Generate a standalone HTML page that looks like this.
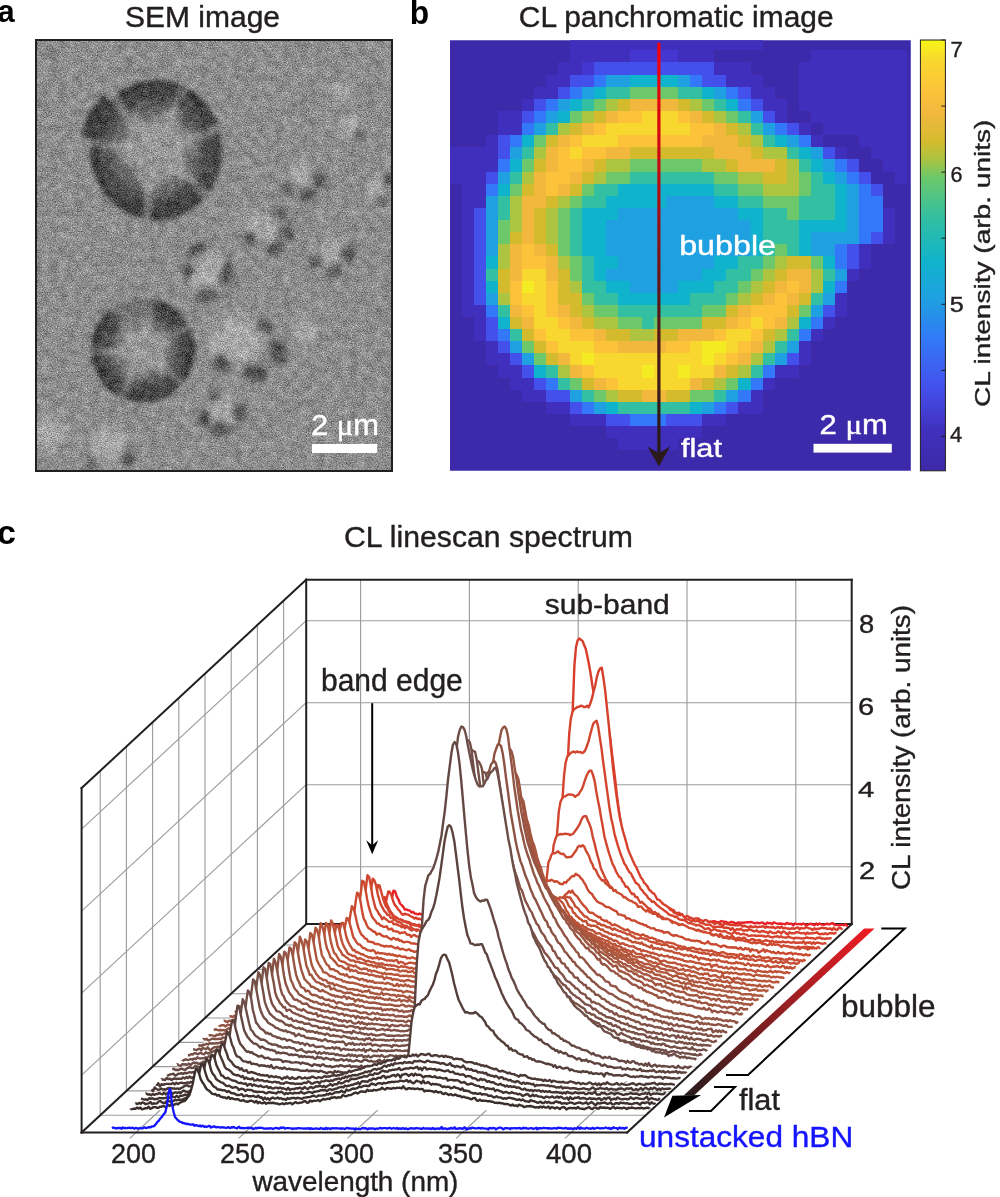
<!DOCTYPE html><html><head><meta charset="utf-8"><title>CL figure</title><style>html,body{margin:0;padding:0;background:#fff;}svg{display:block;}</style></head><body>
<svg width="1000" height="1197" viewBox="0 0 1000 1197" font-family="'Liberation Sans', Arial, Helvetica, sans-serif">
<rect width="1000" height="1197" fill="#fff"/>
<text x="-2.40" y="21.80" font-size="30.88" fill="#000" font-weight="bold">a</text>
<text x="409.80" y="23.70" font-size="32.42" fill="#000" font-weight="bold" textLength="19.40" lengthAdjust="spacingAndGlyphs">b</text>
<text x="-3.00" y="543.70" font-size="34.11" fill="#000" font-weight="bold">c</text>
<text x="125.00" y="27.00" font-size="29.05" fill="#231f20" textLength="155.00" lengthAdjust="spacingAndGlyphs" stroke="#231f20" stroke-width="0.4">SEM image</text>
<text x="518.80" y="27.40" font-size="28.60" fill="#231f20" textLength="314.80" lengthAdjust="spacingAndGlyphs" stroke="#231f20" stroke-width="0.4">CL panchromatic image</text>
<text x="344.00" y="546.80" font-size="29.53" fill="#231f20" textLength="289.00" lengthAdjust="spacingAndGlyphs" stroke="#231f20" stroke-width="0.4">CL linescan spectrum</text>
<filter id="b15" x="-20%" y="-20%" width="140%" height="140%"><feGaussianBlur stdDeviation="2.2"/></filter>
<clipPath id="semclip"><rect x="36.5" y="40.5" width="355.0" height="430.0"/></clipPath>
<filter id="b2" x="-30%" y="-30%" width="160%" height="160%"><feGaussianBlur stdDeviation="2"/></filter>
<filter id="b3" x="-30%" y="-30%" width="160%" height="160%"><feGaussianBlur stdDeviation="3"/></filter>
<filter id="b5" x="-40%" y="-40%" width="180%" height="180%"><feGaussianBlur stdDeviation="5"/></filter>
<filter id="b8" x="-50%" y="-50%" width="200%" height="200%"><feGaussianBlur stdDeviation="8"/></filter>
<filter id="noise" x="0" y="0" width="100%" height="100%" color-interpolation-filters="sRGB"><feTurbulence type="fractalNoise" baseFrequency="0.8" numOctaves="2" seed="7" result="t"/><feColorMatrix in="t" type="matrix" values="1 0 0 0 0  1 0 0 0 0  1 0 0 0 0  0 0 0 0 1" result="c"/><feGaussianBlur in="c" stdDeviation="0.5" result="cb"/><feComposite in="SourceGraphic" in2="cb" operator="arithmetic" k1="0" k2="1" k3="0.65" k4="-0.325" result="r1"/><feTurbulence type="fractalNoise" baseFrequency="0.12" numOctaves="2" seed="3" result="t2"/><feColorMatrix in="t2" type="matrix" values="1 0 0 0 0  1 0 0 0 0  1 0 0 0 0  0 0 0 0 1" result="c2"/><feComposite in="r1" in2="c2" operator="arithmetic" k1="0" k2="1" k3="0.22" k4="-0.11"/></filter>
<radialGradient id="gbig"><stop offset="0.00" stop-color="#959595"/><stop offset="0.40" stop-color="#7c7c7c"/><stop offset="0.65" stop-color="#565656"/><stop offset="0.88" stop-color="#3e3e3e"/><stop offset="1.00" stop-color="#444444"/></radialGradient>
<radialGradient id="gbig2"><stop offset="0.00" stop-color="#969696"/><stop offset="0.40" stop-color="#7e7e7e"/><stop offset="0.65" stop-color="#585858"/><stop offset="0.88" stop-color="#404040"/><stop offset="1.00" stop-color="#464646"/></radialGradient>
<radialGradient id="glight"><stop offset="0.00" stop-color="#a2a2a2"/><stop offset="0.60" stop-color="#9a9a9a"/><stop offset="1.00" stop-color="#8b8b8b"/></radialGradient>
<g clip-path="url(#semclip)"><g filter="url(#noise)">
<rect x="36.5" y="40.5" width="355.0" height="430.0" fill="#8d8d8d"/>
<radialGradient id="gb1" gradientUnits="userSpaceOnUse" cx="156.0" cy="150.0" r="71.4"><stop offset="0" stop-color="#8c8c8c"/><stop offset="0.43" stop-color="#767676"/><stop offset="0.72" stop-color="#505050"/><stop offset="0.95" stop-color="#3a3a3a"/><stop offset="1" stop-color="#404040"/></radialGradient>
<g filter="url(#b15)">
<ellipse cx="156.0" cy="150.0" rx="66.0" ry="70.0" fill="#747474"/>
<path d="M203.9,198.2 L202.2,200.0 L200.4,201.8 L198.5,203.5 L196.6,205.2 L194.7,206.7 L192.7,208.2 L190.6,209.6 L188.5,210.9 L186.3,212.2 L184.2,213.3 L181.9,214.4 L179.7,215.4 L177.4,216.2 L175.0,217.0 L172.7,217.7 L170.3,218.3 L167.9,218.9 L165.5,219.3 L163.0,219.6 L160.6,219.8 L158.2,220.0 L155.7,220.0 L153.3,219.9 L150.8,219.8 L153.6,179.9 L154.8,180.0 L155.9,180.0 L157.0,180.0 L158.1,179.9 L159.2,179.8 L160.3,179.7 L161.4,179.5 L162.5,179.3 L163.6,179.0 L164.6,178.7 L165.7,178.4 L166.8,178.0 L167.8,177.6 L168.8,177.1 L169.8,176.6 L170.8,176.1 L171.7,175.5 L172.7,174.9 L173.6,174.3 L174.5,173.6 L175.3,172.9 L176.2,172.2 L177.0,171.4 L177.8,170.7 Z" fill="url(#gb1)"/>
<path d="M142.8,218.6 L139.1,217.7 L135.3,216.5 L131.7,215.1 L128.1,213.4 L124.6,211.6 L121.3,209.5 L118.0,207.3 L114.9,204.8 L111.9,202.1 L109.1,199.3 L106.5,196.3 L104.0,193.1 L101.7,189.8 L99.6,186.3 L97.7,182.7 L95.9,179.0 L94.4,175.2 L93.1,171.3 L92.1,167.4 L91.2,163.4 L90.6,159.3 L90.2,155.2 L90.0,151.1 L90.1,146.9 L126.0,148.7 L126.0,150.5 L126.1,152.2 L126.3,154.0 L126.6,155.7 L126.9,157.4 L127.4,159.1 L128.0,160.8 L128.7,162.4 L129.5,164.0 L130.4,165.6 L131.3,167.0 L132.4,168.5 L133.5,169.8 L134.7,171.1 L136.0,172.3 L137.3,173.5 L138.7,174.5 L140.2,175.5 L141.7,176.4 L143.3,177.2 L144.9,177.9 L146.6,178.5 L148.3,179.0 L150.0,179.4 Z" fill="url(#gb1)"/>
<path d="M81.0,137.5 L81.4,135.4 L81.8,133.4 L82.3,131.5 L82.8,129.5 L83.4,127.5 L84.0,125.6 L84.7,123.6 L85.5,121.7 L86.2,119.8 L87.1,118.0 L88.0,116.1 L88.9,114.3 L89.9,112.5 L90.9,110.8 L92.0,109.0 L93.1,107.3 L94.3,105.6 L95.5,104.0 L96.8,102.4 L98.1,100.8 L99.4,99.3 L100.8,97.8 L102.2,96.3 L103.7,94.9 L135.3,128.2 L134.8,128.8 L134.2,129.4 L133.7,130.0 L133.1,130.6 L132.6,131.2 L132.1,131.8 L131.6,132.5 L131.2,133.2 L130.7,133.8 L130.3,134.5 L129.9,135.2 L129.5,135.9 L129.1,136.6 L128.8,137.4 L128.5,138.1 L128.2,138.8 L127.9,139.6 L127.6,140.4 L127.3,141.1 L127.1,141.9 L126.9,142.7 L126.7,143.5 L126.6,144.3 L126.4,145.0 Z" fill="url(#gb1)"/>
<path d="M116.7,93.7 L119.0,92.1 L121.3,90.5 L123.6,89.0 L126.0,87.6 L128.5,86.4 L131.0,85.2 L133.6,84.2 L136.2,83.2 L138.8,82.4 L141.4,81.7 L144.1,81.1 L146.8,80.7 L149.5,80.3 L152.3,80.1 L155.0,80.0 L157.7,80.0 L160.5,80.2 L163.2,80.4 L165.9,80.8 L168.6,81.3 L171.3,81.9 L173.9,82.6 L176.5,83.5 L179.1,84.4 L166.5,121.9 L165.3,121.5 L164.1,121.1 L162.9,120.8 L161.7,120.6 L160.5,120.3 L159.3,120.2 L158.0,120.1 L156.8,120.0 L155.5,120.0 L154.3,120.0 L153.1,120.1 L151.8,120.3 L150.6,120.5 L149.4,120.7 L148.2,121.0 L147.0,121.4 L145.8,121.8 L144.6,122.2 L143.5,122.7 L142.4,123.3 L141.3,123.9 L140.2,124.5 L139.2,125.2 L138.2,125.9 Z" fill="url(#gb1)"/>
<path d="M186.5,87.9 L188.2,88.9 L189.9,89.9 L191.6,91.0 L193.2,92.2 L194.8,93.4 L196.4,94.7 L197.9,96.0 L199.4,97.3 L200.9,98.7 L202.3,100.1 L203.7,101.6 L205.0,103.2 L206.3,104.7 L207.6,106.3 L208.8,108.0 L210.0,109.7 L211.1,111.4 L212.1,113.2 L213.1,115.0 L214.1,116.8 L215.0,118.6 L215.9,120.5 L216.7,122.4 L217.4,124.3 L183.9,139.0 L183.6,138.2 L183.2,137.4 L182.8,136.6 L182.4,135.8 L182.0,135.0 L181.5,134.2 L181.0,133.5 L180.5,132.7 L180.0,132.0 L179.5,131.3 L178.9,130.6 L178.3,129.9 L177.7,129.3 L177.1,128.6 L176.4,128.0 L175.7,127.4 L175.1,126.8 L174.4,126.3 L173.7,125.7 L172.9,125.2 L172.2,124.7 L171.4,124.3 L170.6,123.8 L169.9,123.4 Z" fill="url(#gb1)"/>
<path d="M219.9,132.5 L220.5,135.0 L220.9,137.5 L221.3,140.1 L221.6,142.7 L221.8,145.3 L222.0,147.9 L222.0,150.5 L221.9,153.1 L221.8,155.6 L221.5,158.2 L221.2,160.8 L220.8,163.4 L220.3,165.9 L219.7,168.4 L219.0,170.9 L218.2,173.4 L217.4,175.8 L216.4,178.2 L215.4,180.5 L214.3,182.9 L213.1,185.1 L211.8,187.4 L210.5,189.5 L209.1,191.6 L180.1,167.8 L180.8,166.9 L181.4,166.0 L181.9,165.1 L182.5,164.1 L183.0,163.1 L183.5,162.1 L183.9,161.1 L184.3,160.0 L184.6,159.0 L184.9,157.9 L185.2,156.8 L185.4,155.7 L185.6,154.6 L185.8,153.5 L185.9,152.4 L186.0,151.3 L186.0,150.2 L186.0,149.1 L185.9,148.0 L185.8,146.9 L185.7,145.8 L185.5,144.7 L185.3,143.6 L185.0,142.5 Z" fill="url(#gb1)"/>
</g>
<g filter="url(#b3)"><path d="M194.6,182.4 L165.7,175.2 L149.0,199.9 L134.7,166.6 L105.9,144.7 L132.2,137.3 L123.6,111.4 L152.2,123.3 L176.5,104.0 L176.1,131.9 L203.9,134.4 L182.5,155.2 Z" fill="#979797"/></g>
<radialGradient id="gb2" gradientUnits="userSpaceOnUse" cx="143.0" cy="350.0" r="53.0"><stop offset="0" stop-color="#8c8c8c"/><stop offset="0.42" stop-color="#767676"/><stop offset="0.72" stop-color="#505050"/><stop offset="0.95" stop-color="#3a3a3a"/><stop offset="1" stop-color="#404040"/></radialGradient>
<g filter="url(#b15)">
<ellipse cx="143.0" cy="350.0" rx="52.0" ry="52.0" fill="#747474"/>
<path d="M180.7,385.8 L178.9,387.6 L177.0,389.3 L175.0,391.0 L172.9,392.5 L170.8,393.9 L168.6,395.3 L166.3,396.5 L164.0,397.6 L161.6,398.5 L159.2,399.4 L156.8,400.1 L154.3,400.8 L151.7,401.3 L149.2,401.6 L146.6,401.9 L144.1,402.0 L141.5,402.0 L138.9,401.8 L136.4,401.6 L133.8,401.2 L131.3,400.7 L128.8,400.0 L126.4,399.3 L123.9,398.4 L134.9,370.5 L136.0,370.8 L137.0,371.2 L138.1,371.4 L139.1,371.7 L140.2,371.8 L141.3,371.9 L142.4,372.0 L143.4,372.0 L144.5,371.9 L145.6,371.8 L146.7,371.7 L147.8,371.5 L148.8,371.2 L149.9,370.9 L150.9,370.5 L151.9,370.1 L152.9,369.7 L153.8,369.1 L154.8,368.6 L155.7,368.0 L156.5,367.3 L157.4,366.6 L158.2,365.9 L159.0,365.1 Z" fill="url(#gb2)"/>
<path d="M118.2,395.7 L116.3,394.7 L114.6,393.5 L112.8,392.3 L111.1,391.1 L109.5,389.7 L107.9,388.3 L106.3,386.9 L104.9,385.4 L103.5,383.8 L102.1,382.1 L100.8,380.4 L99.6,378.7 L98.5,376.9 L97.4,375.1 L96.5,373.2 L95.6,371.3 L94.7,369.3 L94.0,367.4 L93.3,365.3 L92.7,363.3 L92.2,361.3 L91.8,359.2 L91.5,357.1 L91.2,355.0 L121.1,352.1 L121.2,353.0 L121.3,353.9 L121.5,354.8 L121.7,355.6 L122.0,356.5 L122.3,357.3 L122.6,358.2 L122.9,359.0 L123.3,359.8 L123.7,360.6 L124.2,361.4 L124.7,362.1 L125.2,362.9 L125.7,363.6 L126.3,364.3 L126.9,365.0 L127.5,365.6 L128.1,366.2 L128.8,366.8 L129.5,367.4 L130.2,367.9 L131.0,368.4 L131.7,368.9 L132.5,369.3 Z" fill="url(#gb2)"/>
<path d="M91.0,348.6 L91.1,346.7 L91.3,344.8 L91.5,342.9 L91.8,341.0 L92.2,339.1 L92.6,337.2 L93.1,335.3 L93.7,333.5 L94.3,331.7 L95.0,329.9 L95.8,328.1 L96.7,326.4 L97.6,324.7 L98.5,323.0 L99.6,321.4 L100.7,319.8 L101.8,318.3 L103.0,316.7 L104.3,315.3 L105.6,313.9 L107.0,312.5 L108.4,311.2 L109.8,309.9 L111.3,308.7 L129.6,332.5 L129.0,333.1 L128.4,333.6 L127.8,334.1 L127.2,334.7 L126.6,335.3 L126.1,335.9 L125.6,336.6 L125.1,337.2 L124.6,337.9 L124.2,338.6 L123.8,339.3 L123.4,340.0 L123.0,340.7 L122.7,341.5 L122.4,342.3 L122.1,343.0 L121.9,343.8 L121.7,344.6 L121.5,345.4 L121.3,346.2 L121.2,347.0 L121.1,347.8 L121.0,348.6 L121.0,349.4 Z" fill="url(#gb2)"/>
<path d="M155.1,299.4 L156.8,299.9 L158.5,300.4 L160.1,300.9 L161.8,301.5 L163.4,302.2 L165.0,302.9 L166.5,303.6 L168.1,304.4 L169.6,305.3 L171.1,306.2 L172.5,307.2 L173.9,308.2 L175.3,309.3 L176.7,310.4 L178.0,311.5 L179.2,312.7 L180.5,313.9 L181.6,315.2 L182.8,316.5 L183.9,317.9 L184.9,319.3 L185.9,320.7 L186.9,322.1 L187.8,323.6 L162.0,338.8 L161.6,338.2 L161.2,337.6 L160.7,337.0 L160.3,336.4 L159.8,335.8 L159.3,335.3 L158.8,334.7 L158.3,334.2 L157.8,333.7 L157.2,333.2 L156.7,332.8 L156.1,332.3 L155.5,331.9 L154.9,331.5 L154.2,331.1 L153.6,330.7 L153.0,330.4 L152.3,330.1 L151.6,329.8 L150.9,329.5 L150.3,329.2 L149.6,329.0 L148.8,328.8 L148.1,328.6 Z" fill="url(#gb2)"/>
<path d="M190.7,329.3 L191.5,331.4 L192.3,333.5 L193.0,335.7 L193.6,337.9 L194.0,340.1 L194.4,342.3 L194.7,344.6 L194.9,346.8 L195.0,349.1 L195.0,351.4 L194.9,353.6 L194.7,355.9 L194.4,358.1 L194.0,360.4 L193.5,362.6 L192.9,364.8 L192.2,366.9 L191.4,369.1 L190.5,371.2 L189.5,373.2 L188.5,375.2 L187.3,377.2 L186.1,379.1 L184.8,380.9 L160.7,363.1 L161.2,362.3 L161.8,361.5 L162.2,360.7 L162.7,359.8 L163.1,358.9 L163.5,358.1 L163.8,357.2 L164.1,356.2 L164.3,355.3 L164.6,354.4 L164.7,353.4 L164.9,352.5 L164.9,351.5 L165.0,350.6 L165.0,349.6 L165.0,348.7 L164.9,347.7 L164.8,346.7 L164.6,345.8 L164.4,344.9 L164.1,343.9 L163.9,343.0 L163.5,342.1 L163.2,341.2 Z" fill="url(#gb2)"/>
</g>
<g filter="url(#b3)"><path d="M171.7,374.1 L147.3,369.3 L127.2,383.9 L126.5,360.9 L105.6,351.3 L125.4,341.0 L122.1,319.0 L138.9,330.6 L149.5,313.1 L154.8,334.1 L176.4,333.0 L162.7,352.2 Z" fill="#979797"/></g>
<g filter="url(#b5)"><circle cx="207" cy="271" r="19" fill="#a6a6a6"/></g>
<g filter="url(#b3)" opacity="0.9">
<ellipse cx="227" cy="274" rx="6" ry="13" fill="#484848" transform="rotate(0 227 274)"/>
<ellipse cx="207" cy="296" rx="11" ry="6" fill="#484848" transform="rotate(0 207 296)"/>
<ellipse cx="196" cy="250" rx="10" ry="6" fill="#484848" transform="rotate(-30 196 250)"/>
<ellipse cx="188" cy="270" rx="5" ry="8" fill="#484848" transform="rotate(0 188 270)"/>
</g>
<g filter="url(#b5)"><circle cx="236" cy="342" r="27" fill="#a6a6a6"/></g>
<g filter="url(#b3)" opacity="0.9">
<ellipse cx="278" cy="352" rx="8" ry="13" fill="#484848" transform="rotate(-10 278 352)"/>
<ellipse cx="255" cy="373" rx="13" ry="8" fill="#484848" transform="rotate(10 255 373)"/>
<ellipse cx="222" cy="364" rx="10" ry="8" fill="#484848" transform="rotate(30 222 364)"/>
<ellipse cx="265" cy="326" rx="8" ry="6" fill="#484848" transform="rotate(20 265 326)"/>
</g>
<g filter="url(#b5)"><circle cx="221" cy="411" r="14" fill="#a6a6a6"/></g>
<g filter="url(#b3)" opacity="0.9">
<ellipse cx="240" cy="413" rx="6" ry="10" fill="#484848" transform="rotate(0 240 413)"/>
<ellipse cx="221" cy="429" rx="11" ry="6" fill="#484848" transform="rotate(0 221 429)"/>
<ellipse cx="205" cy="419" rx="6" ry="8" fill="#484848" transform="rotate(0 205 419)"/>
<ellipse cx="214" cy="396" rx="6" ry="4" fill="#484848" transform="rotate(0 214 396)"/>
</g>
<g filter="url(#b5)"><circle cx="300" cy="177" r="13" fill="#a6a6a6"/></g>
<g filter="url(#b3)" opacity="0.9">
<ellipse cx="319" cy="180" rx="6" ry="9" fill="#484848" transform="rotate(0 319 180)"/>
<ellipse cx="307" cy="195" rx="9" ry="6" fill="#484848" transform="rotate(0 307 195)"/>
<ellipse cx="288" cy="188" rx="5" ry="7" fill="#484848" transform="rotate(0 288 188)"/>
</g>
<g filter="url(#b5)"><circle cx="261" cy="226" r="16" fill="#a6a6a6"/></g>
<g filter="url(#b3)" opacity="0.9">
<ellipse cx="280" cy="213" rx="7" ry="6" fill="#484848" transform="rotate(30 280 213)"/>
<ellipse cx="288" cy="233" rx="6" ry="9" fill="#484848" transform="rotate(0 288 233)"/>
<ellipse cx="275" cy="249" rx="9" ry="6" fill="#484848" transform="rotate(0 275 249)"/>
<ellipse cx="250" cy="239" rx="6" ry="7" fill="#484848" transform="rotate(0 250 239)"/>
</g>
<g filter="url(#b5)"><circle cx="331" cy="252" r="14" fill="#a6a6a6"/></g>
<g filter="url(#b3)" opacity="0.9">
<ellipse cx="348" cy="254" rx="6" ry="10" fill="#484848" transform="rotate(0 348 254)"/>
<ellipse cx="334" cy="271" rx="9" ry="5" fill="#484848" transform="rotate(0 334 271)"/>
<ellipse cx="315" cy="262" rx="5" ry="7" fill="#484848" transform="rotate(0 315 262)"/>
</g>
<g filter="url(#b5)"><circle cx="348" cy="126" r="11" fill="#a6a6a6"/></g>
<g filter="url(#b3)" opacity="0.9">
<ellipse cx="359" cy="134" rx="5" ry="5" fill="#484848" transform="rotate(0 359 134)"/>
</g>
<g filter="url(#b5)"><circle cx="378" cy="188" r="11" fill="#a6a6a6"/></g>
<g filter="url(#b3)" opacity="0.9">
<ellipse cx="389" cy="180" rx="5" ry="6" fill="#484848" transform="rotate(0 389 180)"/>
<ellipse cx="382" cy="201" rx="5" ry="4" fill="#484848" transform="rotate(0 382 201)"/>
</g>
<g filter="url(#b5)"><circle cx="305" cy="331" r="12" fill="#a6a6a6"/></g>
<g filter="url(#b5)"><circle cx="50" cy="432" r="17" fill="#a6a6a6"/></g>
<g filter="url(#b5)"><circle cx="108" cy="446" r="19" fill="#a6a6a6"/></g>
<g filter="url(#b3)" opacity="0.9">
<ellipse cx="128" cy="458" rx="7" ry="7" fill="#484848" transform="rotate(0 128 458)"/>
<ellipse cx="92" cy="463" rx="6" ry="5" fill="#484848" transform="rotate(0 92 463)"/>
</g>
<g filter="url(#b5)"><circle cx="342" cy="92" r="9" fill="#a6a6a6"/></g>
<g filter="url(#b3)"><circle cx="52" cy="52" r="5" fill="#6a6a6a"/></g>
</g></g>
<rect x="36.0" y="40.0" width="356.0" height="431.0" fill="none" stroke="#231f20" stroke-width="2"/>
<rect x="312" y="444" width="65.2" height="9" fill="#fff"/>
<text x="311.00" y="435.20" font-size="29.48" fill="#fff" textLength="68.00" lengthAdjust="spacingAndGlyphs" stroke="#fff" stroke-width="0.4">2 <tspan font-family="'Liberation Serif', serif">&#956;</tspan>m</text>
<clipPath id="clclip"><rect x="450.0" y="40.3" width="460.8" height="430.5"/></clipPath>
<g clip-path="url(#clclip)" shape-rendering="crispEdges">
<rect x="450.0" y="40.3" width="460.8" height="430.5" fill="#3c2aab"/>
<rect x="570.20" y="38.23" width="192.32" height="12.12" fill="#402fbc"/>
<rect x="570.20" y="50.35" width="60.10" height="12.12" fill="#402fbc"/>
<rect x="630.30" y="50.35" width="48.08" height="12.12" fill="#4436d0"/>
<rect x="678.38" y="50.35" width="36.06" height="12.12" fill="#402fbc"/>
<rect x="810.60" y="50.35" width="96.16" height="12.12" fill="#402fbc"/>
<rect x="558.18" y="62.47" width="24.04" height="12.12" fill="#402fbc"/>
<rect x="582.22" y="62.47" width="12.02" height="12.12" fill="#4436d0"/>
<rect x="594.24" y="62.47" width="120.20" height="12.12" fill="#4450ec"/>
<rect x="714.44" y="62.47" width="36.06" height="12.12" fill="#402fbc"/>
<rect x="798.58" y="62.47" width="108.18" height="12.12" fill="#402fbc"/>
<rect x="546.16" y="74.59" width="24.04" height="12.12" fill="#402fbc"/>
<rect x="570.20" y="74.59" width="24.04" height="12.12" fill="#4450ec"/>
<rect x="594.24" y="74.59" width="12.02" height="12.12" fill="#3378f8"/>
<rect x="606.26" y="74.59" width="24.04" height="12.12" fill="#1fa0e1"/>
<rect x="630.30" y="74.59" width="48.08" height="12.12" fill="#10b3cc"/>
<rect x="678.38" y="74.59" width="12.02" height="12.12" fill="#1fa0e1"/>
<rect x="690.40" y="74.59" width="12.02" height="12.12" fill="#3378f8"/>
<rect x="702.42" y="74.59" width="24.04" height="12.12" fill="#4450ec"/>
<rect x="726.46" y="74.59" width="36.06" height="12.12" fill="#402fbc"/>
<rect x="798.58" y="74.59" width="108.18" height="12.12" fill="#402fbc"/>
<rect x="534.14" y="86.71" width="24.04" height="12.12" fill="#402fbc"/>
<rect x="558.18" y="86.71" width="12.02" height="12.12" fill="#4450ec"/>
<rect x="570.20" y="86.71" width="12.02" height="12.12" fill="#3378f8"/>
<rect x="582.22" y="86.71" width="12.02" height="12.12" fill="#1fa0e1"/>
<rect x="594.24" y="86.71" width="12.02" height="12.12" fill="#10b3cc"/>
<rect x="606.26" y="86.71" width="24.04" height="12.12" fill="#32bfa2"/>
<rect x="630.30" y="86.71" width="48.08" height="12.12" fill="#6cc86a"/>
<rect x="678.38" y="86.71" width="24.04" height="12.12" fill="#32bfa2"/>
<rect x="702.42" y="86.71" width="12.02" height="12.12" fill="#10b3cc"/>
<rect x="714.44" y="86.71" width="12.02" height="12.12" fill="#1fa0e1"/>
<rect x="726.46" y="86.71" width="12.02" height="12.12" fill="#3378f8"/>
<rect x="738.48" y="86.71" width="12.02" height="12.12" fill="#4450ec"/>
<rect x="750.50" y="86.71" width="24.04" height="12.12" fill="#402fbc"/>
<rect x="798.58" y="86.71" width="108.18" height="12.12" fill="#402fbc"/>
<rect x="522.12" y="98.83" width="12.02" height="12.12" fill="#402fbc"/>
<rect x="534.14" y="98.83" width="12.02" height="12.12" fill="#4450ec"/>
<rect x="546.16" y="98.83" width="12.02" height="12.12" fill="#3378f8"/>
<rect x="558.18" y="98.83" width="12.02" height="12.12" fill="#1fa0e1"/>
<rect x="570.20" y="98.83" width="12.02" height="12.12" fill="#10b3cc"/>
<rect x="582.22" y="98.83" width="12.02" height="12.12" fill="#32bfa2"/>
<rect x="594.24" y="98.83" width="12.02" height="12.12" fill="#6cc86a"/>
<rect x="606.26" y="98.83" width="12.02" height="12.12" fill="#acc440"/>
<rect x="618.28" y="98.83" width="12.02" height="12.12" fill="#d4bb2e"/>
<rect x="630.30" y="98.83" width="48.08" height="12.12" fill="#f2b83e"/>
<rect x="678.38" y="98.83" width="12.02" height="12.12" fill="#d4bb2e"/>
<rect x="690.40" y="98.83" width="12.02" height="12.12" fill="#acc440"/>
<rect x="702.42" y="98.83" width="12.02" height="12.12" fill="#6cc86a"/>
<rect x="714.44" y="98.83" width="12.02" height="12.12" fill="#32bfa2"/>
<rect x="726.46" y="98.83" width="12.02" height="12.12" fill="#10b3cc"/>
<rect x="738.48" y="98.83" width="12.02" height="12.12" fill="#3378f8"/>
<rect x="750.50" y="98.83" width="12.02" height="12.12" fill="#4450ec"/>
<rect x="762.52" y="98.83" width="24.04" height="12.12" fill="#402fbc"/>
<rect x="798.58" y="98.83" width="108.18" height="12.12" fill="#402fbc"/>
<rect x="498.08" y="110.95" width="24.04" height="12.12" fill="#402fbc"/>
<rect x="522.12" y="110.95" width="12.02" height="12.12" fill="#4450ec"/>
<rect x="534.14" y="110.95" width="12.02" height="12.12" fill="#3378f8"/>
<rect x="546.16" y="110.95" width="12.02" height="12.12" fill="#1fa0e1"/>
<rect x="558.18" y="110.95" width="12.02" height="12.12" fill="#10b3cc"/>
<rect x="570.20" y="110.95" width="12.02" height="12.12" fill="#6cc86a"/>
<rect x="582.22" y="110.95" width="12.02" height="12.12" fill="#acc440"/>
<rect x="594.24" y="110.95" width="12.02" height="12.12" fill="#d4bb2e"/>
<rect x="606.26" y="110.95" width="12.02" height="12.12" fill="#f2b83e"/>
<rect x="618.28" y="110.95" width="24.04" height="12.12" fill="#fcc33a"/>
<rect x="642.32" y="110.95" width="36.06" height="12.12" fill="#f8d82e"/>
<rect x="678.38" y="110.95" width="12.02" height="12.12" fill="#fcc33a"/>
<rect x="690.40" y="110.95" width="12.02" height="12.12" fill="#f2b83e"/>
<rect x="702.42" y="110.95" width="12.02" height="12.12" fill="#d4bb2e"/>
<rect x="714.44" y="110.95" width="12.02" height="12.12" fill="#acc440"/>
<rect x="726.46" y="110.95" width="12.02" height="12.12" fill="#6cc86a"/>
<rect x="738.48" y="110.95" width="12.02" height="12.12" fill="#32bfa2"/>
<rect x="750.50" y="110.95" width="12.02" height="12.12" fill="#1fa0e1"/>
<rect x="762.52" y="110.95" width="12.02" height="12.12" fill="#4450ec"/>
<rect x="774.54" y="110.95" width="12.02" height="12.12" fill="#402fbc"/>
<rect x="810.60" y="110.95" width="96.16" height="12.12" fill="#402fbc"/>
<rect x="498.08" y="123.07" width="24.04" height="12.12" fill="#402fbc"/>
<rect x="522.12" y="123.07" width="12.02" height="12.12" fill="#3378f8"/>
<rect x="534.14" y="123.07" width="12.02" height="12.12" fill="#1fa0e1"/>
<rect x="546.16" y="123.07" width="12.02" height="12.12" fill="#32bfa2"/>
<rect x="558.18" y="123.07" width="12.02" height="12.12" fill="#acc440"/>
<rect x="570.20" y="123.07" width="12.02" height="12.12" fill="#d4bb2e"/>
<rect x="582.22" y="123.07" width="12.02" height="12.12" fill="#f2b83e"/>
<rect x="594.24" y="123.07" width="12.02" height="12.12" fill="#fcc33a"/>
<rect x="606.26" y="123.07" width="84.14" height="12.12" fill="#f8d82e"/>
<rect x="690.40" y="123.07" width="24.04" height="12.12" fill="#fcc33a"/>
<rect x="714.44" y="123.07" width="12.02" height="12.12" fill="#f2b83e"/>
<rect x="726.46" y="123.07" width="12.02" height="12.12" fill="#d4bb2e"/>
<rect x="738.48" y="123.07" width="12.02" height="12.12" fill="#acc440"/>
<rect x="750.50" y="123.07" width="12.02" height="12.12" fill="#32bfa2"/>
<rect x="762.52" y="123.07" width="12.02" height="12.12" fill="#1fa0e1"/>
<rect x="774.54" y="123.07" width="12.02" height="12.12" fill="#3378f8"/>
<rect x="786.56" y="123.07" width="12.02" height="12.12" fill="#4450ec"/>
<rect x="798.58" y="123.07" width="12.02" height="12.12" fill="#402fbc"/>
<rect x="822.62" y="123.07" width="84.14" height="12.12" fill="#402fbc"/>
<rect x="486.06" y="135.19" width="12.02" height="12.12" fill="#402fbc"/>
<rect x="498.08" y="135.19" width="12.02" height="12.12" fill="#4450ec"/>
<rect x="510.10" y="135.19" width="12.02" height="12.12" fill="#3378f8"/>
<rect x="522.12" y="135.19" width="12.02" height="12.12" fill="#10b3cc"/>
<rect x="534.14" y="135.19" width="12.02" height="12.12" fill="#6cc86a"/>
<rect x="546.16" y="135.19" width="12.02" height="12.12" fill="#d4bb2e"/>
<rect x="558.18" y="135.19" width="12.02" height="12.12" fill="#f2b83e"/>
<rect x="570.20" y="135.19" width="12.02" height="12.12" fill="#fcc33a"/>
<rect x="582.22" y="135.19" width="36.06" height="12.12" fill="#f8d82e"/>
<rect x="618.28" y="135.19" width="84.14" height="12.12" fill="#fcc33a"/>
<rect x="702.42" y="135.19" width="36.06" height="12.12" fill="#f2b83e"/>
<rect x="738.48" y="135.19" width="12.02" height="12.12" fill="#d4bb2e"/>
<rect x="750.50" y="135.19" width="12.02" height="12.12" fill="#acc440"/>
<rect x="762.52" y="135.19" width="12.02" height="12.12" fill="#32bfa2"/>
<rect x="774.54" y="135.19" width="12.02" height="12.12" fill="#10b3cc"/>
<rect x="786.56" y="135.19" width="12.02" height="12.12" fill="#1fa0e1"/>
<rect x="798.58" y="135.19" width="12.02" height="12.12" fill="#3378f8"/>
<rect x="810.60" y="135.19" width="12.02" height="12.12" fill="#402fbc"/>
<rect x="858.68" y="135.19" width="48.08" height="12.12" fill="#402fbc"/>
<rect x="450.00" y="147.31" width="48.08" height="12.12" fill="#402fbc"/>
<rect x="498.08" y="147.31" width="12.02" height="12.12" fill="#4450ec"/>
<rect x="510.10" y="147.31" width="12.02" height="12.12" fill="#1fa0e1"/>
<rect x="522.12" y="147.31" width="12.02" height="12.12" fill="#32bfa2"/>
<rect x="534.14" y="147.31" width="12.02" height="12.12" fill="#acc440"/>
<rect x="546.16" y="147.31" width="12.02" height="12.12" fill="#f2b83e"/>
<rect x="558.18" y="147.31" width="12.02" height="12.12" fill="#fcc33a"/>
<rect x="570.20" y="147.31" width="12.02" height="12.12" fill="#f8d82e"/>
<rect x="582.22" y="147.31" width="24.04" height="12.12" fill="#fcc33a"/>
<rect x="606.26" y="147.31" width="24.04" height="12.12" fill="#f2b83e"/>
<rect x="630.30" y="147.31" width="84.14" height="12.12" fill="#d4bb2e"/>
<rect x="714.44" y="147.31" width="36.06" height="12.12" fill="#f2b83e"/>
<rect x="750.50" y="147.31" width="12.02" height="12.12" fill="#d4bb2e"/>
<rect x="762.52" y="147.31" width="24.04" height="12.12" fill="#acc440"/>
<rect x="786.56" y="147.31" width="12.02" height="12.12" fill="#32bfa2"/>
<rect x="798.58" y="147.31" width="12.02" height="12.12" fill="#10b3cc"/>
<rect x="810.60" y="147.31" width="12.02" height="12.12" fill="#1fa0e1"/>
<rect x="822.62" y="147.31" width="12.02" height="12.12" fill="#4450ec"/>
<rect x="834.64" y="147.31" width="12.02" height="12.12" fill="#402fbc"/>
<rect x="870.70" y="147.31" width="36.06" height="12.12" fill="#402fbc"/>
<rect x="450.00" y="159.43" width="48.08" height="12.12" fill="#402fbc"/>
<rect x="498.08" y="159.43" width="12.02" height="12.12" fill="#3378f8"/>
<rect x="510.10" y="159.43" width="12.02" height="12.12" fill="#10b3cc"/>
<rect x="522.12" y="159.43" width="12.02" height="12.12" fill="#6cc86a"/>
<rect x="534.14" y="159.43" width="12.02" height="12.12" fill="#d4bb2e"/>
<rect x="546.16" y="159.43" width="12.02" height="12.12" fill="#f2b83e"/>
<rect x="558.18" y="159.43" width="24.04" height="12.12" fill="#fcc33a"/>
<rect x="582.22" y="159.43" width="12.02" height="12.12" fill="#f2b83e"/>
<rect x="594.24" y="159.43" width="12.02" height="12.12" fill="#d4bb2e"/>
<rect x="606.26" y="159.43" width="24.04" height="12.12" fill="#acc440"/>
<rect x="630.30" y="159.43" width="72.12" height="12.12" fill="#6cc86a"/>
<rect x="702.42" y="159.43" width="24.04" height="12.12" fill="#acc440"/>
<rect x="726.46" y="159.43" width="12.02" height="12.12" fill="#d4bb2e"/>
<rect x="738.48" y="159.43" width="36.06" height="12.12" fill="#f2b83e"/>
<rect x="774.54" y="159.43" width="12.02" height="12.12" fill="#d4bb2e"/>
<rect x="786.56" y="159.43" width="12.02" height="12.12" fill="#acc440"/>
<rect x="798.58" y="159.43" width="12.02" height="12.12" fill="#32bfa2"/>
<rect x="810.60" y="159.43" width="12.02" height="12.12" fill="#10b3cc"/>
<rect x="822.62" y="159.43" width="12.02" height="12.12" fill="#1fa0e1"/>
<rect x="834.64" y="159.43" width="12.02" height="12.12" fill="#3378f8"/>
<rect x="846.66" y="159.43" width="12.02" height="12.12" fill="#4450ec"/>
<rect x="882.72" y="159.43" width="24.04" height="12.12" fill="#402fbc"/>
<rect x="450.00" y="171.55" width="36.06" height="12.12" fill="#402fbc"/>
<rect x="486.06" y="171.55" width="12.02" height="12.12" fill="#4450ec"/>
<rect x="498.08" y="171.55" width="12.02" height="12.12" fill="#1fa0e1"/>
<rect x="510.10" y="171.55" width="12.02" height="12.12" fill="#32bfa2"/>
<rect x="522.12" y="171.55" width="12.02" height="12.12" fill="#acc440"/>
<rect x="534.14" y="171.55" width="12.02" height="12.12" fill="#f2b83e"/>
<rect x="546.16" y="171.55" width="24.04" height="12.12" fill="#fcc33a"/>
<rect x="570.20" y="171.55" width="12.02" height="12.12" fill="#f2b83e"/>
<rect x="582.22" y="171.55" width="12.02" height="12.12" fill="#d4bb2e"/>
<rect x="594.24" y="171.55" width="12.02" height="12.12" fill="#acc440"/>
<rect x="606.26" y="171.55" width="24.04" height="12.12" fill="#6cc86a"/>
<rect x="630.30" y="171.55" width="84.14" height="12.12" fill="#32bfa2"/>
<rect x="714.44" y="171.55" width="24.04" height="12.12" fill="#6cc86a"/>
<rect x="738.48" y="171.55" width="24.04" height="12.12" fill="#acc440"/>
<rect x="762.52" y="171.55" width="24.04" height="12.12" fill="#d4bb2e"/>
<rect x="786.56" y="171.55" width="12.02" height="12.12" fill="#acc440"/>
<rect x="798.58" y="171.55" width="12.02" height="12.12" fill="#6cc86a"/>
<rect x="810.60" y="171.55" width="12.02" height="12.12" fill="#32bfa2"/>
<rect x="822.62" y="171.55" width="12.02" height="12.12" fill="#10b3cc"/>
<rect x="834.64" y="171.55" width="12.02" height="12.12" fill="#1fa0e1"/>
<rect x="846.66" y="171.55" width="12.02" height="12.12" fill="#3378f8"/>
<rect x="858.68" y="171.55" width="12.02" height="12.12" fill="#4450ec"/>
<rect x="894.74" y="171.55" width="12.02" height="12.12" fill="#402fbc"/>
<rect x="462.02" y="183.67" width="24.04" height="12.12" fill="#402fbc"/>
<rect x="486.06" y="183.67" width="12.02" height="12.12" fill="#3378f8"/>
<rect x="498.08" y="183.67" width="12.02" height="12.12" fill="#10b3cc"/>
<rect x="510.10" y="183.67" width="12.02" height="12.12" fill="#6cc86a"/>
<rect x="522.12" y="183.67" width="12.02" height="12.12" fill="#d4bb2e"/>
<rect x="534.14" y="183.67" width="12.02" height="12.12" fill="#f2b83e"/>
<rect x="546.16" y="183.67" width="12.02" height="12.12" fill="#fcc33a"/>
<rect x="558.18" y="183.67" width="12.02" height="12.12" fill="#f2b83e"/>
<rect x="570.20" y="183.67" width="12.02" height="12.12" fill="#d4bb2e"/>
<rect x="582.22" y="183.67" width="12.02" height="12.12" fill="#6cc86a"/>
<rect x="594.24" y="183.67" width="24.04" height="12.12" fill="#32bfa2"/>
<rect x="618.28" y="183.67" width="96.16" height="12.12" fill="#10b3cc"/>
<rect x="714.44" y="183.67" width="24.04" height="12.12" fill="#32bfa2"/>
<rect x="738.48" y="183.67" width="24.04" height="12.12" fill="#6cc86a"/>
<rect x="762.52" y="183.67" width="36.06" height="12.12" fill="#acc440"/>
<rect x="798.58" y="183.67" width="12.02" height="12.12" fill="#6cc86a"/>
<rect x="810.60" y="183.67" width="24.04" height="12.12" fill="#32bfa2"/>
<rect x="834.64" y="183.67" width="12.02" height="12.12" fill="#10b3cc"/>
<rect x="846.66" y="183.67" width="12.02" height="12.12" fill="#1fa0e1"/>
<rect x="858.68" y="183.67" width="12.02" height="12.12" fill="#3378f8"/>
<rect x="870.70" y="183.67" width="12.02" height="12.12" fill="#4450ec"/>
<rect x="462.02" y="195.79" width="24.04" height="12.12" fill="#402fbc"/>
<rect x="486.06" y="195.79" width="12.02" height="12.12" fill="#1fa0e1"/>
<rect x="498.08" y="195.79" width="12.02" height="12.12" fill="#32bfa2"/>
<rect x="510.10" y="195.79" width="12.02" height="12.12" fill="#acc440"/>
<rect x="522.12" y="195.79" width="24.04" height="12.12" fill="#f2b83e"/>
<rect x="546.16" y="195.79" width="12.02" height="12.12" fill="#d4bb2e"/>
<rect x="558.18" y="195.79" width="12.02" height="12.12" fill="#acc440"/>
<rect x="570.20" y="195.79" width="12.02" height="12.12" fill="#6cc86a"/>
<rect x="582.22" y="195.79" width="24.04" height="12.12" fill="#32bfa2"/>
<rect x="606.26" y="195.79" width="60.10" height="12.12" fill="#10b3cc"/>
<rect x="666.36" y="195.79" width="48.08" height="12.12" fill="#1fa0e1"/>
<rect x="714.44" y="195.79" width="24.04" height="12.12" fill="#10b3cc"/>
<rect x="738.48" y="195.79" width="24.04" height="12.12" fill="#32bfa2"/>
<rect x="762.52" y="195.79" width="36.06" height="12.12" fill="#6cc86a"/>
<rect x="798.58" y="195.79" width="36.06" height="12.12" fill="#32bfa2"/>
<rect x="834.64" y="195.79" width="12.02" height="12.12" fill="#10b3cc"/>
<rect x="846.66" y="195.79" width="12.02" height="12.12" fill="#1fa0e1"/>
<rect x="858.68" y="195.79" width="24.04" height="12.12" fill="#3378f8"/>
<rect x="462.02" y="207.91" width="12.02" height="12.12" fill="#402fbc"/>
<rect x="474.04" y="207.91" width="12.02" height="12.12" fill="#4450ec"/>
<rect x="486.06" y="207.91" width="12.02" height="12.12" fill="#1fa0e1"/>
<rect x="498.08" y="207.91" width="12.02" height="12.12" fill="#32bfa2"/>
<rect x="510.10" y="207.91" width="12.02" height="12.12" fill="#acc440"/>
<rect x="522.12" y="207.91" width="12.02" height="12.12" fill="#f2b83e"/>
<rect x="534.14" y="207.91" width="12.02" height="12.12" fill="#d4bb2e"/>
<rect x="546.16" y="207.91" width="12.02" height="12.12" fill="#acc440"/>
<rect x="558.18" y="207.91" width="12.02" height="12.12" fill="#6cc86a"/>
<rect x="570.20" y="207.91" width="12.02" height="12.12" fill="#32bfa2"/>
<rect x="582.22" y="207.91" width="36.06" height="12.12" fill="#10b3cc"/>
<rect x="618.28" y="207.91" width="120.20" height="12.12" fill="#1fa0e1"/>
<rect x="738.48" y="207.91" width="24.04" height="12.12" fill="#10b3cc"/>
<rect x="762.52" y="207.91" width="24.04" height="12.12" fill="#32bfa2"/>
<rect x="786.56" y="207.91" width="12.02" height="12.12" fill="#6cc86a"/>
<rect x="798.58" y="207.91" width="36.06" height="12.12" fill="#32bfa2"/>
<rect x="834.64" y="207.91" width="12.02" height="12.12" fill="#10b3cc"/>
<rect x="846.66" y="207.91" width="12.02" height="12.12" fill="#1fa0e1"/>
<rect x="858.68" y="207.91" width="24.04" height="12.12" fill="#3378f8"/>
<rect x="882.72" y="207.91" width="12.02" height="12.12" fill="#402fbc"/>
<rect x="462.02" y="220.03" width="12.02" height="12.12" fill="#402fbc"/>
<rect x="474.04" y="220.03" width="12.02" height="12.12" fill="#4450ec"/>
<rect x="486.06" y="220.03" width="12.02" height="12.12" fill="#1fa0e1"/>
<rect x="498.08" y="220.03" width="12.02" height="12.12" fill="#6cc86a"/>
<rect x="510.10" y="220.03" width="12.02" height="12.12" fill="#acc440"/>
<rect x="522.12" y="220.03" width="12.02" height="12.12" fill="#f2b83e"/>
<rect x="534.14" y="220.03" width="12.02" height="12.12" fill="#d4bb2e"/>
<rect x="546.16" y="220.03" width="12.02" height="12.12" fill="#acc440"/>
<rect x="558.18" y="220.03" width="12.02" height="12.12" fill="#6cc86a"/>
<rect x="570.20" y="220.03" width="12.02" height="12.12" fill="#32bfa2"/>
<rect x="582.22" y="220.03" width="24.04" height="12.12" fill="#10b3cc"/>
<rect x="606.26" y="220.03" width="144.24" height="12.12" fill="#1fa0e1"/>
<rect x="750.50" y="220.03" width="12.02" height="12.12" fill="#10b3cc"/>
<rect x="762.52" y="220.03" width="36.06" height="12.12" fill="#32bfa2"/>
<rect x="798.58" y="220.03" width="48.08" height="12.12" fill="#10b3cc"/>
<rect x="846.66" y="220.03" width="12.02" height="12.12" fill="#1fa0e1"/>
<rect x="858.68" y="220.03" width="24.04" height="12.12" fill="#3378f8"/>
<rect x="882.72" y="220.03" width="12.02" height="12.12" fill="#402fbc"/>
<rect x="462.02" y="232.15" width="12.02" height="12.12" fill="#402fbc"/>
<rect x="474.04" y="232.15" width="12.02" height="12.12" fill="#4450ec"/>
<rect x="486.06" y="232.15" width="12.02" height="12.12" fill="#1fa0e1"/>
<rect x="498.08" y="232.15" width="12.02" height="12.12" fill="#6cc86a"/>
<rect x="510.10" y="232.15" width="12.02" height="12.12" fill="#d4bb2e"/>
<rect x="522.12" y="232.15" width="12.02" height="12.12" fill="#f2b83e"/>
<rect x="534.14" y="232.15" width="12.02" height="12.12" fill="#d4bb2e"/>
<rect x="546.16" y="232.15" width="12.02" height="12.12" fill="#acc440"/>
<rect x="558.18" y="232.15" width="12.02" height="12.12" fill="#6cc86a"/>
<rect x="570.20" y="232.15" width="12.02" height="12.12" fill="#32bfa2"/>
<rect x="582.22" y="232.15" width="24.04" height="12.12" fill="#10b3cc"/>
<rect x="606.26" y="232.15" width="144.24" height="12.12" fill="#1fa0e1"/>
<rect x="750.50" y="232.15" width="12.02" height="12.12" fill="#10b3cc"/>
<rect x="762.52" y="232.15" width="36.06" height="12.12" fill="#32bfa2"/>
<rect x="798.58" y="232.15" width="12.02" height="12.12" fill="#10b3cc"/>
<rect x="810.60" y="232.15" width="48.08" height="12.12" fill="#1fa0e1"/>
<rect x="858.68" y="232.15" width="12.02" height="12.12" fill="#3378f8"/>
<rect x="870.70" y="232.15" width="12.02" height="12.12" fill="#4450ec"/>
<rect x="882.72" y="232.15" width="12.02" height="12.12" fill="#402fbc"/>
<rect x="462.02" y="244.27" width="12.02" height="12.12" fill="#402fbc"/>
<rect x="474.04" y="244.27" width="12.02" height="12.12" fill="#4450ec"/>
<rect x="486.06" y="244.27" width="12.02" height="12.12" fill="#1fa0e1"/>
<rect x="498.08" y="244.27" width="12.02" height="12.12" fill="#acc440"/>
<rect x="510.10" y="244.27" width="12.02" height="12.12" fill="#f2b83e"/>
<rect x="522.12" y="244.27" width="12.02" height="12.12" fill="#fcc33a"/>
<rect x="534.14" y="244.27" width="12.02" height="12.12" fill="#f2b83e"/>
<rect x="546.16" y="244.27" width="12.02" height="12.12" fill="#d4bb2e"/>
<rect x="558.18" y="244.27" width="12.02" height="12.12" fill="#6cc86a"/>
<rect x="570.20" y="244.27" width="12.02" height="12.12" fill="#32bfa2"/>
<rect x="582.22" y="244.27" width="24.04" height="12.12" fill="#10b3cc"/>
<rect x="606.26" y="244.27" width="144.24" height="12.12" fill="#1fa0e1"/>
<rect x="750.50" y="244.27" width="12.02" height="12.12" fill="#10b3cc"/>
<rect x="762.52" y="244.27" width="12.02" height="12.12" fill="#32bfa2"/>
<rect x="774.54" y="244.27" width="12.02" height="12.12" fill="#6cc86a"/>
<rect x="786.56" y="244.27" width="12.02" height="12.12" fill="#32bfa2"/>
<rect x="798.58" y="244.27" width="12.02" height="12.12" fill="#10b3cc"/>
<rect x="810.60" y="244.27" width="24.04" height="12.12" fill="#1fa0e1"/>
<rect x="834.64" y="244.27" width="12.02" height="12.12" fill="#3378f8"/>
<rect x="846.66" y="244.27" width="12.02" height="12.12" fill="#4450ec"/>
<rect x="858.68" y="244.27" width="12.02" height="12.12" fill="#402fbc"/>
<rect x="462.02" y="256.39" width="12.02" height="12.12" fill="#402fbc"/>
<rect x="474.04" y="256.39" width="12.02" height="12.12" fill="#4450ec"/>
<rect x="486.06" y="256.39" width="12.02" height="12.12" fill="#10b3cc"/>
<rect x="498.08" y="256.39" width="12.02" height="12.12" fill="#acc440"/>
<rect x="510.10" y="256.39" width="12.02" height="12.12" fill="#f2b83e"/>
<rect x="522.12" y="256.39" width="24.04" height="12.12" fill="#fcc33a"/>
<rect x="546.16" y="256.39" width="12.02" height="12.12" fill="#f2b83e"/>
<rect x="558.18" y="256.39" width="12.02" height="12.12" fill="#acc440"/>
<rect x="570.20" y="256.39" width="12.02" height="12.12" fill="#6cc86a"/>
<rect x="582.22" y="256.39" width="12.02" height="12.12" fill="#32bfa2"/>
<rect x="594.24" y="256.39" width="24.04" height="12.12" fill="#10b3cc"/>
<rect x="618.28" y="256.39" width="96.16" height="12.12" fill="#1fa0e1"/>
<rect x="714.44" y="256.39" width="24.04" height="12.12" fill="#10b3cc"/>
<rect x="738.48" y="256.39" width="24.04" height="12.12" fill="#32bfa2"/>
<rect x="762.52" y="256.39" width="12.02" height="12.12" fill="#6cc86a"/>
<rect x="774.54" y="256.39" width="12.02" height="12.12" fill="#acc440"/>
<rect x="786.56" y="256.39" width="24.04" height="12.12" fill="#d4bb2e"/>
<rect x="810.60" y="256.39" width="12.02" height="12.12" fill="#6cc86a"/>
<rect x="822.62" y="256.39" width="12.02" height="12.12" fill="#10b3cc"/>
<rect x="834.64" y="256.39" width="12.02" height="12.12" fill="#3378f8"/>
<rect x="846.66" y="256.39" width="12.02" height="12.12" fill="#4450ec"/>
<rect x="858.68" y="256.39" width="12.02" height="12.12" fill="#402fbc"/>
<rect x="462.02" y="268.51" width="12.02" height="12.12" fill="#402fbc"/>
<rect x="474.04" y="268.51" width="12.02" height="12.12" fill="#4450ec"/>
<rect x="486.06" y="268.51" width="12.02" height="12.12" fill="#32bfa2"/>
<rect x="498.08" y="268.51" width="12.02" height="12.12" fill="#d4bb2e"/>
<rect x="510.10" y="268.51" width="12.02" height="12.12" fill="#f2b83e"/>
<rect x="522.12" y="268.51" width="24.04" height="12.12" fill="#f8d82e"/>
<rect x="546.16" y="268.51" width="12.02" height="12.12" fill="#f2b83e"/>
<rect x="558.18" y="268.51" width="12.02" height="12.12" fill="#d4bb2e"/>
<rect x="570.20" y="268.51" width="12.02" height="12.12" fill="#6cc86a"/>
<rect x="582.22" y="268.51" width="12.02" height="12.12" fill="#32bfa2"/>
<rect x="594.24" y="268.51" width="12.02" height="12.12" fill="#10b3cc"/>
<rect x="606.26" y="268.51" width="96.16" height="12.12" fill="#1fa0e1"/>
<rect x="702.42" y="268.51" width="24.04" height="12.12" fill="#10b3cc"/>
<rect x="726.46" y="268.51" width="24.04" height="12.12" fill="#32bfa2"/>
<rect x="750.50" y="268.51" width="12.02" height="12.12" fill="#6cc86a"/>
<rect x="762.52" y="268.51" width="12.02" height="12.12" fill="#acc440"/>
<rect x="774.54" y="268.51" width="12.02" height="12.12" fill="#d4bb2e"/>
<rect x="786.56" y="268.51" width="24.04" height="12.12" fill="#f2b83e"/>
<rect x="810.60" y="268.51" width="12.02" height="12.12" fill="#acc440"/>
<rect x="822.62" y="268.51" width="12.02" height="12.12" fill="#32bfa2"/>
<rect x="834.64" y="268.51" width="12.02" height="12.12" fill="#1fa0e1"/>
<rect x="846.66" y="268.51" width="12.02" height="12.12" fill="#402fbc"/>
<rect x="462.02" y="280.63" width="12.02" height="12.12" fill="#402fbc"/>
<rect x="474.04" y="280.63" width="12.02" height="12.12" fill="#4450ec"/>
<rect x="486.06" y="280.63" width="12.02" height="12.12" fill="#10b3cc"/>
<rect x="498.08" y="280.63" width="12.02" height="12.12" fill="#d4bb2e"/>
<rect x="510.10" y="280.63" width="12.02" height="12.12" fill="#fcc33a"/>
<rect x="522.12" y="280.63" width="12.02" height="12.12" fill="#f5eb22"/>
<rect x="534.14" y="280.63" width="12.02" height="12.12" fill="#f8d82e"/>
<rect x="546.16" y="280.63" width="12.02" height="12.12" fill="#fcc33a"/>
<rect x="558.18" y="280.63" width="12.02" height="12.12" fill="#d4bb2e"/>
<rect x="570.20" y="280.63" width="12.02" height="12.12" fill="#acc440"/>
<rect x="582.22" y="280.63" width="24.04" height="12.12" fill="#32bfa2"/>
<rect x="606.26" y="280.63" width="24.04" height="12.12" fill="#10b3cc"/>
<rect x="630.30" y="280.63" width="48.08" height="12.12" fill="#1fa0e1"/>
<rect x="678.38" y="280.63" width="36.06" height="12.12" fill="#10b3cc"/>
<rect x="714.44" y="280.63" width="24.04" height="12.12" fill="#32bfa2"/>
<rect x="738.48" y="280.63" width="12.02" height="12.12" fill="#6cc86a"/>
<rect x="750.50" y="280.63" width="12.02" height="12.12" fill="#acc440"/>
<rect x="762.52" y="280.63" width="12.02" height="12.12" fill="#d4bb2e"/>
<rect x="774.54" y="280.63" width="12.02" height="12.12" fill="#f2b83e"/>
<rect x="786.56" y="280.63" width="12.02" height="12.12" fill="#fcc33a"/>
<rect x="798.58" y="280.63" width="12.02" height="12.12" fill="#f2b83e"/>
<rect x="810.60" y="280.63" width="12.02" height="12.12" fill="#acc440"/>
<rect x="822.62" y="280.63" width="12.02" height="12.12" fill="#10b3cc"/>
<rect x="834.64" y="280.63" width="12.02" height="12.12" fill="#3378f8"/>
<rect x="462.02" y="292.75" width="12.02" height="12.12" fill="#402fbc"/>
<rect x="474.04" y="292.75" width="12.02" height="12.12" fill="#4450ec"/>
<rect x="486.06" y="292.75" width="12.02" height="12.12" fill="#1fa0e1"/>
<rect x="498.08" y="292.75" width="12.02" height="12.12" fill="#acc440"/>
<rect x="510.10" y="292.75" width="12.02" height="12.12" fill="#fcc33a"/>
<rect x="522.12" y="292.75" width="24.04" height="12.12" fill="#f8d82e"/>
<rect x="546.16" y="292.75" width="12.02" height="12.12" fill="#fcc33a"/>
<rect x="558.18" y="292.75" width="24.04" height="12.12" fill="#d4bb2e"/>
<rect x="582.22" y="292.75" width="12.02" height="12.12" fill="#6cc86a"/>
<rect x="594.24" y="292.75" width="24.04" height="12.12" fill="#32bfa2"/>
<rect x="618.28" y="292.75" width="72.12" height="12.12" fill="#10b3cc"/>
<rect x="690.40" y="292.75" width="36.06" height="12.12" fill="#32bfa2"/>
<rect x="726.46" y="292.75" width="12.02" height="12.12" fill="#6cc86a"/>
<rect x="738.48" y="292.75" width="12.02" height="12.12" fill="#acc440"/>
<rect x="750.50" y="292.75" width="12.02" height="12.12" fill="#d4bb2e"/>
<rect x="762.52" y="292.75" width="12.02" height="12.12" fill="#f2b83e"/>
<rect x="774.54" y="292.75" width="12.02" height="12.12" fill="#fcc33a"/>
<rect x="786.56" y="292.75" width="12.02" height="12.12" fill="#f2b83e"/>
<rect x="798.58" y="292.75" width="12.02" height="12.12" fill="#d4bb2e"/>
<rect x="810.60" y="292.75" width="12.02" height="12.12" fill="#32bfa2"/>
<rect x="822.62" y="292.75" width="12.02" height="12.12" fill="#1fa0e1"/>
<rect x="834.64" y="292.75" width="12.02" height="12.12" fill="#402fbc"/>
<rect x="462.02" y="304.87" width="24.04" height="12.12" fill="#402fbc"/>
<rect x="486.06" y="304.87" width="12.02" height="12.12" fill="#3378f8"/>
<rect x="498.08" y="304.87" width="12.02" height="12.12" fill="#32bfa2"/>
<rect x="510.10" y="304.87" width="12.02" height="12.12" fill="#f2b83e"/>
<rect x="522.12" y="304.87" width="12.02" height="12.12" fill="#fcc33a"/>
<rect x="534.14" y="304.87" width="12.02" height="12.12" fill="#f8d82e"/>
<rect x="546.16" y="304.87" width="12.02" height="12.12" fill="#fcc33a"/>
<rect x="558.18" y="304.87" width="12.02" height="12.12" fill="#f2b83e"/>
<rect x="570.20" y="304.87" width="12.02" height="12.12" fill="#d4bb2e"/>
<rect x="582.22" y="304.87" width="12.02" height="12.12" fill="#acc440"/>
<rect x="594.24" y="304.87" width="24.04" height="12.12" fill="#6cc86a"/>
<rect x="618.28" y="304.87" width="84.14" height="12.12" fill="#32bfa2"/>
<rect x="702.42" y="304.87" width="24.04" height="12.12" fill="#6cc86a"/>
<rect x="726.46" y="304.87" width="12.02" height="12.12" fill="#d4bb2e"/>
<rect x="738.48" y="304.87" width="12.02" height="12.12" fill="#f2b83e"/>
<rect x="750.50" y="304.87" width="36.06" height="12.12" fill="#fcc33a"/>
<rect x="786.56" y="304.87" width="12.02" height="12.12" fill="#d4bb2e"/>
<rect x="798.58" y="304.87" width="12.02" height="12.12" fill="#6cc86a"/>
<rect x="810.60" y="304.87" width="12.02" height="12.12" fill="#1fa0e1"/>
<rect x="822.62" y="304.87" width="12.02" height="12.12" fill="#4450ec"/>
<rect x="834.64" y="304.87" width="12.02" height="12.12" fill="#402fbc"/>
<rect x="474.04" y="316.99" width="12.02" height="12.12" fill="#402fbc"/>
<rect x="486.06" y="316.99" width="12.02" height="12.12" fill="#4450ec"/>
<rect x="498.08" y="316.99" width="12.02" height="12.12" fill="#10b3cc"/>
<rect x="510.10" y="316.99" width="12.02" height="12.12" fill="#d4bb2e"/>
<rect x="522.12" y="316.99" width="12.02" height="12.12" fill="#f2b83e"/>
<rect x="534.14" y="316.99" width="24.04" height="12.12" fill="#f8d82e"/>
<rect x="558.18" y="316.99" width="12.02" height="12.12" fill="#fcc33a"/>
<rect x="570.20" y="316.99" width="12.02" height="12.12" fill="#f2b83e"/>
<rect x="582.22" y="316.99" width="12.02" height="12.12" fill="#d4bb2e"/>
<rect x="594.24" y="316.99" width="24.04" height="12.12" fill="#acc440"/>
<rect x="618.28" y="316.99" width="24.04" height="12.12" fill="#6cc86a"/>
<rect x="642.32" y="316.99" width="12.02" height="12.12" fill="#32bfa2"/>
<rect x="654.34" y="316.99" width="48.08" height="12.12" fill="#6cc86a"/>
<rect x="702.42" y="316.99" width="24.04" height="12.12" fill="#d4bb2e"/>
<rect x="726.46" y="316.99" width="12.02" height="12.12" fill="#f2b83e"/>
<rect x="738.48" y="316.99" width="12.02" height="12.12" fill="#fcc33a"/>
<rect x="750.50" y="316.99" width="12.02" height="12.12" fill="#f8d82e"/>
<rect x="762.52" y="316.99" width="12.02" height="12.12" fill="#fcc33a"/>
<rect x="774.54" y="316.99" width="12.02" height="12.12" fill="#f2b83e"/>
<rect x="786.56" y="316.99" width="12.02" height="12.12" fill="#acc440"/>
<rect x="798.58" y="316.99" width="12.02" height="12.12" fill="#10b3cc"/>
<rect x="810.60" y="316.99" width="12.02" height="12.12" fill="#3378f8"/>
<rect x="822.62" y="316.99" width="12.02" height="12.12" fill="#402fbc"/>
<rect x="474.04" y="329.11" width="12.02" height="12.12" fill="#402fbc"/>
<rect x="486.06" y="329.11" width="12.02" height="12.12" fill="#4450ec"/>
<rect x="498.08" y="329.11" width="12.02" height="12.12" fill="#3378f8"/>
<rect x="510.10" y="329.11" width="12.02" height="12.12" fill="#32bfa2"/>
<rect x="522.12" y="329.11" width="12.02" height="12.12" fill="#d4bb2e"/>
<rect x="534.14" y="329.11" width="12.02" height="12.12" fill="#fcc33a"/>
<rect x="546.16" y="329.11" width="24.04" height="12.12" fill="#f8d82e"/>
<rect x="570.20" y="329.11" width="24.04" height="12.12" fill="#fcc33a"/>
<rect x="594.24" y="329.11" width="12.02" height="12.12" fill="#f2b83e"/>
<rect x="606.26" y="329.11" width="24.04" height="12.12" fill="#d4bb2e"/>
<rect x="630.30" y="329.11" width="24.04" height="12.12" fill="#acc440"/>
<rect x="654.34" y="329.11" width="24.04" height="12.12" fill="#d4bb2e"/>
<rect x="678.38" y="329.11" width="36.06" height="12.12" fill="#f2b83e"/>
<rect x="714.44" y="329.11" width="12.02" height="12.12" fill="#fcc33a"/>
<rect x="726.46" y="329.11" width="24.04" height="12.12" fill="#f8d82e"/>
<rect x="750.50" y="329.11" width="12.02" height="12.12" fill="#fcc33a"/>
<rect x="762.52" y="329.11" width="12.02" height="12.12" fill="#d4bb2e"/>
<rect x="774.54" y="329.11" width="12.02" height="12.12" fill="#acc440"/>
<rect x="786.56" y="329.11" width="12.02" height="12.12" fill="#32bfa2"/>
<rect x="798.58" y="329.11" width="12.02" height="12.12" fill="#3378f8"/>
<rect x="810.60" y="329.11" width="12.02" height="12.12" fill="#402fbc"/>
<rect x="486.06" y="341.23" width="12.02" height="12.12" fill="#402fbc"/>
<rect x="498.08" y="341.23" width="12.02" height="12.12" fill="#4450ec"/>
<rect x="510.10" y="341.23" width="12.02" height="12.12" fill="#1fa0e1"/>
<rect x="522.12" y="341.23" width="12.02" height="12.12" fill="#6cc86a"/>
<rect x="534.14" y="341.23" width="12.02" height="12.12" fill="#d4bb2e"/>
<rect x="546.16" y="341.23" width="12.02" height="12.12" fill="#fcc33a"/>
<rect x="558.18" y="341.23" width="36.06" height="12.12" fill="#f8d82e"/>
<rect x="594.24" y="341.23" width="24.04" height="12.12" fill="#fcc33a"/>
<rect x="618.28" y="341.23" width="48.08" height="12.12" fill="#f2b83e"/>
<rect x="666.36" y="341.23" width="24.04" height="12.12" fill="#fcc33a"/>
<rect x="690.40" y="341.23" width="12.02" height="12.12" fill="#f8d82e"/>
<rect x="702.42" y="341.23" width="24.04" height="12.12" fill="#f5eb22"/>
<rect x="726.46" y="341.23" width="12.02" height="12.12" fill="#f8d82e"/>
<rect x="738.48" y="341.23" width="12.02" height="12.12" fill="#fcc33a"/>
<rect x="750.50" y="341.23" width="12.02" height="12.12" fill="#f2b83e"/>
<rect x="762.52" y="341.23" width="12.02" height="12.12" fill="#acc440"/>
<rect x="774.54" y="341.23" width="12.02" height="12.12" fill="#32bfa2"/>
<rect x="786.56" y="341.23" width="12.02" height="12.12" fill="#1fa0e1"/>
<rect x="798.58" y="341.23" width="12.02" height="12.12" fill="#402fbc"/>
<rect x="486.06" y="353.35" width="24.04" height="12.12" fill="#402fbc"/>
<rect x="510.10" y="353.35" width="12.02" height="12.12" fill="#4450ec"/>
<rect x="522.12" y="353.35" width="12.02" height="12.12" fill="#1fa0e1"/>
<rect x="534.14" y="353.35" width="12.02" height="12.12" fill="#6cc86a"/>
<rect x="546.16" y="353.35" width="12.02" height="12.12" fill="#d4bb2e"/>
<rect x="558.18" y="353.35" width="12.02" height="12.12" fill="#f2b83e"/>
<rect x="570.20" y="353.35" width="12.02" height="12.12" fill="#f8d82e"/>
<rect x="582.22" y="353.35" width="12.02" height="12.12" fill="#f5eb22"/>
<rect x="594.24" y="353.35" width="108.18" height="12.12" fill="#f8d82e"/>
<rect x="702.42" y="353.35" width="12.02" height="12.12" fill="#f5eb22"/>
<rect x="714.44" y="353.35" width="12.02" height="12.12" fill="#f8d82e"/>
<rect x="726.46" y="353.35" width="12.02" height="12.12" fill="#fcc33a"/>
<rect x="738.48" y="353.35" width="12.02" height="12.12" fill="#f2b83e"/>
<rect x="750.50" y="353.35" width="12.02" height="12.12" fill="#acc440"/>
<rect x="762.52" y="353.35" width="12.02" height="12.12" fill="#32bfa2"/>
<rect x="774.54" y="353.35" width="12.02" height="12.12" fill="#1fa0e1"/>
<rect x="786.56" y="353.35" width="12.02" height="12.12" fill="#4450ec"/>
<rect x="798.58" y="353.35" width="12.02" height="12.12" fill="#402fbc"/>
<rect x="498.08" y="365.47" width="24.04" height="12.12" fill="#402fbc"/>
<rect x="522.12" y="365.47" width="12.02" height="12.12" fill="#4450ec"/>
<rect x="534.14" y="365.47" width="12.02" height="12.12" fill="#10b3cc"/>
<rect x="546.16" y="365.47" width="12.02" height="12.12" fill="#32bfa2"/>
<rect x="558.18" y="365.47" width="12.02" height="12.12" fill="#acc440"/>
<rect x="570.20" y="365.47" width="12.02" height="12.12" fill="#f2b83e"/>
<rect x="582.22" y="365.47" width="12.02" height="12.12" fill="#fcc33a"/>
<rect x="594.24" y="365.47" width="48.08" height="12.12" fill="#f8d82e"/>
<rect x="642.32" y="365.47" width="12.02" height="12.12" fill="#f5eb22"/>
<rect x="654.34" y="365.47" width="24.04" height="12.12" fill="#f8d82e"/>
<rect x="678.38" y="365.47" width="12.02" height="12.12" fill="#f5eb22"/>
<rect x="690.40" y="365.47" width="24.04" height="12.12" fill="#f8d82e"/>
<rect x="714.44" y="365.47" width="12.02" height="12.12" fill="#f2b83e"/>
<rect x="726.46" y="365.47" width="12.02" height="12.12" fill="#d4bb2e"/>
<rect x="738.48" y="365.47" width="12.02" height="12.12" fill="#acc440"/>
<rect x="750.50" y="365.47" width="12.02" height="12.12" fill="#32bfa2"/>
<rect x="762.52" y="365.47" width="12.02" height="12.12" fill="#3378f8"/>
<rect x="774.54" y="365.47" width="24.04" height="12.12" fill="#402fbc"/>
<rect x="510.10" y="377.59" width="24.04" height="12.12" fill="#402fbc"/>
<rect x="534.14" y="377.59" width="12.02" height="12.12" fill="#4450ec"/>
<rect x="546.16" y="377.59" width="12.02" height="12.12" fill="#3378f8"/>
<rect x="558.18" y="377.59" width="12.02" height="12.12" fill="#32bfa2"/>
<rect x="570.20" y="377.59" width="12.02" height="12.12" fill="#6cc86a"/>
<rect x="582.22" y="377.59" width="12.02" height="12.12" fill="#d4bb2e"/>
<rect x="594.24" y="377.59" width="12.02" height="12.12" fill="#f2b83e"/>
<rect x="606.26" y="377.59" width="12.02" height="12.12" fill="#fcc33a"/>
<rect x="618.28" y="377.59" width="72.12" height="12.12" fill="#f8d82e"/>
<rect x="690.40" y="377.59" width="12.02" height="12.12" fill="#f2b83e"/>
<rect x="702.42" y="377.59" width="12.02" height="12.12" fill="#d4bb2e"/>
<rect x="714.44" y="377.59" width="12.02" height="12.12" fill="#acc440"/>
<rect x="726.46" y="377.59" width="12.02" height="12.12" fill="#6cc86a"/>
<rect x="738.48" y="377.59" width="12.02" height="12.12" fill="#10b3cc"/>
<rect x="750.50" y="377.59" width="12.02" height="12.12" fill="#3378f8"/>
<rect x="762.52" y="377.59" width="12.02" height="12.12" fill="#402fbc"/>
<rect x="522.12" y="389.71" width="24.04" height="12.12" fill="#402fbc"/>
<rect x="546.16" y="389.71" width="24.04" height="12.12" fill="#4450ec"/>
<rect x="570.20" y="389.71" width="12.02" height="12.12" fill="#1fa0e1"/>
<rect x="582.22" y="389.71" width="12.02" height="12.12" fill="#32bfa2"/>
<rect x="594.24" y="389.71" width="12.02" height="12.12" fill="#6cc86a"/>
<rect x="606.26" y="389.71" width="12.02" height="12.12" fill="#acc440"/>
<rect x="618.28" y="389.71" width="24.04" height="12.12" fill="#d4bb2e"/>
<rect x="642.32" y="389.71" width="24.04" height="12.12" fill="#f2b83e"/>
<rect x="666.36" y="389.71" width="24.04" height="12.12" fill="#d4bb2e"/>
<rect x="690.40" y="389.71" width="24.04" height="12.12" fill="#6cc86a"/>
<rect x="714.44" y="389.71" width="12.02" height="12.12" fill="#32bfa2"/>
<rect x="726.46" y="389.71" width="12.02" height="12.12" fill="#1fa0e1"/>
<rect x="738.48" y="389.71" width="12.02" height="12.12" fill="#3378f8"/>
<rect x="750.50" y="389.71" width="12.02" height="12.12" fill="#402fbc"/>
<rect x="546.16" y="401.83" width="24.04" height="12.12" fill="#402fbc"/>
<rect x="570.20" y="401.83" width="12.02" height="12.12" fill="#4450ec"/>
<rect x="582.22" y="401.83" width="12.02" height="12.12" fill="#3378f8"/>
<rect x="594.24" y="401.83" width="12.02" height="12.12" fill="#1fa0e1"/>
<rect x="606.26" y="401.83" width="12.02" height="12.12" fill="#10b3cc"/>
<rect x="618.28" y="401.83" width="72.12" height="12.12" fill="#32bfa2"/>
<rect x="690.40" y="401.83" width="12.02" height="12.12" fill="#10b3cc"/>
<rect x="702.42" y="401.83" width="12.02" height="12.12" fill="#1fa0e1"/>
<rect x="714.44" y="401.83" width="12.02" height="12.12" fill="#3378f8"/>
<rect x="726.46" y="401.83" width="12.02" height="12.12" fill="#4450ec"/>
<rect x="738.48" y="401.83" width="24.04" height="12.12" fill="#402fbc"/>
<rect x="570.20" y="413.95" width="36.06" height="12.12" fill="#402fbc"/>
<rect x="606.26" y="413.95" width="24.04" height="12.12" fill="#4450ec"/>
<rect x="630.30" y="413.95" width="36.06" height="12.12" fill="#3378f8"/>
<rect x="666.36" y="413.95" width="36.06" height="12.12" fill="#4450ec"/>
<rect x="702.42" y="413.95" width="24.04" height="12.12" fill="#402fbc"/>
<rect x="606.26" y="426.07" width="96.16" height="12.12" fill="#402fbc"/>
<rect x="618.28" y="438.19" width="60.10" height="12.12" fill="#402fbc"/>
</g>
<linearGradient id="argr" x1="0" y1="40" x2="0" y2="455" gradientUnits="userSpaceOnUse"><stop offset="0" stop-color="#f80008"/><stop offset="0.3" stop-color="#c80a14"/><stop offset="0.6" stop-color="#601818"/><stop offset="1" stop-color="#241a1a"/></linearGradient>
<rect x="657.3" y="42.8" width="3.2" height="412" fill="url(#argr)"/>
<path d="M647.5,446.5 L658.9,453.5 L670.2,446.2 L658.9,466.5 Z" fill="#2a1a1a"/>
<rect x="813.5" y="443.8" width="78.3" height="8.8" fill="#fff"/>
<text x="679.20" y="254.50" font-size="27.49" fill="#fff" textLength="96.80" lengthAdjust="spacingAndGlyphs" stroke="#fff" stroke-width="0.4">bubble</text>
<text x="681.00" y="457.00" font-size="26.70" fill="#fff" textLength="41.00" lengthAdjust="spacingAndGlyphs" stroke="#fff" stroke-width="0.4">flat</text>
<text x="819.60" y="434.10" font-size="28.30" fill="#fff" textLength="68.40" lengthAdjust="spacingAndGlyphs" stroke="#fff" stroke-width="0.4">2 <tspan font-family="'Liberation Serif', serif">&#956;</tspan>m</text>
<linearGradient id="cbgr" x1="0" y1="470.8" x2="0" y2="40.0" gradientUnits="userSpaceOnUse">
<stop offset="0" stop-color="#3c2aab"/>
<stop offset="0.0123" stop-color="#3c2aab"/>
<stop offset="0.0920" stop-color="#402fbc"/>
<stop offset="0.1933" stop-color="#4450ec"/>
<stop offset="0.3037" stop-color="#3378f8"/>
<stop offset="0.3988" stop-color="#1fa0e1"/>
<stop offset="0.4847" stop-color="#10b3cc"/>
<stop offset="0.5859" stop-color="#32bfa2"/>
<stop offset="0.6810" stop-color="#6cc86a"/>
<stop offset="0.7239" stop-color="#acc440"/>
<stop offset="0.7638" stop-color="#d4bb2e"/>
<stop offset="0.8313" stop-color="#f2b83e"/>
<stop offset="0.8834" stop-color="#fcc33a"/>
<stop offset="0.9540" stop-color="#f8d82e"/>
<stop offset="1" stop-color="#f7f616"/>
</linearGradient>
<rect x="920.4" y="40.0" width="25.0" height="430.8" fill="url(#cbgr)" stroke="#231f20" stroke-width="1"/>
<line x1="941.4" y1="436.4" x2="945.4" y2="436.4" stroke="#231f20" stroke-width="1"/>
<line x1="941.4" y1="370.4" x2="945.4" y2="370.4" stroke="#231f20" stroke-width="1"/>
<line x1="941.4" y1="304.3" x2="945.4" y2="304.3" stroke="#231f20" stroke-width="1"/>
<line x1="941.4" y1="238.2" x2="945.4" y2="238.2" stroke="#231f20" stroke-width="1"/>
<line x1="941.4" y1="172.1" x2="945.4" y2="172.1" stroke="#231f20" stroke-width="1"/>
<line x1="941.4" y1="106.1" x2="945.4" y2="106.1" stroke="#231f20" stroke-width="1"/>
<line x1="941.4" y1="40.0" x2="945.4" y2="40.0" stroke="#231f20" stroke-width="1"/>
<text x="950.60" y="57.00" font-size="21.18" fill="#231f20" textLength="12.20" lengthAdjust="spacingAndGlyphs" stroke="#231f20" stroke-width="0.4">7</text>
<text x="950.60" y="181.50" font-size="21.18" fill="#231f20" textLength="12.00" lengthAdjust="spacingAndGlyphs" stroke="#231f20" stroke-width="0.4">6</text>
<text x="949.70" y="312.00" font-size="21.18" fill="#231f20" textLength="14.00" lengthAdjust="spacingAndGlyphs" stroke="#231f20" stroke-width="0.4">5</text>
<text x="950.00" y="442.00" font-size="22.50" fill="#231f20" textLength="12.20" lengthAdjust="spacingAndGlyphs" stroke="#231f20" stroke-width="0.4">4</text>
<text transform="translate(989.60,407.00) rotate(-90)" font-size="22.12" fill="#231f20" textLength="287.40" lengthAdjust="spacingAndGlyphs" stroke="#231f20" stroke-width="0.4">CL intensity (arb. units)</text>
<g stroke="#9c9c9c" stroke-width="1.15" fill="none"><line x1="360.6" y1="579.7" x2="360.6" y2="924.1"/><line x1="469.4" y1="579.7" x2="469.4" y2="924.1"/><line x1="578.2" y1="579.7" x2="578.2" y2="924.1"/><line x1="687.0" y1="579.7" x2="687.0" y2="924.1"/><line x1="795.8" y1="579.7" x2="795.8" y2="924.1"/><line x1="306.2" y1="866.7" x2="851.7" y2="866.7"/><line x1="306.2" y1="784.7" x2="851.7" y2="784.7"/><line x1="306.2" y1="702.7" x2="851.7" y2="702.7"/><line x1="306.2" y1="620.7" x2="851.7" y2="620.7"/><line x1="100.2" y1="770.8" x2="100.2" y2="1115.2"/><line x1="126.4" y1="746.5" x2="126.4" y2="1090.9"/><line x1="152.6" y1="722.2" x2="152.6" y2="1066.6"/><line x1="178.8" y1="697.9" x2="178.8" y2="1042.3"/><line x1="205.0" y1="673.6" x2="205.0" y2="1018.0"/><line x1="231.2" y1="649.3" x2="231.2" y2="993.7"/><line x1="257.4" y1="625.0" x2="257.4" y2="969.4"/><line x1="283.6" y1="600.6" x2="283.6" y2="945.0"/><line x1="81.6" y1="1075.1" x2="306.2" y2="866.7"/><line x1="81.6" y1="993.1" x2="306.2" y2="784.7"/><line x1="81.6" y1="911.1" x2="306.2" y2="702.7"/><line x1="81.6" y1="829.1" x2="306.2" y2="620.7"/><line x1="136.0" y1="1132.5" x2="360.6" y2="924.1"/><line x1="244.8" y1="1132.5" x2="469.4" y2="924.1"/><line x1="353.6" y1="1132.5" x2="578.2" y2="924.1"/><line x1="462.4" y1="1132.5" x2="687.0" y2="924.1"/><line x1="571.2" y1="1132.5" x2="795.8" y2="924.1"/><line x1="100.2" y1="1115.2" x2="645.7" y2="1115.2"/><line x1="126.4" y1="1090.9" x2="671.9" y2="1090.9"/><line x1="152.6" y1="1066.6" x2="698.1" y2="1066.6"/><line x1="178.8" y1="1042.3" x2="724.3" y2="1042.3"/><line x1="205.0" y1="1018.0" x2="750.5" y2="1018.0"/><line x1="231.2" y1="993.7" x2="776.7" y2="993.7"/><line x1="257.4" y1="969.4" x2="802.9" y2="969.4"/><line x1="283.6" y1="945.0" x2="829.1" y2="945.0"/><line x1="136.0" y1="1132.5" x2="129.8" y2="1138.3"/><line x1="244.8" y1="1132.5" x2="238.6" y2="1138.3"/><line x1="353.6" y1="1132.5" x2="347.4" y2="1138.3"/><line x1="462.4" y1="1132.5" x2="456.2" y2="1138.3"/><line x1="571.2" y1="1132.5" x2="565.0" y2="1138.3"/></g>
<g stroke="#231f20" stroke-width="2" stroke-linecap="square" fill="none"><line x1="81.6" y1="788.1" x2="81.6" y2="1132.5"/><line x1="81.6" y1="788.1" x2="306.2" y2="579.7"/><line x1="81.6" y1="1132.5" x2="306.2" y2="924.1"/><line x1="306.2" y1="579.7" x2="306.2" y2="924.1"/><line x1="306.2" y1="579.7" x2="851.7" y2="579.7"/><line x1="851.7" y1="579.7" x2="851.7" y2="924.1"/><line x1="306.2" y1="924.1" x2="851.7" y2="924.1"/><line x1="81.6" y1="1132.5" x2="627.1" y2="1132.5"/><line x1="627.1" y1="1132.5" x2="851.7" y2="924.1"/></g>
<g fill="#fff" stroke-width="2.4" stroke-linejoin="round"><path d="M328.2,926.9 L328.2,926.3 329.9,926.6 331.5,925.8 333.1,925.3 334.8,924.8 336.4,925.4 338.0,925.7 339.6,925.8 341.3,924.7 342.9,924.0 344.5,924.8 346.2,925.7 347.8,925.4 349.4,923.6 351.1,924.4 352.7,925.5 354.3,924.3 356.0,924.9 357.6,924.4 359.2,924.1 360.9,924.1 362.5,923.0 364.1,923.2 365.8,923.3 367.4,922.4 369.0,921.9 370.7,923.2 372.3,922.0 373.9,922.1 375.6,921.2 377.2,921.5 378.8,920.1 380.4,919.5 382.1,918.8 383.7,918.1 385.3,916.0 387.0,914.0 388.6,910.4 390.2,903.9 391.9,897.9 393.5,890.6 395.1,891.4 396.8,896.6 398.4,899.3 400.0,903.5 401.7,905.1 403.3,906.9 404.9,909.6 406.6,909.5 408.2,910.4 409.8,910.4 411.5,912.5 413.1,911.9 414.7,913.6 416.4,913.7 418.0,914.5 419.6,913.5 421.2,914.5 422.9,913.7 424.5,915.2 426.1,915.5 427.8,915.8 429.4,917.1 431.0,917.1 432.7,916.5 434.3,917.9 435.9,917.8 437.6,918.2 439.2,918.1 440.8,918.9 442.5,919.0 444.1,919.0 445.7,919.3 447.4,920.2 449.0,919.2 450.6,920.8 452.3,921.0 453.9,921.2 455.5,919.9 457.2,920.9 458.8,921.5 460.4,921.7 462.0,920.8 463.7,921.9 465.3,922.2 466.9,921.1 468.6,922.4 470.2,921.9 471.8,921.8 473.5,922.2 475.1,922.0 476.7,921.2 478.4,922.5 480.0,923.0 481.6,923.5 483.3,922.5 484.9,922.6 486.5,922.3 488.2,922.8 489.8,922.9 491.4,923.0 493.1,922.9 494.7,922.5 496.3,922.9 498.0,922.6 499.6,921.4 501.2,922.4 502.8,923.7 504.5,921.6 506.1,922.5 507.7,923.3 509.4,922.1 511.0,922.6 512.6,923.0 514.3,923.0 515.9,923.2 517.5,922.5 519.2,921.8 520.8,922.7 522.4,922.2 524.1,921.2 525.7,923.2 527.3,922.1 529.0,922.5 530.6,922.9 532.2,922.8 533.9,922.1 535.5,921.8 537.1,922.3 538.8,921.9 540.4,921.4 542.0,921.6 543.6,921.1 545.3,921.3 546.9,921.3 548.5,920.3 550.2,921.0 551.8,921.3 553.4,920.8 555.1,921.8 556.7,921.3 558.3,920.5 560.0,920.6 561.6,919.9 563.2,920.8 564.9,921.7 566.5,919.4 568.1,919.9 569.8,921.2 571.4,919.6 573.0,920.4 574.7,921.5 576.3,920.5 577.9,920.5 579.6,919.1 581.2,920.6 582.8,920.2 584.4,920.1 586.1,920.1 587.7,920.4 589.3,919.6 591.0,919.0 592.6,919.3 594.2,920.2 595.9,920.4 597.5,919.5 599.1,920.0 600.8,919.9 602.4,920.6 604.0,918.2 605.7,918.8 607.3,920.0 608.9,918.8 610.6,918.5 612.2,920.9 613.8,919.7 615.5,919.6 617.1,919.0 618.7,919.5 620.4,919.5 622.0,919.4 623.6,918.2 625.2,918.0 626.9,919.8 628.5,920.0 630.1,917.7 631.8,920.1 633.4,919.9 635.0,919.5 636.7,919.2 638.3,918.9 639.9,919.3 641.6,920.2 643.2,919.3 644.8,919.5 646.5,918.4 648.1,919.7 649.7,920.6 651.4,920.4 653.0,918.8 654.6,920.2 656.3,921.2 657.9,920.3 659.5,919.9 661.2,919.2 662.8,920.7 664.4,919.6 666.0,919.6 667.7,920.6 669.3,920.3 670.9,919.1 672.6,919.2 674.2,919.8 675.8,920.2 677.5,919.7 679.1,920.6 680.7,920.6 682.4,921.1 684.0,920.6 685.6,920.7 687.3,918.9 688.9,920.9 690.5,920.0 692.2,920.0 693.8,921.1 695.4,920.2 697.1,922.5 698.7,921.1 700.3,920.6 702.0,922.8 703.6,922.0 705.2,920.7 706.8,921.6 708.5,922.2 710.1,921.8 711.7,921.9 713.4,921.2 715.0,921.4 716.6,921.9 718.3,922.2 719.9,921.9 721.5,921.0 723.2,921.7 724.8,921.6 726.4,922.2 728.1,923.0 729.7,922.7 731.3,921.8 733.0,922.2 734.6,922.9 736.2,923.5 737.9,922.4 739.5,922.7 741.1,922.8 742.8,922.8 744.4,922.5 746.0,922.5 747.6,922.1 749.3,922.2 750.9,922.0 752.5,922.4 754.2,923.2 755.8,923.0 757.4,922.7 759.1,923.3 760.7,922.8 762.3,922.4 764.0,923.7 765.6,924.4 767.2,922.5 768.9,923.3 770.5,922.9 772.1,924.3 773.8,922.3 775.4,923.0 777.0,923.6 778.7,923.8 780.3,923.5 781.9,923.8 783.6,923.9 785.2,924.4 786.8,922.9 788.4,923.8 790.1,923.8 791.7,923.8 793.3,925.4 795.0,923.5 796.6,924.1 798.2,924.1 799.9,923.9 801.5,924.6 803.1,923.5 804.8,924.5 806.4,924.7 808.0,924.7 809.7,924.0 811.3,923.7 812.9,924.6 814.6,925.2 816.2,923.5 817.8,924.9 819.5,923.5 821.1,924.3 822.7,924.7 824.4,924.7 826.0,924.0 827.6,923.7 829.2,924.5 830.9,923.7 832.5,923.0 834.1,924.5 835.8,925.1 837.4,925.1 839.0,925.3 840.7,924.8 842.3,924.9 843.9,925.3 845.6,924.1 847.2,926.2 L847.2,926.9 Z" stroke="#e62228" stroke-dasharray="0 0.52 614.31 99999"/><path d="M323.0,931.7 L323.0,931.4 324.7,929.1 326.3,929.7 327.9,929.9 329.6,929.9 331.2,928.9 332.8,929.7 334.4,929.9 336.1,930.6 337.7,929.8 339.3,930.1 341.0,929.9 342.6,929.8 344.2,929.2 345.9,929.3 347.5,928.3 349.1,929.6 350.8,928.7 352.4,927.2 354.0,928.2 355.7,927.2 357.3,927.0 358.9,926.7 360.6,926.8 362.2,927.9 363.8,926.9 365.5,926.7 367.1,927.1 368.7,926.0 370.4,926.0 372.0,925.8 373.6,923.9 375.2,923.4 376.9,922.8 378.5,921.7 380.1,919.5 381.8,916.6 383.4,912.4 385.0,906.0 386.7,898.5 388.3,891.4 389.9,891.9 391.6,895.8 393.2,901.2 394.8,904.9 396.5,906.9 398.1,909.3 399.7,910.8 401.4,913.6 403.0,914.8 404.6,913.7 406.3,914.4 407.9,914.4 409.5,915.5 411.2,916.5 412.8,917.1 414.4,918.6 416.0,917.6 417.7,919.0 419.3,918.7 420.9,919.4 422.6,919.7 424.2,919.7 425.8,921.0 427.5,921.2 429.1,921.9 430.7,921.9 432.4,920.8 434.0,922.5 435.6,921.7 437.3,922.2 438.9,922.6 440.5,922.8 442.2,924.2 443.8,923.5 445.4,922.9 447.1,924.6 448.7,924.4 450.3,925.0 452.0,924.5 453.6,925.6 455.2,924.0 456.8,925.4 458.5,926.4 460.1,924.3 461.7,925.0 463.4,925.4 465.0,925.5 466.6,926.2 468.3,926.2 469.9,925.7 471.5,925.6 473.2,925.7 474.8,926.2 476.4,926.8 478.1,926.6 479.7,925.8 481.3,925.7 483.0,926.9 484.6,927.0 486.2,925.9 487.9,926.3 489.5,926.3 491.1,927.6 492.8,927.0 494.4,927.1 496.0,926.7 497.6,927.9 499.3,925.9 500.9,926.6 502.5,926.4 504.2,927.5 505.8,926.7 507.4,925.8 509.1,927.6 510.7,926.4 512.3,926.1 514.0,926.9 515.6,925.9 517.2,926.6 518.9,925.5 520.5,925.9 522.1,926.0 523.8,924.8 525.4,925.4 527.0,925.1 528.7,926.6 530.3,926.2 531.9,925.1 533.6,925.0 535.2,925.5 536.8,924.9 538.4,926.0 540.1,925.0 541.7,925.8 543.3,924.8 545.0,925.2 546.6,925.2 548.2,924.6 549.9,923.4 551.5,925.1 553.1,924.8 554.8,923.6 556.4,924.4 558.0,922.9 559.7,923.7 561.3,923.3 562.9,922.2 564.6,918.6 566.2,912.1 567.8,893.1 569.5,850.1 571.1,781.0 572.7,710.3 574.4,665.7 576.0,647.1 577.6,640.5 579.2,638.5 580.9,639.7 582.5,640.9 584.1,645.0 585.8,649.0 587.4,656.4 589.0,664.6 590.7,674.1 592.3,685.0 593.9,694.0 595.6,701.7 597.2,706.6 598.8,708.1 600.5,709.9 602.1,708.9 603.7,706.4 605.4,708.3 607.0,715.8 608.6,726.8 610.3,738.6 611.9,752.9 613.5,765.7 615.2,779.7 616.8,794.3 618.4,806.8 620.0,817.8 621.7,827.7 623.3,838.7 624.9,844.4 626.6,850.8 628.2,856.6 629.8,861.1 631.5,865.2 633.1,869.8 634.7,872.2 636.4,875.6 638.0,878.9 639.6,880.7 641.3,882.2 642.9,886.4 644.5,888.7 646.2,890.7 647.8,890.2 649.4,893.5 651.1,895.0 652.7,897.1 654.3,898.8 656.0,900.9 657.6,900.8 659.2,902.1 660.8,904.8 662.5,905.3 664.1,906.2 665.7,906.8 667.4,907.6 669.0,908.0 670.6,908.7 672.3,909.7 673.9,910.4 675.5,912.8 677.2,913.1 678.8,912.7 680.4,913.9 682.1,914.7 683.7,916.6 685.3,917.1 687.0,915.9 688.6,916.7 690.2,917.6 691.9,918.1 693.5,919.5 695.1,918.5 696.8,918.5 698.4,918.5 700.0,919.9 701.6,920.4 703.3,921.3 704.9,920.1 706.5,920.1 708.2,921.9 709.8,921.6 711.4,922.0 713.1,922.7 714.7,924.2 716.3,923.1 718.0,922.7 719.6,924.2 721.2,924.1 722.9,925.9 724.5,923.1 726.1,923.8 727.8,924.3 729.4,924.6 731.0,925.0 732.7,924.8 734.3,925.2 735.9,925.3 737.6,925.3 739.2,925.3 740.8,924.5 742.4,926.6 744.1,925.6 745.7,926.3 747.3,926.8 749.0,927.7 750.6,925.9 752.2,927.0 753.9,927.0 755.5,926.3 757.1,927.4 758.8,926.8 760.4,926.9 762.0,926.5 763.7,926.4 765.3,927.7 766.9,926.6 768.6,927.4 770.2,927.3 771.8,927.6 773.5,927.0 775.1,928.4 776.7,927.5 778.4,927.0 780.0,928.0 781.6,926.5 783.2,928.4 784.9,927.8 786.5,928.4 788.1,928.5 789.8,928.9 791.4,928.5 793.0,928.3 794.7,928.8 796.3,927.8 797.9,927.4 799.6,929.4 801.2,927.9 802.8,928.4 804.5,928.4 806.1,927.0 807.7,927.8 809.4,928.4 811.0,928.6 812.6,930.1 814.3,928.2 815.9,929.3 817.5,928.7 819.2,928.8 820.8,928.2 822.4,927.6 824.0,928.3 825.7,928.1 827.3,929.1 828.9,928.7 830.6,928.5 832.2,930.0 833.8,927.7 835.5,929.5 837.1,929.9 838.7,928.0 840.4,927.7 842.0,929.6 L842.0,931.7 Z" stroke="#d83c2a" stroke-dasharray="0 0.32 1096.29 99999"/><path d="M317.8,936.5 L317.8,935.8 319.5,933.2 321.1,935.1 322.7,936.4 324.4,935.4 326.0,933.6 327.6,934.4 329.2,934.3 330.9,933.9 332.5,934.1 334.1,934.7 335.8,935.4 337.4,933.9 339.0,934.8 340.7,934.0 342.3,932.6 343.9,933.3 345.6,933.4 347.2,933.3 348.8,932.6 350.5,932.3 352.1,933.6 353.7,932.3 355.4,931.1 357.0,931.5 358.6,932.2 360.3,931.8 361.9,932.3 363.5,931.1 365.2,929.1 366.8,929.7 368.4,929.6 370.0,928.7 371.7,927.5 373.3,926.2 374.9,924.5 376.6,922.0 378.2,916.9 379.8,910.3 381.5,904.1 383.1,897.6 384.7,897.1 386.4,902.6 388.0,906.6 389.6,910.1 391.3,912.4 392.9,914.7 394.5,916.6 396.2,917.0 397.8,919.0 399.4,920.2 401.1,921.2 402.7,920.0 404.3,922.3 406.0,921.4 407.6,921.8 409.2,922.2 410.8,923.4 412.5,924.1 414.1,924.1 415.7,924.9 417.4,925.8 419.0,924.5 420.6,926.3 422.3,924.8 423.9,926.0 425.5,926.9 427.2,926.7 428.8,926.4 430.4,928.4 432.1,928.4 433.7,928.7 435.3,928.2 437.0,928.2 438.6,928.7 440.2,929.4 441.9,929.5 443.5,928.5 445.1,928.8 446.8,929.6 448.4,930.7 450.0,929.6 451.6,929.9 453.3,930.1 454.9,929.3 456.5,930.0 458.2,931.3 459.8,931.4 461.4,930.0 463.1,930.8 464.7,930.5 466.3,931.2 468.0,931.8 469.6,931.1 471.2,930.3 472.9,931.1 474.5,932.2 476.1,931.7 477.8,931.8 479.4,931.4 481.0,930.9 482.7,930.3 484.3,931.4 485.9,931.9 487.6,931.6 489.2,931.6 490.8,931.9 492.4,931.6 494.1,931.6 495.7,932.3 497.3,931.2 499.0,931.7 500.6,932.1 502.2,931.1 503.9,931.7 505.5,930.2 507.1,931.0 508.8,931.2 510.4,931.7 512.0,931.4 513.7,930.5 515.3,931.5 516.9,930.4 518.6,932.2 520.2,930.7 521.8,930.2 523.5,930.4 525.1,930.5 526.7,929.8 528.4,930.9 530.0,930.9 531.6,930.1 533.2,929.3 534.9,929.7 536.5,930.0 538.1,929.6 539.8,929.4 541.4,930.4 543.0,931.3 544.7,930.0 546.3,930.3 547.9,929.5 549.6,929.8 551.2,929.5 552.8,928.5 554.5,928.6 556.1,928.3 557.7,926.5 559.4,925.8 561.0,920.3 562.6,904.9 564.3,874.1 565.9,821.5 567.5,766.4 569.2,733.9 570.8,718.6 572.4,712.2 574.0,709.2 575.7,708.4 577.3,707.0 578.9,706.9 580.6,705.8 582.2,705.9 583.8,707.0 585.5,707.0 587.1,705.7 588.7,707.4 590.4,703.3 592.0,698.2 593.6,691.5 595.3,685.3 596.9,676.8 598.5,671.4 600.2,668.3 601.8,667.7 603.4,677.7 605.1,690.2 606.7,705.1 608.3,720.2 610.0,738.3 611.6,753.7 613.2,769.5 614.8,782.6 616.5,795.5 618.1,806.9 619.7,816.9 621.4,824.8 623.0,831.3 624.6,836.7 626.3,842.7 627.9,848.9 629.5,852.9 631.2,856.7 632.8,860.6 634.4,864.1 636.1,867.0 637.7,870.5 639.3,874.1 641.0,877.8 642.6,879.5 644.2,882.9 645.9,884.4 647.5,886.4 649.1,889.6 650.8,891.0 652.4,893.1 654.0,893.5 655.6,896.2 657.3,899.5 658.9,899.6 660.5,901.1 662.2,903.0 663.8,904.5 665.4,905.2 667.1,906.4 668.7,907.7 670.3,909.8 672.0,910.4 673.6,912.3 675.2,913.3 676.9,913.6 678.5,914.8 680.1,915.2 681.8,914.1 683.4,916.2 685.0,917.9 686.7,919.4 688.3,919.2 689.9,920.2 691.6,921.3 693.2,920.0 694.8,921.4 696.4,921.3 698.1,920.1 699.7,922.4 701.3,923.0 703.0,923.2 704.6,924.1 706.2,924.8 707.9,924.8 709.5,924.3 711.1,925.6 712.8,926.7 714.4,926.9 716.0,927.1 717.7,926.7 719.3,926.7 720.9,927.0 722.6,926.8 724.2,927.9 725.8,927.5 727.5,928.0 729.1,928.0 730.7,929.9 732.4,928.1 734.0,930.1 735.6,930.0 737.2,929.0 738.9,929.9 740.5,928.7 742.1,929.9 743.8,930.8 745.4,930.2 747.0,930.7 748.7,929.6 750.3,929.6 751.9,930.4 753.6,931.2 755.2,931.0 756.8,930.5 758.5,931.9 760.1,932.0 761.7,931.0 763.4,931.2 765.0,931.9 766.6,932.0 768.3,933.2 769.9,931.3 771.5,932.2 773.2,933.1 774.8,933.0 776.4,933.0 778.0,931.3 779.7,932.1 781.3,933.5 782.9,931.4 784.6,931.8 786.2,933.5 787.8,934.6 789.5,932.3 791.1,933.3 792.7,933.1 794.4,933.4 796.0,932.3 797.6,932.2 799.3,932.7 800.9,933.4 802.5,933.1 804.2,932.9 805.8,934.4 807.4,932.6 809.1,933.7 810.7,933.3 812.3,933.4 814.0,933.0 815.6,932.9 817.2,932.2 818.8,933.9 820.5,934.3 822.1,933.6 823.7,934.2 825.4,933.2 827.0,934.3 828.6,933.7 830.3,933.2 831.9,933.2 833.5,933.7 835.2,932.9 836.8,933.0 L836.8,936.5 Z" stroke="#d6402c" stroke-dasharray="0 0.75 1036.77 99999"/><path d="M312.6,941.3 L312.6,940.8 314.3,939.3 315.9,939.3 317.5,939.5 319.2,939.6 320.8,939.1 322.4,938.7 324.0,938.7 325.7,937.8 327.3,937.9 328.9,938.8 330.6,938.7 332.2,937.5 333.8,938.3 335.5,937.5 337.1,937.1 338.7,936.5 340.4,936.6 342.0,935.8 343.6,936.8 345.3,935.7 346.9,936.3 348.5,935.4 350.2,935.1 351.8,935.4 353.4,936.1 355.1,933.3 356.7,933.2 358.3,932.8 360.0,932.7 361.6,931.7 363.2,930.4 364.8,929.6 366.5,927.5 368.1,926.3 369.7,924.3 371.4,919.4 373.0,914.2 374.6,904.9 376.3,895.3 377.9,885.1 379.5,885.4 381.2,891.6 382.8,897.8 384.4,902.7 386.1,906.8 387.7,908.5 389.3,912.0 391.0,913.7 392.6,915.2 394.2,917.6 395.9,918.4 397.5,918.1 399.1,919.6 400.8,919.3 402.4,921.0 404.0,921.8 405.6,921.7 407.3,922.9 408.9,922.7 410.5,925.0 412.2,924.6 413.8,925.0 415.4,925.6 417.1,925.7 418.7,926.2 420.3,927.3 422.0,928.2 423.6,927.6 425.2,928.6 426.9,928.4 428.5,928.5 430.1,929.6 431.8,930.7 433.4,930.6 435.0,930.2 436.7,931.2 438.3,930.5 439.9,931.5 441.6,931.7 443.2,932.5 444.8,932.4 446.4,931.8 448.1,933.0 449.7,933.2 451.3,933.7 453.0,932.9 454.6,934.6 456.2,934.2 457.9,933.3 459.5,933.1 461.1,934.3 462.8,933.7 464.4,935.8 466.0,934.1 467.7,934.5 469.3,935.6 470.9,936.0 472.6,935.3 474.2,934.9 475.8,934.9 477.5,935.1 479.1,934.7 480.7,934.8 482.4,936.3 484.0,935.6 485.6,935.8 487.2,934.8 488.9,935.8 490.5,934.8 492.1,935.4 493.8,934.0 495.4,935.5 497.0,935.5 498.7,935.5 500.3,935.4 501.9,933.8 503.6,935.7 505.2,935.9 506.8,935.5 508.5,934.8 510.1,935.9 511.7,934.7 513.4,934.6 515.0,935.2 516.6,935.2 518.3,935.5 519.9,935.1 521.5,935.3 523.2,933.9 524.8,933.6 526.4,934.8 528.0,934.5 529.7,935.7 531.3,934.7 532.9,934.0 534.6,934.0 536.2,934.0 537.8,933.4 539.5,933.8 541.1,934.1 542.7,932.7 544.4,934.9 546.0,934.3 547.6,933.9 549.3,933.7 550.9,933.5 552.5,932.5 554.2,931.2 555.8,926.3 557.4,914.2 559.1,888.2 560.7,845.1 562.3,802.5 564.0,775.8 565.6,762.9 567.2,756.9 568.8,754.9 570.5,753.1 572.1,752.2 573.7,751.5 575.4,752.5 577.0,751.4 578.6,752.2 580.3,751.9 581.9,753.1 583.5,752.4 585.2,750.4 586.8,746.2 588.4,741.9 590.1,735.0 591.7,729.0 593.3,723.6 595.0,721.8 596.6,720.7 598.2,727.0 599.9,738.1 601.5,748.4 603.1,761.5 604.8,773.7 606.4,785.7 608.0,797.1 609.6,808.8 611.3,818.8 612.9,825.6 614.5,833.8 616.2,839.8 617.8,845.3 619.4,850.3 621.1,855.3 622.7,859.1 624.3,863.5 626.0,865.7 627.6,869.2 629.2,871.8 630.9,873.3 632.5,876.7 634.1,879.6 635.8,882.9 637.4,883.8 639.0,885.4 640.7,889.1 642.3,890.3 643.9,892.8 645.6,894.4 647.2,896.3 648.8,898.8 650.4,899.7 652.1,901.9 653.7,901.5 655.3,903.1 657.0,905.1 658.6,906.3 660.2,907.7 661.9,908.8 663.5,909.9 665.1,911.3 666.8,912.3 668.4,914.1 670.0,914.8 671.7,915.5 673.3,915.9 674.9,917.1 676.6,916.5 678.2,918.6 679.8,919.5 681.5,919.7 683.1,920.0 684.7,920.2 686.4,921.4 688.0,923.0 689.6,923.3 691.2,923.1 692.9,924.2 694.5,924.4 696.1,925.5 697.8,924.9 699.4,925.4 701.0,926.1 702.7,927.2 704.3,928.7 705.9,929.0 707.6,928.3 709.2,928.5 710.8,931.1 712.5,929.9 714.1,929.2 715.7,929.6 717.4,930.9 719.0,930.5 720.6,931.1 722.3,931.6 723.9,931.0 725.5,931.3 727.2,932.6 728.8,933.1 730.4,933.6 732.0,933.9 733.7,932.3 735.3,932.2 736.9,933.5 738.6,933.1 740.2,934.4 741.8,934.2 743.5,933.8 745.1,934.3 746.7,934.7 748.4,935.9 750.0,935.9 751.6,935.4 753.3,935.6 754.9,935.5 756.5,936.0 758.2,935.8 759.8,935.8 761.4,935.6 763.1,936.0 764.7,936.5 766.3,936.5 768.0,935.8 769.6,936.6 771.2,937.2 772.8,937.3 774.5,936.6 776.1,936.5 777.7,936.2 779.4,937.3 781.0,936.3 782.6,937.4 784.3,937.4 785.9,937.7 787.5,937.1 789.2,936.8 790.8,937.6 792.4,937.9 794.1,938.7 795.7,937.6 797.3,938.0 799.0,938.0 800.6,938.3 802.2,938.5 803.9,938.3 805.5,937.8 807.1,937.5 808.8,938.1 810.4,938.0 812.0,938.3 813.6,938.3 815.3,939.2 816.9,937.8 818.5,938.0 820.2,937.5 821.8,938.8 823.4,938.4 825.1,939.1 826.7,938.3 828.3,938.6 830.0,938.1 831.6,938.7 L831.6,941.3 Z" stroke="#d4442e" stroke-dasharray="0 0.57 948.61 99999"/><path d="M307.4,946.2 L307.4,943.7 309.1,944.3 310.7,943.5 312.3,944.0 314.0,943.9 315.6,943.4 317.2,943.1 318.8,944.1 320.5,944.0 322.1,942.7 323.7,942.7 325.4,943.7 327.0,943.3 328.6,942.5 330.3,941.6 331.9,941.4 333.5,940.6 335.2,940.2 336.8,939.2 338.4,941.3 340.1,940.0 341.7,938.9 343.3,940.0 345.0,939.7 346.6,938.2 348.2,937.1 349.9,936.5 351.5,937.8 353.1,936.8 354.8,935.3 356.4,934.7 358.0,933.1 359.6,932.0 361.3,929.3 362.9,928.3 364.5,925.0 366.2,920.3 367.8,912.4 369.4,903.3 371.1,889.1 372.7,878.7 374.3,880.2 376.0,885.0 377.6,893.5 379.2,899.3 380.9,904.6 382.5,907.7 384.1,910.6 385.8,912.5 387.4,914.9 389.0,915.0 390.7,918.0 392.3,917.6 393.9,919.9 395.6,920.2 397.2,921.6 398.8,922.3 400.4,922.5 402.1,924.2 403.7,925.6 405.3,925.6 407.0,926.0 408.6,928.7 410.2,927.1 411.9,927.6 413.5,930.0 415.1,929.6 416.8,929.5 418.4,931.2 420.0,931.3 421.7,931.7 423.3,931.6 424.9,931.6 426.6,932.8 428.2,933.1 429.8,933.0 431.5,933.6 433.1,934.4 434.7,933.8 436.4,935.9 438.0,935.2 439.6,935.8 441.2,936.2 442.9,936.0 444.5,936.3 446.1,935.0 447.8,936.4 449.4,936.9 451.0,936.2 452.7,936.8 454.3,938.9 455.9,937.8 457.6,937.6 459.2,938.6 460.8,938.2 462.5,938.8 464.1,938.4 465.7,939.8 467.4,940.2 469.0,939.4 470.6,939.0 472.3,938.3 473.9,939.5 475.5,939.9 477.2,938.9 478.8,939.5 480.4,938.4 482.0,939.7 483.7,940.9 485.3,940.2 486.9,940.3 488.6,940.6 490.2,940.3 491.8,940.2 493.5,940.0 495.1,940.1 496.7,939.5 498.4,939.5 500.0,939.6 501.6,939.6 503.3,940.9 504.9,940.7 506.5,940.2 508.2,939.4 509.8,940.5 511.4,939.8 513.1,939.3 514.7,938.1 516.3,939.2 518.0,939.6 519.6,938.5 521.2,939.0 522.8,939.3 524.5,938.3 526.1,939.5 527.7,938.7 529.4,938.7 531.0,938.1 532.6,939.3 534.3,939.3 535.9,938.7 537.5,938.5 539.2,938.2 540.8,938.4 542.4,937.8 544.1,937.5 545.7,937.5 547.3,937.9 549.0,935.1 550.6,933.3 552.2,923.2 553.9,901.7 555.5,868.7 557.1,833.3 558.8,811.6 560.4,802.1 562.0,798.7 563.6,796.5 565.3,796.4 566.9,795.1 568.5,794.5 570.2,794.5 571.8,794.6 573.4,795.2 575.1,796.8 576.7,795.4 578.3,794.9 580.0,791.9 581.6,789.6 583.2,785.7 584.9,780.4 586.5,775.9 588.1,772.6 589.8,770.6 591.4,770.8 593.0,775.1 594.7,781.1 596.3,791.6 597.9,800.2 599.6,808.5 601.2,818.1 602.8,826.8 604.4,836.5 606.1,842.9 607.7,848.6 609.3,854.1 611.0,859.1 612.6,864.1 614.2,866.8 615.9,871.2 617.5,874.0 619.1,876.8 620.8,877.7 622.4,881.2 624.0,883.2 625.7,886.8 627.3,886.7 628.9,889.0 630.6,892.3 632.2,894.1 633.8,893.7 635.5,897.1 637.1,896.9 638.7,900.0 640.4,902.8 642.0,901.9 643.6,903.7 645.2,905.0 646.9,907.1 648.5,908.1 650.1,908.6 651.8,910.9 653.4,912.8 655.0,912.0 656.7,914.0 658.3,913.8 659.9,915.9 661.6,916.8 663.2,917.6 664.8,919.9 666.5,918.4 668.1,920.4 669.7,920.9 671.4,920.6 673.0,922.2 674.6,922.4 676.3,923.5 677.9,923.9 679.5,924.8 681.2,924.9 682.8,926.4 684.4,926.5 686.0,927.8 687.7,927.1 689.3,929.9 690.9,928.8 692.6,929.2 694.2,929.7 695.8,930.4 697.5,929.9 699.1,929.9 700.7,932.1 702.4,933.3 704.0,933.2 705.6,933.4 707.3,933.3 708.9,933.6 710.5,933.2 712.2,934.5 713.8,934.6 715.4,934.8 717.1,935.7 718.7,935.7 720.3,933.9 722.0,936.1 723.6,936.9 725.2,938.0 726.8,936.1 728.5,937.2 730.1,937.7 731.7,935.9 733.4,936.8 735.0,939.0 736.6,938.3 738.3,937.7 739.9,938.0 741.5,939.4 743.2,937.7 744.8,937.8 746.4,939.9 748.1,940.5 749.7,940.5 751.3,939.3 753.0,939.1 754.6,939.9 756.2,940.5 757.9,940.3 759.5,940.0 761.1,941.3 762.8,941.8 764.4,940.8 766.0,940.1 767.6,940.9 769.3,941.0 770.9,941.7 772.5,940.7 774.2,942.5 775.8,941.5 777.4,942.0 779.1,941.8 780.7,942.4 782.3,941.4 784.0,942.0 785.6,942.4 787.2,941.8 788.9,942.2 790.5,942.6 792.1,942.7 793.8,941.8 795.4,943.0 797.0,942.6 798.7,942.7 800.3,942.4 801.9,942.8 803.6,941.3 805.2,943.9 806.8,942.4 808.4,942.9 810.1,942.2 811.7,944.0 813.3,942.2 815.0,943.9 816.6,942.6 818.2,942.8 819.9,943.1 821.5,943.6 823.1,943.7 824.8,943.2 826.4,943.7 L826.4,946.2 Z" stroke="#d2462f" stroke-dasharray="0 2.43 896.90 99999"/><path d="M302.2,951.0 L302.2,950.1 303.9,949.9 305.5,948.0 307.1,947.9 308.8,947.9 310.4,948.1 312.0,947.7 313.6,947.4 315.3,947.4 316.9,947.9 318.5,947.6 320.2,947.7 321.8,946.6 323.4,947.1 325.1,946.3 326.7,945.0 328.3,945.9 330.0,944.7 331.6,943.9 333.2,945.8 334.9,945.2 336.5,943.5 338.1,943.8 339.8,942.5 341.4,941.9 343.0,942.1 344.7,940.6 346.3,939.4 347.9,939.1 349.6,939.4 351.2,938.0 352.8,937.0 354.4,934.2 356.1,933.5 357.7,931.3 359.3,927.2 361.0,921.7 362.6,914.3 364.2,902.5 365.9,888.0 367.5,875.2 369.1,876.9 370.8,885.6 372.4,895.8 374.0,902.6 375.7,908.6 377.3,910.8 378.9,913.9 380.6,915.9 382.2,919.2 383.8,917.3 385.5,919.0 387.1,920.0 388.7,921.6 390.4,922.0 392.0,921.3 393.6,924.3 395.2,923.9 396.9,924.6 398.5,925.4 400.1,925.8 401.8,927.2 403.4,926.6 405.0,928.3 406.7,926.7 408.3,927.8 409.9,929.3 411.6,930.6 413.2,929.5 414.8,929.6 416.5,931.0 418.1,929.6 419.7,930.9 421.4,931.7 423.0,932.6 424.6,932.1 426.3,932.5 427.9,932.2 429.5,932.3 431.2,933.2 432.8,933.2 434.4,932.9 436.0,933.7 437.7,934.5 439.3,934.2 440.9,935.2 442.6,934.8 444.2,935.3 445.8,936.3 447.5,935.4 449.1,935.9 450.7,935.7 452.4,937.2 454.0,935.8 455.6,936.0 457.3,937.1 458.9,937.1 460.5,937.2 462.2,937.4 463.8,937.0 465.4,938.2 467.1,938.6 468.7,938.1 470.3,936.8 472.0,938.5 473.6,939.0 475.2,939.0 476.8,938.4 478.5,937.9 480.1,939.2 481.7,938.7 483.4,938.7 485.0,938.6 486.6,938.9 488.3,938.4 489.9,938.7 491.5,939.6 493.2,937.6 494.8,940.2 496.4,940.2 498.1,938.7 499.7,939.2 501.3,939.6 503.0,939.3 504.6,939.0 506.2,939.7 507.9,939.9 509.5,940.1 511.1,940.0 512.8,940.0 514.4,938.7 516.0,939.2 517.6,939.1 519.3,939.8 520.9,938.7 522.5,940.4 524.2,939.0 525.8,938.9 527.4,939.7 529.1,939.9 530.7,938.9 532.3,939.7 534.0,939.8 535.6,939.1 537.2,939.8 538.9,939.1 540.5,937.5 542.1,938.8 543.8,937.0 545.4,935.7 547.0,928.2 548.7,913.0 550.3,887.8 551.9,862.0 553.6,845.4 555.2,839.7 556.8,835.8 558.4,835.0 560.1,834.0 561.7,834.3 563.3,834.1 565.0,833.6 566.6,834.1 568.2,833.9 569.9,835.0 571.5,834.5 573.1,833.9 574.8,831.5 576.4,829.2 578.0,826.9 579.7,824.1 581.3,820.0 582.9,817.1 584.6,816.1 586.2,816.2 587.8,820.5 589.5,824.2 591.1,828.7 592.7,836.6 594.4,842.9 596.0,849.6 597.6,855.9 599.2,861.5 600.9,868.5 602.5,871.9 604.1,875.6 605.8,879.3 607.4,881.5 609.0,885.1 610.7,886.6 612.3,888.2 613.9,891.4 615.6,893.1 617.2,895.0 618.8,895.9 620.5,899.4 622.1,900.5 623.7,901.2 625.4,901.8 627.0,903.4 628.6,905.7 630.3,905.3 631.9,907.6 633.5,909.3 635.2,909.7 636.8,910.3 638.4,912.3 640.0,914.3 641.7,914.7 643.3,915.3 644.9,915.7 646.6,917.9 648.2,918.0 649.8,919.8 651.5,919.9 653.1,921.6 654.7,921.9 656.4,923.3 658.0,923.8 659.6,924.9 661.3,925.9 662.9,924.5 664.5,925.2 666.2,926.3 667.8,927.5 669.4,926.9 671.1,928.6 672.7,928.7 674.3,928.8 676.0,930.0 677.6,929.7 679.2,931.3 680.8,931.8 682.5,932.1 684.1,933.4 685.7,933.8 687.4,933.1 689.0,935.1 690.6,933.7 692.3,934.7 693.9,934.5 695.5,935.1 697.2,935.6 698.8,935.2 700.4,936.8 702.1,937.2 703.7,936.7 705.3,938.2 707.0,937.3 708.6,937.9 710.2,939.0 711.9,939.8 713.5,940.6 715.1,938.3 716.8,940.8 718.4,940.9 720.0,939.8 721.6,940.3 723.3,940.7 724.9,941.0 726.5,941.6 728.2,942.2 729.8,942.3 731.4,941.6 733.1,941.5 734.7,941.6 736.3,942.6 738.0,944.3 739.6,942.6 741.2,943.2 742.9,945.1 744.5,942.6 746.1,943.5 747.8,943.8 749.4,943.8 751.0,944.0 752.7,944.1 754.3,944.3 755.9,944.5 757.6,944.3 759.2,944.6 760.8,943.3 762.4,945.0 764.1,945.5 765.7,945.7 767.3,945.1 769.0,945.4 770.6,945.4 772.2,945.8 773.9,945.9 775.5,945.4 777.1,945.1 778.8,945.9 780.4,946.2 782.0,947.0 783.7,947.1 785.3,946.4 786.9,946.7 788.6,946.6 790.2,947.4 791.8,946.8 793.5,948.1 795.1,947.6 796.7,947.5 798.4,946.6 800.0,947.5 801.6,947.7 803.2,947.0 804.9,947.3 806.5,946.7 808.1,947.1 809.8,947.2 811.4,947.6 813.0,947.0 814.7,948.0 816.3,948.6 817.9,947.0 819.6,948.0 821.2,947.7 L821.2,951.0 Z" stroke="#cf4730" stroke-dasharray="0 0.90 823.92 99999"/><path d="M297.0,955.8 L297.0,953.2 298.7,952.8 300.3,955.2 301.9,953.9 303.6,952.2 305.2,954.0 306.8,952.4 308.4,952.8 310.1,952.9 311.7,952.3 313.3,953.1 315.0,951.5 316.6,950.7 318.2,952.2 319.9,951.4 321.5,949.9 323.1,950.2 324.8,950.3 326.4,948.8 328.0,950.5 329.7,949.2 331.3,948.6 332.9,948.4 334.6,947.2 336.2,948.3 337.8,946.6 339.5,946.5 341.1,944.5 342.7,943.9 344.4,944.2 346.0,943.4 347.6,941.5 349.2,940.6 350.9,938.5 352.5,935.4 354.1,932.4 355.8,925.6 357.4,918.9 359.0,907.7 360.7,893.5 362.3,880.8 363.9,881.7 365.6,890.3 367.2,899.4 368.8,906.9 370.5,912.4 372.1,916.8 373.7,919.0 375.4,920.8 377.0,923.5 378.6,923.5 380.3,925.5 381.9,925.8 383.5,926.9 385.2,926.9 386.8,926.3 388.4,929.4 390.0,929.3 391.7,928.5 393.3,931.0 394.9,931.1 396.6,931.5 398.2,931.7 399.8,933.4 401.5,932.6 403.1,932.8 404.7,932.0 406.4,934.1 408.0,934.8 409.6,934.7 411.3,936.9 412.9,935.3 414.5,934.9 416.2,936.3 417.8,936.6 419.4,937.1 421.1,937.1 422.7,938.4 424.3,936.8 426.0,938.4 427.6,938.7 429.2,937.6 430.8,938.9 432.5,939.5 434.1,938.4 435.7,939.6 437.4,939.3 439.0,940.6 440.6,941.6 442.3,940.5 443.9,939.9 445.5,941.3 447.2,941.0 448.8,940.9 450.4,941.4 452.1,941.7 453.7,941.4 455.3,942.0 457.0,942.6 458.6,941.7 460.2,942.0 461.9,942.4 463.5,942.3 465.1,944.7 466.8,942.9 468.4,943.1 470.0,944.6 471.6,942.0 473.3,943.2 474.9,943.8 476.5,943.9 478.2,943.5 479.8,943.8 481.4,944.9 483.1,944.2 484.7,943.7 486.3,943.6 488.0,943.5 489.6,944.8 491.2,944.5 492.9,943.9 494.5,944.6 496.1,944.1 497.8,944.8 499.4,943.9 501.0,944.2 502.7,943.9 504.3,944.2 505.9,944.8 507.6,945.1 509.2,944.2 510.8,944.6 512.4,945.2 514.1,944.6 515.7,943.7 517.3,943.3 519.0,943.6 520.6,943.2 522.2,944.3 523.9,944.2 525.5,944.6 527.1,944.5 528.8,942.9 530.4,943.6 532.0,943.4 533.7,942.1 535.3,942.4 536.9,944.0 538.6,941.9 540.2,940.8 541.8,933.8 543.5,922.4 545.1,900.0 546.7,878.2 548.4,862.6 550.0,858.9 551.6,854.4 553.2,853.3 554.9,853.3 556.5,852.5 558.1,851.3 559.8,853.1 561.4,854.0 563.0,853.7 564.7,855.2 566.3,857.4 567.9,857.2 569.6,857.0 571.2,856.9 572.8,855.0 574.5,852.6 576.1,850.5 577.7,847.2 579.4,845.7 581.0,846.6 582.6,845.3 584.3,846.7 585.9,850.6 587.5,853.3 589.2,856.5 590.8,861.5 592.4,864.1 594.0,868.8 595.7,869.8 597.3,873.5 598.9,876.4 600.6,878.8 602.2,880.6 603.8,880.3 605.5,883.3 607.1,884.6 608.7,885.9 610.4,887.9 612.0,887.7 613.6,891.1 615.3,890.0 616.9,892.3 618.5,893.0 620.2,893.9 621.8,894.7 623.4,897.2 625.1,897.0 626.7,898.6 628.3,899.7 630.0,900.8 631.6,900.9 633.2,902.3 634.8,902.7 636.5,903.9 638.1,906.8 639.7,906.5 641.4,906.6 643.0,908.8 644.6,910.2 646.3,911.4 647.9,909.4 649.5,912.2 651.2,912.3 652.8,913.9 654.4,913.7 656.1,913.7 657.7,916.5 659.3,916.3 661.0,917.5 662.6,919.0 664.2,919.0 665.9,919.1 667.5,919.0 669.1,919.6 670.8,921.1 672.4,922.9 674.0,922.0 675.6,923.0 677.3,923.6 678.9,925.0 680.5,924.9 682.2,924.1 683.8,925.0 685.4,925.7 687.1,926.6 688.7,927.9 690.3,928.1 692.0,928.6 693.6,928.9 695.2,929.9 696.9,930.7 698.5,929.9 700.1,931.4 701.8,931.0 703.4,932.2 705.0,932.0 706.7,932.6 708.3,932.9 709.9,933.3 711.6,934.8 713.2,935.5 714.8,935.0 716.4,934.3 718.1,936.3 719.7,936.8 721.3,935.0 723.0,937.9 724.6,937.6 726.2,937.9 727.9,938.4 729.5,938.7 731.1,937.9 732.8,938.8 734.4,939.1 736.0,940.7 737.7,939.3 739.3,940.1 740.9,940.4 742.6,940.2 744.2,940.8 745.8,941.3 747.5,941.3 749.1,942.3 750.7,942.7 752.4,943.3 754.0,942.0 755.6,943.3 757.2,943.0 758.9,942.6 760.5,942.3 762.1,944.0 763.8,943.9 765.4,944.1 767.0,945.3 768.7,944.9 770.3,942.9 771.9,945.0 773.6,944.0 775.2,944.9 776.8,944.4 778.5,944.9 780.1,945.8 781.7,946.9 783.4,945.3 785.0,945.9 786.6,946.3 788.3,946.2 789.9,947.4 791.5,947.0 793.2,947.2 794.8,948.3 796.4,948.3 798.0,947.7 799.7,949.2 801.3,947.4 802.9,947.5 804.6,948.2 806.2,948.1 807.8,949.6 809.5,948.4 811.1,948.1 812.7,948.4 814.4,948.2 816.0,949.0 L816.0,955.8 Z" stroke="#cd4930" stroke-dasharray="0 2.62 789.77 99999"/><path d="M291.8,960.6 L291.8,957.3 293.5,958.2 295.1,957.9 296.7,957.5 298.4,958.6 300.0,958.7 301.6,957.3 303.2,958.5 304.9,957.9 306.5,956.7 308.1,957.9 309.8,957.6 311.4,957.6 313.0,957.2 314.7,955.0 316.3,955.6 317.9,955.1 319.6,956.8 321.2,956.8 322.8,955.6 324.5,953.8 326.1,953.3 327.7,955.0 329.4,954.4 331.0,952.4 332.6,952.1 334.3,951.4 335.9,950.7 337.5,951.1 339.2,949.5 340.8,948.9 342.4,946.8 344.0,946.5 345.7,945.9 347.3,941.5 348.9,937.9 350.6,933.7 352.2,927.4 353.8,917.3 355.5,902.8 357.1,892.7 358.7,893.7 360.4,901.0 362.0,910.4 363.6,918.3 365.3,921.3 366.9,925.5 368.5,928.2 370.2,929.0 371.8,930.2 373.4,931.5 375.1,932.0 376.7,934.6 378.3,933.7 380.0,933.7 381.6,935.4 383.2,936.3 384.8,936.6 386.5,936.2 388.1,937.7 389.7,938.5 391.4,939.6 393.0,938.0 394.6,938.4 396.3,939.7 397.9,938.7 399.5,940.8 401.2,940.4 402.8,942.1 404.4,942.2 406.1,941.9 407.7,941.9 409.3,942.1 411.0,943.4 412.6,943.5 414.2,943.5 415.9,943.9 417.5,944.2 419.1,943.7 420.8,943.8 422.4,946.0 424.0,944.1 425.6,945.1 427.3,945.3 428.9,945.5 430.5,945.3 432.2,945.7 433.8,947.4 435.4,946.0 437.1,947.5 438.7,946.7 440.3,947.0 442.0,948.3 443.6,947.4 445.2,947.8 446.9,948.2 448.5,946.6 450.1,947.9 451.8,948.4 453.4,947.1 455.0,948.5 456.7,948.6 458.3,950.0 459.9,948.4 461.6,948.2 463.2,947.7 464.8,949.7 466.4,948.4 468.1,948.3 469.7,948.8 471.3,949.3 473.0,950.5 474.6,949.3 476.2,949.9 477.9,950.7 479.5,949.2 481.1,949.7 482.8,949.8 484.4,948.4 486.0,950.1 487.7,951.1 489.3,951.2 490.9,949.4 492.6,949.9 494.2,950.3 495.8,951.2 497.5,950.3 499.1,950.5 500.7,949.8 502.4,950.3 504.0,950.3 505.6,949.7 507.2,950.2 508.9,949.4 510.5,951.9 512.1,950.4 513.8,948.7 515.4,949.4 517.0,950.2 518.7,949.6 520.3,949.8 521.9,949.6 523.6,948.4 525.2,949.6 526.8,949.1 528.5,949.7 530.1,949.6 531.7,949.8 533.4,948.6 535.0,946.8 536.6,942.2 538.3,932.0 539.9,915.6 541.5,898.7 543.2,889.0 544.8,883.3 546.4,881.8 548.0,880.4 549.7,880.9 551.3,879.8 552.9,880.5 554.6,881.8 556.2,881.2 557.8,881.9 559.5,883.5 561.1,884.0 562.7,884.2 564.4,882.1 566.0,882.7 567.6,880.4 569.3,879.2 570.9,877.3 572.5,875.9 574.2,876.2 575.8,873.7 577.4,875.2 579.1,875.6 580.7,878.1 582.3,879.5 584.0,882.5 585.6,884.9 587.2,888.5 588.8,891.3 590.5,893.1 592.1,894.1 593.7,897.1 595.4,899.1 597.0,901.4 598.6,902.3 600.3,903.1 601.9,903.7 603.5,904.8 605.2,906.3 606.8,907.1 608.4,907.1 610.1,907.8 611.7,909.2 613.3,909.8 615.0,910.9 616.6,911.4 618.2,914.3 619.9,914.6 621.5,914.9 623.1,915.6 624.8,915.8 626.4,918.7 628.0,918.1 629.6,918.8 631.3,920.2 632.9,920.5 634.5,920.5 636.2,921.5 637.8,922.6 639.4,923.1 641.1,924.0 642.7,923.9 644.3,925.2 646.0,925.2 647.6,926.8 649.2,927.1 650.9,928.4 652.5,928.4 654.1,928.3 655.8,930.1 657.4,930.2 659.0,930.4 660.7,931.3 662.3,931.0 663.9,932.9 665.6,932.1 667.2,932.3 668.8,932.5 670.4,934.2 672.1,935.1 673.7,936.1 675.3,935.1 677.0,935.5 678.6,936.3 680.2,936.7 681.9,936.9 683.5,938.0 685.1,939.1 686.8,939.5 688.4,939.5 690.0,940.0 691.7,940.8 693.3,940.4 694.9,941.2 696.6,940.5 698.2,941.3 699.8,941.1 701.5,942.9 703.1,943.0 704.7,943.7 706.4,942.8 708.0,941.3 709.6,943.5 711.2,944.2 712.9,944.1 714.5,944.6 716.1,944.2 717.8,945.2 719.4,946.0 721.0,947.0 722.7,945.8 724.3,945.6 725.9,946.4 727.6,947.4 729.2,947.3 730.8,947.5 732.5,947.2 734.1,947.8 735.7,947.2 737.4,948.4 739.0,948.9 740.6,947.5 742.3,949.6 743.9,949.6 745.5,947.9 747.2,949.3 748.8,948.5 750.4,951.6 752.0,949.3 753.7,950.3 755.3,950.4 756.9,950.3 758.6,952.7 760.2,951.6 761.8,950.9 763.5,949.2 765.1,952.0 766.7,950.1 768.4,951.4 770.0,951.3 771.6,952.7 773.3,951.8 774.9,953.0 776.5,953.3 778.2,951.8 779.8,953.3 781.4,953.3 783.1,952.6 784.7,953.7 786.3,954.1 788.0,953.3 789.6,953.3 791.2,952.6 792.8,954.5 794.5,953.4 796.1,953.5 797.7,954.3 799.4,954.3 801.0,954.2 802.6,955.0 804.3,955.3 805.9,954.1 807.5,955.3 809.2,955.3 810.8,954.3 L810.8,960.6 Z" stroke="#ca4a31" stroke-dasharray="0 3.33 744.41 99999"/><path d="M286.6,965.5 L286.6,964.1 288.3,963.9 289.9,964.4 291.5,964.2 293.2,964.2 294.8,964.1 296.4,962.2 298.0,963.5 299.7,964.3 301.3,963.3 302.9,962.0 304.6,963.0 306.2,962.1 307.8,962.5 309.5,962.9 311.1,961.8 312.7,961.9 314.4,960.9 316.0,960.3 317.6,960.5 319.3,958.4 320.9,960.5 322.5,958.6 324.2,958.8 325.8,957.8 327.4,957.9 329.1,959.3 330.7,957.5 332.3,956.0 334.0,956.0 335.6,956.1 337.2,954.6 338.8,952.9 340.5,950.8 342.1,950.1 343.7,946.8 345.4,943.4 347.0,937.4 348.6,928.0 350.3,915.3 351.9,906.1 353.5,908.3 355.2,914.5 356.8,921.8 358.4,927.9 360.1,932.1 361.7,934.8 363.3,936.2 365.0,938.4 366.6,938.8 368.2,941.6 369.9,941.7 371.5,942.2 373.1,942.2 374.8,943.8 376.4,944.0 378.0,944.0 379.6,944.7 381.3,945.6 382.9,945.8 384.5,946.6 386.2,945.8 387.8,946.4 389.4,946.5 391.1,945.9 392.7,946.9 394.3,947.7 396.0,948.4 397.6,947.2 399.2,948.8 400.9,949.4 402.5,948.7 404.1,949.5 405.8,950.2 407.4,950.0 409.0,949.2 410.7,950.7 412.3,950.7 413.9,951.8 415.6,951.7 417.2,951.0 418.8,951.9 420.4,951.9 422.1,951.5 423.7,952.6 425.3,951.5 427.0,953.2 428.6,953.4 430.2,953.6 431.9,954.2 433.5,953.0 435.1,953.5 436.8,952.8 438.4,954.3 440.0,953.5 441.7,953.2 443.3,954.3 444.9,954.4 446.6,956.1 448.2,953.2 449.8,954.7 451.5,954.3 453.1,955.1 454.7,954.7 456.4,955.7 458.0,954.5 459.6,955.0 461.2,955.4 462.9,954.9 464.5,956.4 466.1,955.2 467.8,955.6 469.4,954.4 471.0,954.9 472.7,955.6 474.3,955.7 475.9,953.5 477.6,956.1 479.2,954.3 480.8,954.9 482.5,955.0 484.1,956.8 485.7,954.9 487.4,955.8 489.0,956.1 490.6,955.1 492.3,955.9 493.9,955.0 495.5,956.0 497.2,955.0 498.8,955.0 500.4,955.8 502.0,955.9 503.7,955.7 505.3,955.5 506.9,955.5 508.6,953.9 510.2,954.8 511.8,955.2 513.5,955.2 515.1,955.4 516.7,954.7 518.4,954.8 520.0,955.2 521.6,955.1 523.3,954.9 524.9,955.2 526.5,954.2 528.2,954.3 529.8,951.9 531.4,948.7 533.1,939.7 534.7,926.7 536.3,913.7 538.0,904.7 539.6,900.1 541.2,898.0 542.8,897.2 544.5,896.8 546.1,896.4 547.7,896.6 549.4,896.6 551.0,897.4 552.6,897.4 554.3,898.5 555.9,899.1 557.5,899.3 559.2,897.8 560.8,899.7 562.4,897.9 564.1,896.3 565.7,894.3 567.3,893.2 569.0,891.1 570.6,892.7 572.2,890.5 573.9,893.6 575.5,895.1 577.1,896.4 578.8,899.0 580.4,901.4 582.0,903.5 583.6,905.5 585.3,907.0 586.9,909.1 588.5,911.7 590.2,912.7 591.8,912.6 593.4,913.3 595.1,915.0 596.7,915.8 598.3,917.2 600.0,916.9 601.6,919.5 603.2,920.1 604.9,921.2 606.5,920.4 608.1,922.5 609.8,922.6 611.4,924.6 613.0,925.3 614.7,924.4 616.3,925.3 617.9,925.9 619.6,927.0 621.2,928.0 622.8,928.7 624.4,929.8 626.1,930.0 627.7,929.5 629.3,931.0 631.0,932.4 632.6,932.3 634.2,933.4 635.9,934.0 637.5,933.9 639.1,934.9 640.8,935.8 642.4,934.5 644.0,934.9 645.7,936.4 647.3,936.1 648.9,937.8 650.6,938.0 652.2,937.6 653.8,938.8 655.5,938.9 657.1,941.7 658.7,940.2 660.4,941.1 662.0,941.3 663.6,942.7 665.2,942.6 666.9,942.1 668.5,942.6 670.1,942.8 671.8,943.2 673.4,943.4 675.0,944.3 676.7,945.0 678.3,945.6 679.9,945.9 681.6,946.6 683.2,947.0 684.8,946.7 686.5,948.5 688.1,948.2 689.7,948.2 691.4,947.7 693.0,947.6 694.6,948.4 696.3,949.0 697.9,949.6 699.5,948.8 701.2,949.4 702.8,950.5 704.4,950.4 706.0,950.4 707.7,950.3 709.3,951.4 710.9,950.5 712.6,950.9 714.2,952.2 715.8,952.3 717.5,953.1 719.1,953.3 720.7,952.7 722.4,952.2 724.0,952.4 725.6,953.4 727.3,954.0 728.9,954.4 730.5,953.9 732.2,954.7 733.8,954.1 735.4,954.9 737.1,954.8 738.7,955.5 740.3,954.0 742.0,954.8 743.6,955.6 745.2,956.4 746.8,955.7 748.5,955.7 750.1,957.1 751.7,956.5 753.4,955.3 755.0,956.7 756.6,957.2 758.3,956.7 759.9,956.0 761.5,957.7 763.2,957.8 764.8,957.8 766.4,957.7 768.1,957.1 769.7,957.8 771.3,959.6 773.0,958.0 774.6,958.1 776.2,958.1 777.9,958.4 779.5,958.8 781.1,958.5 782.8,959.3 784.4,960.1 786.0,959.3 787.6,959.9 789.3,958.2 790.9,959.4 792.5,958.4 794.2,960.4 795.8,960.4 797.4,959.4 799.1,960.9 800.7,960.3 802.3,961.2 804.0,959.8 805.6,961.2 L805.6,965.5 Z" stroke="#c84c32" stroke-dasharray="0 1.38 708.33 99999"/><path d="M281.4,970.3 L281.4,968.8 283.1,969.8 284.7,968.2 286.3,967.7 288.0,968.2 289.6,968.9 291.2,967.8 292.8,967.3 294.5,967.3 296.1,966.9 297.7,966.3 299.4,967.2 301.0,967.4 302.6,967.5 304.3,966.9 305.9,966.8 307.5,966.8 309.2,966.0 310.8,964.7 312.4,966.3 314.1,965.8 315.7,965.4 317.3,965.6 319.0,963.9 320.6,964.3 322.2,963.4 323.9,964.4 325.5,962.5 327.1,962.4 328.8,962.7 330.4,960.5 332.0,959.6 333.6,959.0 335.3,957.6 336.9,956.7 338.5,952.9 340.2,950.1 341.8,944.1 343.4,935.9 345.1,925.8 346.7,918.0 348.3,918.7 350.0,924.5 351.6,930.6 353.2,937.0 354.9,939.5 356.5,942.3 358.1,944.3 359.8,944.5 361.4,946.3 363.0,948.1 364.7,948.2 366.3,949.6 367.9,950.4 369.6,950.5 371.2,951.0 372.8,950.0 374.4,951.0 376.1,953.6 377.7,952.4 379.3,953.2 381.0,953.1 382.6,953.3 384.2,953.7 385.9,953.7 387.5,954.8 389.1,953.7 390.8,955.0 392.4,954.3 394.0,955.5 395.7,955.3 397.3,956.5 398.9,955.4 400.6,956.2 402.2,956.9 403.8,956.6 405.5,956.7 407.1,958.3 408.7,957.9 410.4,958.3 412.0,957.3 413.6,957.9 415.2,958.6 416.9,958.8 418.5,958.5 420.1,960.2 421.8,958.9 423.4,958.0 425.0,960.0 426.7,960.0 428.3,960.1 429.9,959.2 431.6,960.1 433.2,958.5 434.8,960.0 436.5,960.3 438.1,960.8 439.7,959.7 441.4,959.5 443.0,960.2 444.6,959.6 446.3,959.7 447.9,960.3 449.5,960.6 451.2,961.0 452.8,960.6 454.4,961.0 456.0,959.8 457.7,960.4 459.3,961.0 460.9,961.2 462.6,960.7 464.2,960.3 465.8,960.8 467.5,960.3 469.1,961.3 470.7,960.8 472.4,960.6 474.0,960.9 475.6,960.7 477.3,960.3 478.9,960.9 480.5,960.3 482.2,961.2 483.8,960.5 485.4,961.1 487.1,961.1 488.7,960.4 490.3,959.9 492.0,960.8 493.6,960.6 495.2,959.7 496.8,961.1 498.5,959.9 500.1,961.2 501.7,961.6 503.4,960.1 505.0,960.4 506.6,960.5 508.3,961.7 509.9,959.8 511.5,960.3 513.2,960.7 514.8,960.0 516.4,960.6 518.1,960.3 519.7,960.2 521.3,958.9 523.0,959.2 524.6,957.4 526.2,956.5 527.9,951.6 529.5,941.2 531.1,934.7 532.8,927.6 534.4,926.5 536.0,924.0 537.6,924.1 539.3,921.9 540.9,920.8 542.5,920.6 544.2,920.1 545.8,919.6 547.4,917.7 549.1,915.5 550.7,915.7 552.3,914.3 554.0,910.1 555.6,908.9 557.2,905.5 558.9,903.1 560.5,900.6 562.1,898.9 563.8,897.3 565.4,897.6 567.0,896.8 568.7,897.5 570.3,897.5 571.9,900.6 573.6,902.7 575.2,906.3 576.8,907.4 578.4,908.6 580.1,911.5 581.7,912.7 583.3,915.0 585.0,916.5 586.6,916.7 588.2,918.6 589.9,919.9 591.5,920.1 593.1,921.1 594.8,920.9 596.4,921.8 598.0,924.0 599.7,923.4 601.3,925.3 602.9,925.0 604.6,925.4 606.2,926.7 607.8,927.4 609.5,927.2 611.1,928.5 612.7,929.7 614.4,928.5 616.0,929.6 617.6,930.4 619.2,931.1 620.9,931.2 622.5,932.4 624.1,932.5 625.8,933.4 627.4,934.6 629.0,934.0 630.7,935.1 632.3,936.3 633.9,936.6 635.6,938.4 637.2,938.4 638.8,938.8 640.5,937.9 642.1,938.4 643.7,938.5 645.4,939.5 647.0,939.1 648.6,941.0 650.3,941.7 651.9,942.2 653.5,942.0 655.2,942.9 656.8,943.6 658.4,943.7 660.0,943.7 661.7,945.1 663.3,944.7 664.9,945.1 666.6,944.4 668.2,945.8 669.8,947.1 671.5,946.5 673.1,946.9 674.7,948.2 676.4,949.7 678.0,947.6 679.6,948.6 681.3,949.3 682.9,949.3 684.5,948.7 686.2,948.7 687.8,950.5 689.4,949.5 691.1,950.8 692.7,951.1 694.3,951.5 696.0,951.8 697.6,952.1 699.2,952.8 700.8,952.6 702.5,953.6 704.1,952.8 705.7,953.9 707.4,953.4 709.0,954.1 710.6,955.5 712.3,953.8 713.9,954.6 715.5,955.1 717.2,955.5 718.8,954.4 720.4,955.9 722.1,955.4 723.7,956.1 725.3,957.3 727.0,956.2 728.6,957.9 730.2,956.8 731.9,957.1 733.5,957.4 735.1,958.2 736.8,957.0 738.4,957.0 740.0,958.9 741.6,958.8 743.3,957.7 744.9,959.2 746.5,958.5 748.2,959.9 749.8,959.8 751.4,959.4 753.1,959.5 754.7,960.9 756.3,960.8 758.0,959.9 759.6,959.6 761.2,960.2 762.9,960.5 764.5,960.5 766.1,961.8 767.8,960.9 769.4,960.7 771.0,961.0 772.7,962.3 774.3,962.3 775.9,961.0 777.6,962.8 779.2,962.7 780.8,961.1 782.4,962.8 784.1,962.8 785.7,962.0 787.3,962.1 789.0,962.8 790.6,963.7 792.2,963.2 793.9,962.9 795.5,963.7 797.1,963.8 798.8,962.4 800.4,963.0 L800.4,970.3 Z" stroke="#c54e34" stroke-dasharray="0 1.49 678.37 99999"/><path d="M276.2,975.1 L276.2,973.1 277.9,972.9 279.5,974.0 281.1,973.0 282.8,972.4 284.4,972.6 286.0,973.7 287.6,973.8 289.3,973.2 290.9,972.2 292.5,972.5 294.2,972.1 295.8,972.9 297.4,971.4 299.1,972.2 300.7,970.8 302.3,971.3 304.0,973.0 305.6,971.0 307.2,971.2 308.9,970.9 310.5,970.1 312.1,969.0 313.8,968.8 315.4,968.1 317.0,968.6 318.7,969.4 320.3,968.1 321.9,967.8 323.6,967.0 325.2,964.1 326.8,964.5 328.4,964.6 330.1,961.9 331.7,961.1 333.3,959.3 335.0,954.0 336.6,949.5 338.2,941.1 339.9,929.4 341.5,923.0 343.1,923.0 344.8,929.7 346.4,937.0 348.0,941.5 349.7,944.8 351.3,947.3 352.9,950.2 354.6,950.0 356.2,952.2 357.8,952.3 359.5,953.1 361.1,954.3 362.7,954.1 364.4,955.5 366.0,956.1 367.6,956.9 369.2,957.6 370.9,957.3 372.5,958.6 374.1,957.8 375.8,958.2 377.4,957.1 379.0,959.3 380.7,958.1 382.3,958.9 383.9,959.2 385.6,960.1 387.2,960.5 388.8,960.5 390.5,960.5 392.1,960.4 393.7,961.3 395.4,960.2 397.0,960.3 398.6,963.3 400.3,961.8 401.9,962.2 403.5,962.9 405.2,964.2 406.8,963.8 408.4,963.0 410.0,962.6 411.7,962.9 413.3,963.0 414.9,963.7 416.6,963.0 418.2,963.5 419.8,963.2 421.5,964.2 423.1,964.7 424.7,965.3 426.4,963.4 428.0,965.0 429.6,965.4 431.3,966.2 432.9,964.5 434.5,965.9 436.2,965.0 437.8,965.0 439.4,964.3 441.1,965.8 442.7,966.7 444.3,964.9 446.0,965.3 447.6,966.0 449.2,965.6 450.8,964.4 452.5,965.6 454.1,966.2 455.7,965.8 457.4,965.4 459.0,965.6 460.6,965.6 462.3,965.6 463.9,966.6 465.5,965.4 467.2,965.2 468.8,965.4 470.4,965.9 472.1,965.9 473.7,965.7 475.3,965.7 477.0,966.8 478.6,965.8 480.2,964.9 481.9,965.9 483.5,966.0 485.1,965.2 486.8,965.5 488.4,966.0 490.0,965.3 491.6,964.3 493.3,964.1 494.9,965.2 496.5,965.3 498.2,964.4 499.8,964.8 501.4,964.7 503.1,965.0 504.7,965.8 506.3,965.8 508.0,964.9 509.6,965.5 511.2,964.2 512.9,964.0 514.5,963.6 516.1,964.3 517.8,962.7 519.4,962.2 521.0,960.3 522.7,954.6 524.3,946.5 525.9,939.1 527.6,930.5 529.2,928.1 530.8,925.9 532.4,925.8 534.1,925.4 535.7,924.8 537.3,924.0 539.0,922.5 540.6,922.7 542.2,921.1 543.9,918.4 545.5,918.7 547.1,916.4 548.8,913.4 550.4,910.6 552.0,907.3 553.7,903.9 555.3,901.6 556.9,899.2 558.6,898.5 560.2,897.3 561.8,897.7 563.5,897.8 565.1,898.8 566.7,901.1 568.4,905.3 570.0,907.3 571.6,907.8 573.2,912.7 574.9,913.4 576.5,916.1 578.1,917.1 579.8,918.8 581.4,919.6 583.0,921.4 584.7,921.0 586.3,921.2 587.9,925.1 589.6,924.8 591.2,926.1 592.8,925.7 594.5,925.6 596.1,926.4 597.7,927.2 599.4,928.6 601.0,929.8 602.6,929.4 604.3,931.2 605.9,932.0 607.5,932.1 609.2,933.6 610.8,933.6 612.4,934.7 614.0,934.7 615.7,934.7 617.3,936.3 618.9,936.3 620.6,936.5 622.2,938.3 623.8,938.4 625.5,939.2 627.1,938.3 628.7,940.4 630.4,940.5 632.0,942.1 633.6,942.3 635.3,941.8 636.9,942.9 638.5,942.7 640.2,943.7 641.8,942.5 643.4,944.9 645.1,944.6 646.7,946.1 648.3,946.4 650.0,947.6 651.6,945.3 653.2,948.9 654.8,947.9 656.5,948.7 658.1,948.3 659.7,949.6 661.4,948.4 663.0,949.3 664.6,950.1 666.3,950.6 667.9,950.6 669.5,951.4 671.2,951.0 672.8,951.8 674.4,952.8 676.1,952.9 677.7,953.4 679.3,953.1 681.0,954.4 682.6,954.5 684.2,955.7 685.9,954.8 687.5,955.4 689.1,956.3 690.8,955.0 692.4,956.5 694.0,957.6 695.6,956.3 697.3,957.5 698.9,959.7 700.5,957.8 702.2,958.3 703.8,958.5 705.4,959.0 707.1,959.6 708.7,959.3 710.3,960.7 712.0,960.0 713.6,959.6 715.2,959.7 716.9,960.9 718.5,959.6 720.1,960.9 721.8,961.6 723.4,961.4 725.0,962.2 726.7,961.4 728.3,962.8 729.9,962.9 731.6,963.4 733.2,963.3 734.8,963.2 736.4,962.0 738.1,963.2 739.7,962.8 741.3,963.7 743.0,963.3 744.6,964.8 746.2,965.0 747.9,963.2 749.5,964.4 751.1,965.8 752.8,964.6 754.4,965.3 756.0,965.5 757.7,964.9 759.3,966.4 760.9,964.9 762.6,965.7 764.2,966.3 765.8,967.0 767.5,965.1 769.1,966.6 770.7,967.4 772.4,966.8 774.0,966.5 775.6,966.5 777.2,966.0 778.9,966.8 780.5,967.3 782.1,965.9 783.8,966.1 785.4,968.3 787.0,967.0 788.7,968.2 790.3,966.9 791.9,968.6 793.6,967.9 795.2,967.1 L795.2,975.1 Z" stroke="#c25035" stroke-dasharray="0 2.06 695.46 99999"/><path d="M271.0,979.9 L271.0,978.0 272.7,977.4 274.3,978.5 275.9,978.8 277.6,978.6 279.2,977.3 280.8,978.0 282.4,976.5 284.1,977.5 285.7,976.3 287.3,976.8 289.0,977.6 290.6,976.7 292.2,976.2 293.9,976.0 295.5,976.2 297.1,975.1 298.8,975.0 300.4,974.8 302.0,975.6 303.7,976.2 305.3,974.2 306.9,974.8 308.6,974.2 310.2,973.6 311.8,972.8 313.5,973.8 315.1,972.2 316.7,970.6 318.4,971.8 320.0,970.3 321.6,968.3 323.2,967.6 324.9,966.4 326.5,964.8 328.1,963.3 329.8,958.4 331.4,953.2 333.0,944.0 334.7,933.8 336.3,925.0 337.9,925.7 339.6,931.0 341.2,939.2 342.8,944.2 344.5,947.6 346.1,950.3 347.7,953.4 349.4,954.4 351.0,954.9 352.6,956.1 354.3,955.7 355.9,957.2 357.5,958.8 359.2,958.3 360.8,958.5 362.4,959.3 364.0,959.8 365.7,961.5 367.3,961.0 368.9,961.0 370.6,962.0 372.2,962.3 373.8,962.1 375.5,963.2 377.1,963.7 378.7,963.5 380.4,963.7 382.0,963.4 383.6,964.3 385.3,965.3 386.9,964.5 388.5,965.5 390.2,964.8 391.8,965.9 393.4,965.4 395.1,965.8 396.7,966.3 398.3,967.2 400.0,966.9 401.6,965.9 403.2,966.9 404.8,966.4 406.5,967.3 408.1,967.5 409.7,968.4 411.4,967.6 413.0,968.6 414.6,968.7 416.3,967.7 417.9,969.1 419.5,967.1 421.2,968.7 422.8,969.2 424.4,968.1 426.1,969.7 427.7,969.1 429.3,969.3 431.0,968.8 432.6,968.4 434.2,969.4 435.9,970.5 437.5,970.6 439.1,970.1 440.8,969.4 442.4,969.9 444.0,969.8 445.6,970.3 447.3,969.2 448.9,970.9 450.5,968.9 452.2,969.4 453.8,969.8 455.4,970.3 457.1,970.5 458.7,970.3 460.3,970.7 462.0,970.6 463.6,970.8 465.2,969.8 466.9,970.2 468.5,970.0 470.1,970.8 471.8,971.1 473.4,970.8 475.0,970.1 476.7,971.0 478.3,969.8 479.9,970.7 481.6,970.4 483.2,969.9 484.8,970.8 486.4,971.3 488.1,969.2 489.7,970.0 491.3,970.3 493.0,968.7 494.6,968.3 496.2,969.7 497.9,969.4 499.5,967.8 501.1,969.9 502.8,968.7 504.4,968.8 506.0,969.7 507.7,969.9 509.3,969.7 510.9,968.9 512.6,968.4 514.2,965.9 515.8,965.7 517.5,959.1 519.1,950.2 520.7,939.5 522.4,933.6 524.0,931.8 525.6,929.7 527.2,928.5 528.9,927.2 530.5,926.5 532.1,925.4 533.8,924.8 535.4,923.3 537.0,922.4 538.7,920.3 540.3,918.9 541.9,917.7 543.6,914.7 545.2,912.3 546.8,908.8 548.5,905.2 550.1,902.7 551.7,900.5 553.4,899.2 555.0,897.0 556.6,897.9 558.3,899.1 559.9,900.3 561.5,901.8 563.2,903.8 564.8,907.1 566.4,910.8 568.0,912.5 569.7,916.4 571.3,916.8 572.9,919.2 574.6,920.4 576.2,922.7 577.8,922.8 579.5,925.0 581.1,926.2 582.7,925.1 584.4,927.7 586.0,927.2 587.6,929.0 589.3,929.5 590.9,930.2 592.5,930.2 594.2,931.4 595.8,933.1 597.4,933.6 599.1,933.1 600.7,933.8 602.3,935.7 604.0,935.5 605.6,936.8 607.2,936.8 608.8,938.8 610.5,938.3 612.1,939.8 613.7,941.0 615.4,940.4 617.0,941.0 618.6,943.0 620.3,944.1 621.9,943.3 623.5,943.5 625.2,944.7 626.8,944.9 628.4,945.8 630.1,946.4 631.7,946.4 633.3,946.4 635.0,947.4 636.6,948.4 638.2,949.2 639.9,949.1 641.5,951.2 643.1,950.2 644.8,950.8 646.4,951.2 648.0,951.9 649.6,952.3 651.3,953.6 652.9,952.6 654.5,953.7 656.2,954.0 657.8,954.7 659.4,955.8 661.1,954.8 662.7,955.8 664.3,956.2 666.0,956.2 667.6,955.7 669.2,957.3 670.9,957.3 672.5,956.8 674.1,958.6 675.8,957.9 677.4,959.1 679.0,958.8 680.7,959.7 682.3,959.5 683.9,960.9 685.6,961.1 687.2,961.5 688.8,961.6 690.4,961.0 692.1,961.8 693.7,961.9 695.3,962.8 697.0,962.9 698.6,963.0 700.2,963.3 701.9,964.2 703.5,964.3 705.1,965.0 706.8,964.1 708.4,964.2 710.0,963.9 711.7,967.4 713.3,965.1 714.9,965.5 716.6,964.4 718.2,966.6 719.8,967.1 721.5,966.6 723.1,967.9 724.7,968.1 726.4,967.0 728.0,968.7 729.6,968.6 731.2,967.3 732.9,967.9 734.5,969.3 736.1,967.7 737.8,968.8 739.4,969.2 741.0,969.1 742.7,969.4 744.3,968.8 745.9,969.3 747.6,970.4 749.2,970.4 750.8,969.7 752.5,970.7 754.1,971.1 755.7,972.2 757.4,970.2 759.0,970.9 760.6,971.2 762.3,971.8 763.9,971.7 765.5,971.5 767.2,972.3 768.8,971.6 770.4,970.7 772.0,972.3 773.7,972.0 775.3,971.1 776.9,972.2 778.6,971.4 780.2,971.8 781.8,972.0 783.5,972.8 785.1,973.1 786.7,972.0 788.4,972.9 790.0,973.2 L790.0,979.9 Z" stroke="#be5137" stroke-dasharray="0 1.91 695.04 99999"/><path d="M265.8,984.8 L265.8,984.4 267.5,982.9 269.1,981.1 270.7,982.2 272.4,981.3 274.0,982.2 275.6,983.1 277.2,981.9 278.9,980.7 280.5,981.6 282.1,981.7 283.8,981.5 285.4,981.9 287.0,981.2 288.7,980.6 290.3,979.9 291.9,979.7 293.6,980.7 295.2,981.0 296.8,979.6 298.5,979.6 300.1,978.2 301.7,979.0 303.4,977.6 305.0,977.8 306.6,976.3 308.3,976.5 309.9,977.3 311.5,976.9 313.2,974.4 314.8,974.5 316.4,972.2 318.0,971.6 319.7,968.9 321.3,968.0 322.9,965.5 324.6,962.0 326.2,953.7 327.8,944.6 329.5,932.6 331.1,920.4 332.7,923.2 334.4,931.2 336.0,938.2 337.6,945.8 339.3,949.4 340.9,951.4 342.5,954.9 344.2,955.7 345.8,956.9 347.4,957.9 349.1,959.6 350.7,960.6 352.3,960.4 354.0,960.6 355.6,962.2 357.2,961.6 358.8,961.9 360.5,962.9 362.1,962.9 363.7,963.3 365.4,963.6 367.0,964.6 368.6,965.0 370.3,965.3 371.9,965.1 373.5,966.6 375.2,965.6 376.8,967.5 378.4,965.9 380.1,967.1 381.7,966.0 383.3,967.9 385.0,967.9 386.6,969.7 388.2,969.1 389.9,969.0 391.5,969.1 393.1,969.2 394.8,969.8 396.4,970.2 398.0,969.7 399.6,971.6 401.3,971.1 402.9,970.5 404.5,971.2 406.2,970.6 407.8,972.0 409.4,972.0 411.1,971.5 412.7,970.9 414.3,973.1 416.0,973.5 417.6,973.3 419.2,973.5 420.9,972.6 422.5,972.3 424.1,973.1 425.8,973.0 427.4,972.9 429.0,973.1 430.7,973.3 432.3,973.4 433.9,972.9 435.6,974.5 437.2,974.2 438.8,973.7 440.4,972.2 442.1,974.6 443.7,973.6 445.3,974.6 447.0,974.3 448.6,974.8 450.2,973.1 451.9,974.1 453.5,974.7 455.1,973.7 456.8,974.9 458.4,974.2 460.0,975.3 461.7,974.6 463.3,974.2 464.9,974.2 466.6,975.0 468.2,974.9 469.8,975.5 471.5,975.8 473.1,974.5 474.7,973.6 476.4,974.0 478.0,973.9 479.6,974.3 481.2,974.2 482.9,974.2 484.5,973.1 486.1,974.3 487.8,973.3 489.4,975.0 491.0,974.7 492.7,974.0 494.3,974.9 495.9,972.8 497.6,973.6 499.2,973.5 500.8,974.0 502.5,973.3 504.1,974.0 505.7,972.5 507.4,972.1 509.0,972.3 510.6,969.5 512.3,963.5 513.9,952.9 515.5,940.4 517.2,933.9 518.8,930.0 520.4,929.1 522.0,927.8 523.7,927.0 525.3,926.9 526.9,925.4 528.6,923.7 530.2,923.0 531.8,922.3 533.5,920.7 535.1,916.2 536.7,916.4 538.4,913.5 540.0,909.9 541.6,906.5 543.3,902.3 544.9,900.1 546.5,896.9 548.2,895.4 549.8,894.5 551.4,894.6 553.1,895.7 554.7,897.1 556.3,900.3 558.0,902.9 559.6,905.7 561.2,908.6 562.8,912.3 564.5,914.5 566.1,916.5 567.7,917.4 569.4,919.8 571.0,921.2 572.6,922.0 574.3,923.7 575.9,925.4 577.5,925.1 579.2,927.2 580.8,927.3 582.4,928.8 584.1,929.5 585.7,930.0 587.3,932.0 589.0,933.5 590.6,933.2 592.2,934.3 593.9,935.2 595.5,935.9 597.1,937.7 598.8,937.5 600.4,938.5 602.0,938.8 603.6,939.8 605.3,940.8 606.9,940.8 608.5,941.3 610.2,942.7 611.8,943.9 613.4,944.5 615.1,944.0 616.7,946.5 618.3,946.1 620.0,946.6 621.6,947.1 623.2,949.3 624.9,948.5 626.5,950.7 628.1,950.2 629.8,951.1 631.4,952.4 633.0,950.5 634.7,952.5 636.3,953.8 637.9,954.1 639.6,954.0 641.2,953.9 642.8,954.9 644.4,956.2 646.1,954.9 647.7,956.2 649.3,955.8 651.0,956.5 652.6,957.6 654.2,957.4 655.9,958.8 657.5,958.5 659.1,960.7 660.8,961.2 662.4,961.2 664.0,960.5 665.7,961.2 667.3,962.2 668.9,962.5 670.6,962.9 672.2,962.8 673.8,962.6 675.5,963.0 677.1,964.1 678.7,964.4 680.4,964.3 682.0,965.8 683.6,965.4 685.2,965.4 686.9,965.8 688.5,966.7 690.1,967.3 691.8,967.6 693.4,966.4 695.0,967.6 696.7,968.7 698.3,969.6 699.9,968.5 701.6,967.8 703.2,969.3 704.8,969.9 706.5,969.1 708.1,970.1 709.7,970.2 711.4,970.2 713.0,970.9 714.6,970.4 716.3,970.6 717.9,971.4 719.5,972.0 721.2,971.6 722.8,973.7 724.4,972.5 726.0,972.8 727.7,972.2 729.3,973.6 730.9,972.4 732.6,973.4 734.2,973.2 735.8,972.8 737.5,973.7 739.1,974.4 740.7,974.0 742.4,974.2 744.0,973.3 745.6,974.7 747.3,974.3 748.9,974.2 750.5,974.5 752.2,975.5 753.8,976.2 755.4,974.9 757.1,974.6 758.7,975.5 760.3,975.3 762.0,976.1 763.6,975.7 765.2,975.5 766.8,976.5 768.5,975.8 770.1,976.8 771.7,977.5 773.4,976.7 775.0,977.2 776.6,976.9 778.3,976.9 779.9,977.5 781.5,977.3 783.2,977.9 784.8,977.2 L784.8,984.8 Z" stroke="#bb5338" stroke-dasharray="0 0.40 717.24 99999"/><path d="M260.6,989.6 L260.6,988.2 262.3,988.4 263.9,986.7 265.5,988.5 267.2,987.3 268.8,987.1 270.4,986.3 272.0,986.9 273.7,986.7 275.3,987.6 276.9,985.6 278.6,986.7 280.2,985.8 281.8,986.1 283.5,984.6 285.1,985.7 286.7,985.8 288.4,983.7 290.0,984.7 291.6,983.8 293.3,983.4 294.9,984.3 296.5,982.2 298.2,983.2 299.8,982.0 301.4,981.3 303.1,981.1 304.7,981.0 306.3,979.1 308.0,979.5 309.6,979.0 311.2,976.3 312.8,974.9 314.5,975.4 316.1,972.1 317.7,968.8 319.4,966.1 321.0,957.7 322.6,946.5 324.3,935.1 325.9,922.9 327.5,924.1 329.2,932.7 330.8,941.6 332.4,947.5 334.1,952.9 335.7,954.2 337.3,957.0 339.0,959.9 340.6,960.9 342.2,961.7 343.9,961.7 345.5,962.7 347.1,964.4 348.8,964.5 350.4,965.5 352.0,965.5 353.6,966.5 355.3,965.4 356.9,967.0 358.5,967.9 360.2,968.9 361.8,969.5 363.4,968.5 365.1,968.8 366.7,968.7 368.3,970.8 370.0,970.0 371.6,971.6 373.2,970.7 374.9,971.1 376.5,971.6 378.1,972.3 379.8,972.7 381.4,972.9 383.0,974.3 384.7,972.8 386.3,974.3 387.9,973.7 389.6,974.1 391.2,973.8 392.8,974.4 394.4,974.7 396.1,974.8 397.7,974.5 399.3,975.6 401.0,976.1 402.6,975.7 404.2,976.0 405.9,975.6 407.5,976.0 409.1,976.4 410.8,975.9 412.4,976.6 414.0,976.5 415.7,977.3 417.3,976.2 418.9,976.9 420.6,978.1 422.2,978.2 423.8,976.5 425.5,977.7 427.1,976.8 428.7,976.5 430.4,978.0 432.0,978.0 433.6,977.7 435.2,978.9 436.9,979.6 438.5,977.3 440.1,979.1 441.8,978.7 443.4,977.7 445.0,978.6 446.7,978.1 448.3,978.6 449.9,979.6 451.6,979.3 453.2,978.8 454.8,979.5 456.5,978.2 458.1,978.6 459.7,979.9 461.4,978.6 463.0,979.2 464.6,979.1 466.3,978.4 467.9,980.1 469.5,979.5 471.2,978.7 472.8,979.8 474.4,977.9 476.0,980.9 477.7,978.0 479.3,978.2 480.9,979.1 482.6,978.6 484.2,979.1 485.8,977.3 487.5,978.5 489.1,978.2 490.7,978.3 492.4,979.3 494.0,979.6 495.6,978.2 497.3,977.3 498.9,977.7 500.5,978.1 502.2,977.2 503.8,976.5 505.4,972.1 507.1,965.1 508.7,953.1 510.3,939.5 512.0,933.5 513.6,929.9 515.2,927.5 516.8,926.5 518.5,925.5 520.1,923.7 521.7,922.5 523.4,922.7 525.0,920.6 526.6,918.9 528.3,917.9 529.9,914.1 531.5,911.7 533.2,908.3 534.8,905.4 536.4,901.3 538.1,896.8 539.7,893.3 541.3,890.7 543.0,888.0 544.6,887.7 546.2,886.5 547.9,887.6 549.5,890.2 551.1,893.9 552.8,896.4 554.4,899.5 556.0,903.7 557.6,906.0 559.3,909.4 560.9,911.7 562.5,915.8 564.2,917.2 565.8,918.5 567.4,920.0 569.1,921.6 570.7,923.1 572.3,925.5 574.0,924.5 575.6,925.8 577.2,927.7 578.9,928.5 580.5,929.9 582.1,929.9 583.8,931.7 585.4,931.8 587.0,933.8 588.7,935.1 590.3,936.5 591.9,936.1 593.6,937.7 595.2,937.8 596.8,938.3 598.4,939.7 600.1,939.8 601.7,941.8 603.3,942.9 605.0,943.0 606.6,944.1 608.2,943.8 609.9,946.7 611.5,947.1 613.1,946.2 614.8,948.3 616.4,948.7 618.0,949.6 619.7,950.0 621.3,949.3 622.9,950.6 624.6,952.0 626.2,951.4 627.8,953.9 629.5,953.8 631.1,953.3 632.7,956.0 634.4,956.4 636.0,957.0 637.6,957.2 639.2,957.0 640.9,957.1 642.5,957.9 644.1,958.3 645.8,959.5 647.4,960.6 649.0,961.4 650.7,961.3 652.3,962.4 653.9,963.1 655.6,962.4 657.2,963.8 658.8,963.9 660.5,962.8 662.1,964.3 663.7,964.8 665.4,965.7 667.0,966.6 668.6,966.0 670.3,967.1 671.9,967.3 673.5,968.0 675.2,967.8 676.8,968.2 678.4,970.2 680.0,969.8 681.7,969.6 683.3,968.7 684.9,970.9 686.6,970.3 688.2,970.2 689.8,970.5 691.5,971.9 693.1,971.3 694.7,972.1 696.4,972.5 698.0,973.2 699.6,974.3 701.3,973.8 702.9,974.8 704.5,973.4 706.2,974.0 707.8,973.4 709.4,975.8 711.1,976.1 712.7,975.5 714.3,975.5 716.0,975.3 717.6,976.9 719.2,977.6 720.8,977.3 722.5,974.6 724.1,977.7 725.7,977.7 727.4,976.9 729.0,977.3 730.6,978.2 732.3,980.1 733.9,977.9 735.5,978.9 737.2,977.8 738.8,978.8 740.4,978.7 742.1,980.5 743.7,979.3 745.3,979.6 747.0,980.0 748.6,979.6 750.2,979.7 751.9,980.5 753.5,979.9 755.1,979.5 756.8,980.3 758.4,980.9 760.0,980.7 761.6,981.2 763.3,981.0 764.9,980.8 766.5,981.6 768.2,981.1 769.8,980.6 771.4,981.9 773.1,982.4 774.7,982.3 776.3,981.7 778.0,982.0 779.6,982.7 L779.6,989.6 Z" stroke="#b8553a" stroke-dasharray="0 1.39 748.45 99999"/><path d="M255.4,994.4 L255.4,994.1 257.1,991.9 258.7,991.8 260.3,991.7 262.0,992.3 263.6,993.1 265.2,991.8 266.8,991.9 268.5,990.8 270.1,990.0 271.7,990.2 273.4,990.8 275.0,989.8 276.6,990.5 278.3,989.4 279.9,989.6 281.5,989.7 283.2,988.8 284.8,988.6 286.4,987.5 288.1,988.1 289.7,987.7 291.3,986.3 293.0,986.5 294.6,986.1 296.2,984.4 297.9,986.7 299.5,985.5 301.1,984.1 302.8,982.1 304.4,981.0 306.0,980.6 307.6,979.8 309.3,978.6 310.9,974.9 312.5,971.7 314.2,967.4 315.8,958.9 317.4,947.6 319.1,935.6 320.7,923.2 322.3,926.1 324.0,932.8 325.6,942.9 327.2,949.0 328.9,952.5 330.5,957.5 332.1,958.6 333.8,960.5 335.4,962.0 337.0,964.3 338.7,966.0 340.3,965.9 341.9,966.3 343.6,967.8 345.2,968.7 346.8,969.5 348.4,967.3 350.1,971.2 351.7,969.8 353.3,971.2 355.0,970.5 356.6,970.9 358.2,972.9 359.9,972.7 361.5,973.3 363.1,973.1 364.8,973.9 366.4,973.7 368.0,974.2 369.7,975.3 371.3,974.5 372.9,975.3 374.6,975.5 376.2,976.5 377.8,976.0 379.5,977.1 381.1,976.2 382.7,977.1 384.4,979.2 386.0,977.5 387.6,977.8 389.2,978.4 390.9,978.1 392.5,979.9 394.1,978.9 395.8,979.8 397.4,979.4 399.0,980.2 400.7,980.8 402.3,980.4 403.9,981.5 405.6,980.5 407.2,980.2 408.8,980.0 410.5,980.8 412.1,981.5 413.7,981.5 415.4,981.6 417.0,980.8 418.6,982.4 420.3,982.2 421.9,983.4 423.5,981.3 425.2,983.0 426.8,983.2 428.4,983.7 430.0,982.3 431.7,982.8 433.3,982.9 434.9,983.7 436.6,983.2 438.2,982.1 439.8,983.9 441.5,982.9 443.1,982.2 444.7,983.8 446.4,982.7 448.0,982.7 449.6,983.7 451.3,983.3 452.9,982.8 454.5,982.7 456.2,983.7 457.8,984.2 459.4,983.2 461.1,983.2 462.7,982.8 464.3,982.3 466.0,982.5 467.6,982.6 469.2,983.4 470.8,982.4 472.5,982.4 474.1,983.4 475.7,983.4 477.4,984.0 479.0,983.4 480.6,983.0 482.3,983.1 483.9,982.5 485.5,982.9 487.2,983.4 488.8,982.0 490.4,983.9 492.1,982.0 493.7,982.6 495.3,982.2 497.0,982.3 498.6,980.3 500.2,975.4 501.9,968.1 503.5,953.1 505.1,938.7 506.8,931.6 508.4,925.5 510.0,922.7 511.6,921.9 513.3,920.4 514.9,919.8 516.5,916.6 518.2,915.9 519.8,914.5 521.4,913.0 523.1,909.7 524.7,907.6 526.3,904.1 528.0,900.4 529.6,897.4 531.2,891.5 532.9,888.7 534.5,884.6 536.1,879.6 537.8,875.8 539.4,875.3 541.0,875.1 542.7,877.0 544.3,878.8 545.9,882.3 547.6,888.2 549.2,891.6 550.8,895.6 552.4,898.6 554.1,901.9 555.7,906.2 557.3,907.5 559.0,910.8 560.6,913.0 562.2,914.0 563.9,917.1 565.5,918.5 567.1,920.4 568.8,921.5 570.4,923.7 572.0,922.0 573.7,924.4 575.3,924.8 576.9,928.3 578.6,929.7 580.2,928.7 581.8,931.0 583.5,932.2 585.1,933.4 586.7,935.1 588.4,935.7 590.0,934.9 591.6,938.1 593.2,937.4 594.9,939.1 596.5,939.8 598.1,940.6 599.8,942.9 601.4,942.6 603.0,943.8 604.7,943.2 606.3,945.6 607.9,946.1 609.6,947.5 611.2,948.2 612.8,949.1 614.5,950.1 616.1,950.2 617.7,951.5 619.4,952.1 621.0,952.7 622.6,954.4 624.3,954.9 625.9,955.2 627.5,955.8 629.2,955.7 630.8,958.9 632.4,958.7 634.0,959.5 635.7,959.5 637.3,960.3 638.9,961.9 640.6,962.0 642.2,962.6 643.8,963.8 645.5,963.9 647.1,964.2 648.7,963.7 650.4,964.9 652.0,965.8 653.6,966.5 655.3,966.7 656.9,966.2 658.5,966.7 660.2,968.6 661.8,968.8 663.4,968.9 665.1,969.3 666.7,970.6 668.3,970.0 670.0,970.3 671.6,970.7 673.2,970.5 674.8,971.5 676.5,972.6 678.1,973.9 679.7,973.4 681.4,974.2 683.0,973.4 684.6,974.5 686.3,975.7 687.9,975.5 689.5,974.6 691.2,976.4 692.8,976.1 694.4,975.9 696.1,976.7 697.7,978.1 699.3,978.5 701.0,978.4 702.6,977.9 704.2,978.3 705.9,979.3 707.5,979.0 709.1,979.2 710.8,980.7 712.4,980.7 714.0,980.1 715.6,979.7 717.3,980.8 718.9,980.8 720.5,980.2 722.2,981.9 723.8,981.6 725.4,982.0 727.1,980.8 728.7,982.6 730.3,983.0 732.0,982.0 733.6,981.0 735.2,982.5 736.9,982.4 738.5,982.6 740.1,983.3 741.8,983.9 743.4,982.8 745.0,983.8 746.7,985.1 748.3,984.8 749.9,984.7 751.6,985.4 753.2,985.0 754.8,985.4 756.4,985.6 758.1,986.4 759.7,984.6 761.3,986.5 763.0,986.7 764.6,985.6 766.2,986.3 767.9,986.4 769.5,985.2 771.1,987.0 772.8,987.5 774.4,987.3 L774.4,994.4 Z" stroke="#b4553b" stroke-dasharray="0 0.36 771.63 99999"/><path d="M250.2,999.2 L250.2,997.6 251.9,996.8 253.5,996.5 255.1,996.0 256.8,996.9 258.4,996.2 260.0,997.0 261.6,996.5 263.3,995.9 264.9,996.6 266.5,994.5 268.2,995.7 269.8,995.8 271.4,995.6 273.1,994.6 274.7,993.3 276.3,995.1 278.0,993.8 279.6,994.1 281.2,992.7 282.9,993.2 284.5,993.9 286.1,992.8 287.8,991.8 289.4,991.3 291.0,989.6 292.7,989.7 294.3,990.1 295.9,988.1 297.6,987.9 299.2,985.5 300.8,986.0 302.4,984.8 304.1,982.4 305.7,979.1 307.3,977.2 309.0,971.0 310.6,964.5 312.2,953.5 313.9,939.1 315.5,927.7 317.1,929.8 318.8,936.7 320.4,947.4 322.0,955.6 323.7,958.3 325.3,962.0 326.9,964.7 328.6,965.6 330.2,969.3 331.8,969.2 333.5,969.2 335.1,970.7 336.7,970.9 338.4,972.2 340.0,973.9 341.6,974.5 343.2,974.1 344.9,975.7 346.5,974.3 348.1,976.4 349.8,977.5 351.4,976.9 353.0,976.8 354.7,977.7 356.3,978.1 357.9,978.7 359.6,980.0 361.2,979.0 362.8,979.0 364.5,980.5 366.1,979.9 367.7,981.7 369.4,980.7 371.0,981.9 372.6,980.9 374.3,982.7 375.9,982.8 377.5,982.6 379.2,982.6 380.8,983.1 382.4,982.7 384.0,983.4 385.7,983.8 387.3,982.8 388.9,983.4 390.6,984.1 392.2,984.3 393.8,985.9 395.5,985.7 397.1,983.7 398.7,986.3 400.4,984.8 402.0,985.4 403.6,986.1 405.3,984.3 406.9,986.3 408.5,985.3 410.2,986.9 411.8,986.4 413.4,986.5 415.1,986.7 416.7,986.2 418.3,986.8 420.0,988.0 421.6,987.1 423.2,988.5 424.8,986.5 426.5,986.9 428.1,987.0 429.7,987.8 431.4,987.4 433.0,989.3 434.6,988.3 436.3,987.8 437.9,989.5 439.5,987.9 441.2,988.3 442.8,987.9 444.4,988.5 446.1,987.2 447.7,988.2 449.3,987.3 451.0,987.6 452.6,989.0 454.2,989.6 455.9,988.4 457.5,988.0 459.1,987.9 460.8,988.5 462.4,986.7 464.0,988.2 465.6,987.1 467.3,989.2 468.9,987.7 470.5,988.1 472.2,987.3 473.8,986.3 475.4,988.3 477.1,988.2 478.7,987.9 480.3,988.0 482.0,987.8 483.6,987.7 485.2,988.0 486.9,987.6 488.5,987.6 490.1,986.4 491.8,987.0 493.4,984.3 495.0,979.8 496.7,969.7 498.3,951.9 499.9,936.6 501.6,924.1 503.2,919.5 504.8,917.9 506.4,915.0 508.1,913.1 509.7,913.1 511.3,910.0 513.0,909.0 514.6,906.8 516.2,903.0 517.9,900.6 519.5,897.9 521.1,894.3 522.8,890.7 524.4,883.7 526.0,878.6 527.7,873.3 529.3,867.7 530.9,864.4 532.6,861.5 534.2,859.5 535.8,859.3 537.5,859.8 539.1,863.9 540.7,867.1 542.4,873.4 544.0,877.9 545.6,883.4 547.2,889.5 548.9,892.6 550.5,896.3 552.1,899.8 553.8,900.7 555.4,905.2 557.0,906.8 558.7,908.8 560.3,911.4 561.9,913.8 563.6,915.2 565.2,915.1 566.8,918.2 568.5,919.0 570.1,920.6 571.7,923.0 573.4,923.1 575.0,924.7 576.6,927.3 578.3,928.5 579.9,929.4 581.5,929.7 583.2,932.2 584.8,934.3 586.4,933.1 588.0,936.2 589.7,937.1 591.3,938.3 592.9,940.3 594.6,939.2 596.2,940.6 597.8,941.6 599.5,943.2 601.1,942.3 602.7,946.4 604.4,946.4 606.0,947.7 607.6,950.0 609.3,949.9 610.9,950.5 612.5,951.4 614.2,952.4 615.8,953.1 617.4,953.8 619.1,955.0 620.7,954.8 622.3,956.5 624.0,956.3 625.6,957.1 627.2,958.7 628.8,960.2 630.5,960.1 632.1,960.2 633.7,963.3 635.4,962.7 637.0,961.6 638.6,964.0 640.3,965.1 641.9,965.8 643.5,966.3 645.2,966.9 646.8,968.1 648.4,967.7 650.1,968.4 651.7,969.9 653.3,968.7 655.0,969.4 656.6,971.0 658.2,971.4 659.9,971.5 661.5,972.3 663.1,972.4 664.8,972.6 666.4,972.7 668.0,973.6 669.6,974.9 671.3,975.4 672.9,976.7 674.5,976.0 676.2,975.5 677.8,976.6 679.4,977.9 681.1,977.6 682.7,978.5 684.3,978.6 686.0,979.5 687.6,978.3 689.2,981.3 690.9,980.9 692.5,980.1 694.1,982.4 695.8,981.6 697.4,982.5 699.0,981.7 700.7,982.3 702.3,982.7 703.9,982.9 705.6,983.4 707.2,982.2 708.8,984.0 710.4,984.8 712.1,984.3 713.7,985.7 715.3,985.7 717.0,984.5 718.6,985.3 720.2,985.8 721.9,985.2 723.5,986.8 725.1,987.7 726.8,986.0 728.4,987.1 730.0,985.5 731.7,988.4 733.3,987.5 734.9,988.1 736.6,987.8 738.2,988.2 739.8,988.6 741.5,987.5 743.1,988.0 744.7,988.7 746.4,988.6 748.0,989.0 749.6,990.6 751.2,990.2 752.9,989.5 754.5,989.8 756.1,988.9 757.8,990.7 759.4,990.5 761.0,990.5 762.7,990.5 764.3,989.9 765.9,991.5 767.6,990.4 769.2,990.9 L769.2,999.2 Z" stroke="#b0563c" stroke-dasharray="0 1.67 814.82 99999"/><path d="M245.0,1004.1 L245.0,1003.0 246.7,1002.7 248.3,1001.8 249.9,1000.4 251.6,1001.2 253.2,1000.9 254.8,1000.9 256.4,1001.8 258.1,1001.2 259.7,1001.7 261.3,999.9 263.0,1000.5 264.6,999.1 266.2,999.8 267.9,1000.5 269.5,999.6 271.1,998.3 272.8,998.9 274.4,998.3 276.0,999.1 277.7,997.9 279.3,996.8 280.9,997.0 282.6,996.3 284.2,995.8 285.8,996.0 287.5,994.8 289.1,994.2 290.7,993.9 292.4,991.4 294.0,990.6 295.6,989.7 297.2,989.2 298.9,988.5 300.5,984.6 302.1,982.2 303.8,976.2 305.4,969.6 307.0,959.0 308.7,946.1 310.3,933.0 311.9,934.6 313.6,942.4 315.2,951.3 316.8,960.0 318.5,963.5 320.1,966.3 321.7,968.6 323.4,972.3 325.0,972.4 326.6,973.1 328.3,974.4 329.9,976.3 331.5,975.9 333.2,977.0 334.8,976.9 336.4,978.9 338.0,978.9 339.7,979.6 341.3,979.6 342.9,981.6 344.6,981.1 346.2,982.4 347.8,982.1 349.5,982.8 351.1,982.8 352.7,982.6 354.4,983.3 356.0,983.6 357.6,984.0 359.3,984.7 360.9,985.4 362.5,985.1 364.2,986.8 365.8,985.8 367.4,986.6 369.1,987.0 370.7,986.8 372.3,987.1 374.0,988.1 375.6,987.7 377.2,987.6 378.8,988.6 380.5,987.9 382.1,989.6 383.7,989.5 385.4,988.6 387.0,989.5 388.6,989.9 390.3,989.4 391.9,989.4 393.5,990.1 395.2,990.0 396.8,990.4 398.4,991.0 400.1,990.6 401.7,991.1 403.3,992.5 405.0,991.6 406.6,991.0 408.2,991.5 409.9,991.6 411.5,992.2 413.1,992.9 414.8,992.6 416.4,993.0 418.0,993.2 419.6,991.9 421.3,992.7 422.9,993.2 424.5,992.2 426.2,992.0 427.8,993.6 429.4,992.2 431.1,993.6 432.7,991.1 434.3,992.6 436.0,994.2 437.6,992.1 439.2,993.6 440.9,992.6 442.5,991.8 444.1,992.3 445.8,994.0 447.4,992.9 449.0,993.4 450.7,992.8 452.3,993.2 453.9,993.0 455.6,991.9 457.2,993.3 458.8,992.1 460.4,993.5 462.1,993.0 463.7,993.8 465.3,992.1 467.0,992.7 468.6,993.7 470.2,992.6 471.9,993.0 473.5,993.0 475.1,993.0 476.8,992.2 478.4,993.0 480.0,991.8 481.7,992.0 483.3,991.7 484.9,991.3 486.6,990.9 488.2,989.6 489.8,983.1 491.5,972.1 493.1,951.2 494.7,929.4 496.4,918.2 498.0,911.2 499.6,908.4 501.2,905.3 502.9,904.5 504.5,901.9 506.1,900.1 507.8,896.6 509.4,894.1 511.0,893.3 512.7,890.1 514.3,886.0 515.9,881.8 517.6,876.4 519.2,870.1 520.8,862.8 522.5,855.8 524.1,851.6 525.7,845.2 527.4,842.0 529.0,840.9 530.6,840.1 532.3,841.7 533.9,844.5 535.5,850.2 537.2,857.6 538.8,863.0 540.4,868.5 542.0,874.7 543.7,881.5 545.3,883.1 546.9,888.0 548.6,891.0 550.2,894.9 551.8,897.8 553.5,899.1 555.1,901.9 556.7,904.4 558.4,905.9 560.0,908.3 561.6,909.8 563.3,911.3 564.9,913.6 566.5,915.7 568.2,916.7 569.8,918.0 571.4,920.3 573.1,922.1 574.7,923.7 576.3,925.7 578.0,926.4 579.6,928.6 581.2,930.1 582.8,931.0 584.5,931.7 586.1,933.3 587.7,936.2 589.4,935.9 591.0,937.6 592.6,939.3 594.3,940.0 595.9,941.7 597.5,941.9 599.2,944.8 600.8,944.5 602.4,946.9 604.1,948.0 605.7,948.3 607.3,951.3 609.0,950.4 610.6,951.2 612.2,954.2 613.9,954.5 615.5,954.4 617.1,956.7 618.8,957.9 620.4,956.7 622.0,959.1 623.6,958.7 625.3,959.9 626.9,961.2 628.5,962.8 630.2,962.4 631.8,963.6 633.4,965.1 635.1,966.0 636.7,966.5 638.3,967.8 640.0,968.1 641.6,968.2 643.2,969.8 644.9,970.1 646.5,970.8 648.1,971.3 649.8,972.3 651.4,972.2 653.0,972.4 654.7,974.6 656.3,974.7 657.9,975.0 659.6,974.8 661.2,976.2 662.8,977.0 664.4,976.6 666.1,977.8 667.7,979.0 669.3,978.6 671.0,979.2 672.6,980.2 674.2,981.3 675.9,981.1 677.5,980.9 679.1,981.4 680.8,983.1 682.4,983.3 684.0,982.3 685.7,984.6 687.3,983.2 688.9,983.7 690.6,983.2 692.2,986.0 693.8,984.8 695.5,986.1 697.1,986.0 698.7,987.1 700.4,986.1 702.0,986.7 703.6,988.2 705.2,988.7 706.9,987.8 708.5,988.7 710.1,988.5 711.8,988.8 713.4,989.0 715.0,989.5 716.7,990.1 718.3,989.4 719.9,989.8 721.6,990.6 723.2,990.6 724.8,991.1 726.5,991.4 728.1,991.9 729.7,990.9 731.4,992.4 733.0,991.4 734.6,992.0 736.3,992.3 737.9,992.4 739.5,992.8 741.2,994.1 742.8,994.5 744.4,994.2 746.0,994.2 747.7,994.1 749.3,994.3 750.9,994.2 752.6,995.7 754.2,994.6 755.8,995.4 757.5,995.5 759.1,995.7 760.7,995.4 762.4,996.1 764.0,995.2 L764.0,1004.1 Z" stroke="#ac563e" stroke-dasharray="0 1.10 832.96 99999"/><path d="M239.8,1008.9 L239.8,1006.4 241.5,1007.2 243.1,1007.1 244.7,1006.5 246.4,1005.6 248.0,1005.8 249.6,1006.5 251.2,1006.0 252.9,1006.6 254.5,1005.9 256.1,1006.1 257.8,1004.8 259.4,1005.1 261.0,1004.8 262.7,1005.5 264.3,1004.5 265.9,1004.2 267.6,1003.0 269.2,1004.5 270.8,1003.6 272.5,1003.3 274.1,1002.0 275.7,1002.3 277.4,1000.6 279.0,999.9 280.6,1001.7 282.3,999.0 283.9,998.7 285.5,998.0 287.2,997.3 288.8,996.9 290.4,995.9 292.0,994.6 293.7,993.1 295.3,990.0 296.9,986.9 298.6,981.9 300.2,974.5 301.8,965.0 303.5,950.4 305.1,939.4 306.7,941.3 308.4,948.4 310.0,956.8 311.6,964.4 313.3,968.8 314.9,971.2 316.5,974.2 318.2,976.1 319.8,978.3 321.4,978.5 323.1,980.2 324.7,979.9 326.3,980.4 328.0,982.8 329.6,982.8 331.2,983.5 332.8,983.2 334.5,985.5 336.1,984.4 337.7,985.0 339.4,986.1 341.0,986.2 342.6,987.1 344.3,987.2 345.9,987.9 347.5,989.1 349.2,989.0 350.8,989.3 352.4,988.9 354.1,989.9 355.7,989.7 357.3,989.6 359.0,990.9 360.6,990.6 362.2,992.1 363.9,991.4 365.5,991.2 367.1,991.5 368.8,990.1 370.4,993.0 372.0,992.8 373.6,993.1 375.3,993.8 376.9,993.6 378.5,994.6 380.2,994.2 381.8,992.3 383.4,994.9 385.1,994.0 386.7,994.0 388.3,994.1 390.0,994.8 391.6,995.2 393.2,995.0 394.9,995.0 396.5,996.8 398.1,995.0 399.8,996.1 401.4,995.6 403.0,995.7 404.7,996.3 406.3,997.4 407.9,997.9 409.6,996.3 411.2,997.4 412.8,998.0 414.4,997.5 416.1,997.3 417.7,996.3 419.3,998.1 421.0,997.2 422.6,997.4 424.2,997.9 425.9,998.3 427.5,996.7 429.1,997.8 430.8,997.5 432.4,997.9 434.0,996.6 435.7,997.6 437.3,998.1 438.9,997.3 440.6,997.8 442.2,998.5 443.8,998.8 445.5,998.3 447.1,998.2 448.7,998.9 450.4,999.2 452.0,997.8 453.6,997.8 455.2,997.4 456.9,998.6 458.5,997.8 460.1,997.7 461.8,998.0 463.4,998.3 465.0,997.7 466.7,998.0 468.3,998.0 469.9,997.8 471.6,998.1 473.2,998.1 474.8,997.5 476.5,997.4 478.1,996.7 479.7,997.1 481.4,996.5 483.0,994.3 484.6,986.6 486.3,973.1 487.9,949.7 489.5,924.1 491.2,909.1 492.8,902.8 494.4,898.8 496.0,897.0 497.7,894.6 499.3,891.5 500.9,890.2 502.6,886.9 504.2,883.9 505.8,882.8 507.5,878.5 509.1,872.9 510.7,869.0 512.4,862.7 514.0,855.7 515.6,846.9 517.3,839.8 518.9,831.0 520.5,826.6 522.2,824.1 523.8,821.4 525.4,820.2 527.1,820.6 528.7,825.0 530.3,832.8 532.0,839.9 533.6,847.9 535.2,853.3 536.8,861.6 538.5,866.1 540.1,871.3 541.7,876.3 543.4,880.0 545.0,882.9 546.6,888.1 548.3,889.3 549.9,894.6 551.5,896.0 553.2,898.2 554.8,900.5 556.4,901.9 558.1,905.0 559.7,907.6 561.3,909.7 563.0,911.3 564.6,912.7 566.2,915.7 567.9,917.4 569.5,919.2 571.1,920.3 572.8,922.2 574.4,925.0 576.0,926.7 577.6,928.1 579.3,929.1 580.9,930.1 582.5,932.4 584.2,934.5 585.8,934.2 587.4,936.6 589.1,940.1 590.7,939.6 592.3,940.7 594.0,942.1 595.6,944.5 597.2,946.5 598.9,946.7 600.5,947.6 602.1,948.9 603.8,950.3 605.4,952.2 607.0,952.8 608.7,954.0 610.3,955.5 611.9,955.0 613.6,957.5 615.2,958.6 616.8,958.2 618.4,960.7 620.1,961.7 621.7,962.5 623.3,964.2 625.0,963.9 626.6,965.5 628.2,966.0 629.9,966.3 631.5,968.3 633.1,969.0 634.8,970.6 636.4,969.9 638.0,971.5 639.7,971.4 641.3,972.8 642.9,973.8 644.6,974.7 646.2,974.1 647.8,975.2 649.5,975.6 651.1,977.0 652.7,978.5 654.4,978.3 656.0,978.5 657.6,979.0 659.2,979.5 660.9,980.0 662.5,980.6 664.1,980.7 665.8,983.5 667.4,982.5 669.0,983.0 670.7,983.4 672.3,984.4 673.9,985.4 675.6,985.3 677.2,985.4 678.8,986.3 680.5,986.1 682.1,986.7 683.7,989.1 685.4,986.6 687.0,989.3 688.6,987.4 690.3,988.9 691.9,990.2 693.5,990.0 695.2,990.6 696.8,990.5 698.4,992.2 700.0,991.9 701.7,993.6 703.3,992.3 704.9,993.0 706.6,993.7 708.2,994.0 709.8,993.7 711.5,994.3 713.1,994.3 714.7,994.8 716.4,995.2 718.0,995.5 719.6,994.6 721.3,995.9 722.9,995.9 724.5,995.6 726.2,995.5 727.8,997.5 729.4,997.0 731.1,997.7 732.7,997.1 734.3,997.4 736.0,998.8 737.6,998.6 739.2,998.6 740.8,997.7 742.5,999.9 744.1,998.3 745.7,998.9 747.4,999.4 749.0,999.1 750.6,999.9 752.3,998.3 753.9,999.7 755.5,1000.2 757.2,999.3 758.8,1000.1 L758.8,1008.9 Z" stroke="#a8563f" stroke-dasharray="0 2.48 875.18 99999"/><path d="M234.6,1013.7 L234.6,1012.1 236.3,1011.5 237.9,1011.0 239.5,1011.0 241.2,1010.8 242.8,1010.6 244.4,1010.1 246.0,1010.5 247.7,1009.0 249.3,1009.7 250.9,1009.0 252.6,1009.6 254.2,1009.8 255.8,1009.2 257.5,1008.7 259.1,1008.9 260.7,1010.2 262.4,1008.3 264.0,1006.9 265.6,1006.3 267.3,1005.9 268.9,1006.7 270.5,1006.3 272.2,1004.4 273.8,1004.6 275.4,1005.2 277.1,1004.6 278.7,1003.8 280.3,1002.8 282.0,1003.1 283.6,1001.0 285.2,999.7 286.8,997.4 288.5,996.2 290.1,994.6 291.7,989.6 293.4,984.0 295.0,975.5 296.6,964.4 298.3,949.8 299.9,936.8 301.5,940.7 303.2,947.0 304.8,956.7 306.4,965.8 308.1,969.7 309.7,974.9 311.3,974.7 313.0,978.0 314.6,980.1 316.2,982.0 317.9,982.4 319.5,982.9 321.1,984.2 322.8,984.3 324.4,985.5 326.0,986.7 327.6,986.3 329.3,985.5 330.9,989.5 332.5,988.6 334.2,988.5 335.8,990.0 337.4,990.8 339.1,991.0 340.7,990.9 342.3,992.1 344.0,993.0 345.6,993.2 347.2,992.5 348.9,993.1 350.5,992.7 352.1,993.6 353.8,994.8 355.4,994.9 357.0,995.3 358.7,994.5 360.3,995.4 361.9,995.8 363.6,995.8 365.2,995.9 366.8,997.0 368.4,997.7 370.1,997.1 371.7,997.6 373.3,997.3 375.0,998.7 376.6,997.1 378.2,998.3 379.9,997.6 381.5,998.3 383.1,999.0 384.8,999.7 386.4,999.4 388.0,1000.0 389.7,998.5 391.3,1000.3 392.9,999.9 394.6,1000.6 396.2,1000.7 397.8,1000.3 399.5,999.2 401.1,1001.4 402.7,1000.7 404.4,1000.2 406.0,1001.0 407.6,1001.5 409.2,999.3 410.9,1001.1 412.5,1001.8 414.1,1002.6 415.8,1002.2 417.4,1002.0 419.0,1001.1 420.7,1001.8 422.3,1002.4 423.9,1000.8 425.6,1001.2 427.2,1002.3 428.8,1001.4 430.5,1002.0 432.1,1002.4 433.7,1002.8 435.4,1002.3 437.0,1002.1 438.6,1001.9 440.3,1002.0 441.9,1001.5 443.5,1001.2 445.2,1002.2 446.8,1001.7 448.4,1001.3 450.0,1002.3 451.7,1002.6 453.3,1003.5 454.9,1002.2 456.6,1003.5 458.2,1002.7 459.8,1001.7 461.5,1001.4 463.1,1002.8 464.7,1003.3 466.4,1002.8 468.0,1001.6 469.6,1000.4 471.3,1001.8 472.9,1002.9 474.5,1002.0 476.2,999.4 477.8,997.1 479.4,989.6 481.1,973.3 482.7,945.8 484.3,919.2 486.0,899.5 487.6,890.5 489.2,887.8 490.8,885.3 492.5,882.5 494.1,880.3 495.7,878.3 497.4,875.2 499.0,871.1 500.6,866.8 502.3,863.8 503.9,859.4 505.5,852.1 507.2,844.5 508.8,837.4 510.4,828.6 512.1,819.3 513.7,810.9 515.3,803.0 517.0,799.9 518.6,796.5 520.2,796.1 521.9,798.4 523.5,801.4 525.1,810.1 526.8,819.4 528.4,827.8 530.0,835.9 531.6,842.6 533.3,851.0 534.9,856.6 536.5,862.3 538.2,868.2 539.8,871.6 541.4,876.3 543.1,879.4 544.7,882.4 546.3,884.9 548.0,888.2 549.6,891.2 551.2,893.9 552.9,896.4 554.5,898.5 556.1,901.9 557.8,903.9 559.4,905.8 561.0,909.7 562.7,909.9 564.3,912.0 565.9,915.2 567.6,916.9 569.2,918.9 570.8,921.2 572.4,922.8 574.1,925.6 575.7,926.2 577.3,929.0 579.0,929.7 580.6,930.4 582.2,933.7 583.9,935.3 585.5,937.0 587.1,938.9 588.8,940.0 590.4,941.3 592.0,943.9 593.7,944.2 595.3,946.7 596.9,947.0 598.6,949.5 600.2,952.1 601.8,952.3 603.5,954.0 605.1,954.8 606.7,955.4 608.4,957.6 610.0,958.8 611.6,959.4 613.2,961.6 614.9,962.1 616.5,962.1 618.1,963.0 619.8,965.4 621.4,966.4 623.0,966.6 624.7,967.3 626.3,969.3 627.9,970.6 629.6,971.4 631.2,971.1 632.8,972.4 634.5,974.2 636.1,973.4 637.7,975.5 639.4,976.7 641.0,976.3 642.6,977.1 644.3,979.0 645.9,979.6 647.5,979.6 649.2,980.9 650.8,980.6 652.4,981.6 654.0,983.1 655.7,985.3 657.3,984.0 658.9,984.8 660.6,983.9 662.2,986.6 663.8,986.6 665.5,986.0 667.1,987.8 668.7,987.6 670.4,988.6 672.0,989.3 673.6,989.4 675.3,990.6 676.9,991.4 678.5,991.0 680.2,992.0 681.8,991.9 683.4,991.8 685.1,992.6 686.7,994.3 688.3,994.6 690.0,995.3 691.6,995.1 693.2,995.7 694.8,995.3 696.5,995.1 698.1,996.0 699.7,998.0 701.4,997.2 703.0,997.3 704.6,996.8 706.3,997.7 707.9,997.8 709.5,998.5 711.2,999.9 712.8,998.9 714.4,998.9 716.1,1000.6 717.7,999.0 719.3,998.9 721.0,1001.2 722.6,1001.3 724.2,1001.9 725.9,1001.2 727.5,1002.2 729.1,1000.7 730.8,1002.5 732.4,1002.4 734.0,1002.1 735.6,1003.0 737.3,1001.9 738.9,1003.2 740.5,1003.2 742.2,1003.1 743.8,1004.6 745.4,1003.8 747.1,1004.5 748.7,1004.1 750.3,1005.2 752.0,1003.7 753.6,1004.4 L753.6,1013.7 Z" stroke="#a25640" stroke-dasharray="0 1.66 935.08 99999"/><path d="M229.4,1018.5 L229.4,1016.5 231.1,1016.2 232.7,1017.1 234.3,1015.6 236.0,1016.5 237.6,1015.0 239.2,1015.8 240.8,1014.1 242.5,1015.2 244.1,1015.2 245.7,1013.9 247.4,1014.5 249.0,1012.8 250.6,1012.6 252.3,1014.0 253.9,1012.5 255.5,1012.6 257.2,1012.6 258.8,1013.6 260.4,1012.0 262.1,1011.9 263.7,1010.4 265.3,1009.9 267.0,1011.0 268.6,1010.6 270.2,1009.0 271.9,1008.8 273.5,1007.2 275.1,1007.4 276.8,1005.2 278.4,1004.0 280.0,1004.7 281.6,1003.0 283.3,1000.4 284.9,998.1 286.5,993.0 288.2,989.0 289.8,981.0 291.4,970.1 293.1,953.8 294.7,942.2 296.3,943.9 298.0,953.3 299.6,962.0 301.2,969.3 302.9,974.5 304.5,979.2 306.1,980.7 307.8,982.6 309.4,983.9 311.0,986.7 312.7,986.7 314.3,987.6 315.9,988.7 317.6,989.2 319.2,990.8 320.8,991.3 322.4,989.9 324.1,991.3 325.7,992.0 327.3,992.8 329.0,993.8 330.6,994.6 332.2,995.5 333.9,995.1 335.5,996.6 337.1,995.9 338.8,996.9 340.4,997.0 342.0,997.5 343.7,996.3 345.3,996.6 346.9,999.0 348.6,997.1 350.2,998.3 351.8,998.8 353.5,998.8 355.1,1001.5 356.7,1000.0 358.4,999.3 360.0,1001.1 361.6,1000.2 363.2,1001.7 364.9,1002.2 366.5,1001.5 368.1,1002.3 369.8,1002.8 371.4,1002.7 373.0,1002.7 374.7,1002.5 376.3,1003.3 377.9,1003.4 379.6,1003.7 381.2,1004.3 382.8,1004.6 384.5,1004.5 386.1,1004.8 387.7,1004.9 389.4,1004.3 391.0,1004.8 392.6,1005.0 394.3,1005.7 395.9,1005.6 397.5,1005.7 399.2,1006.0 400.8,1005.2 402.4,1004.6 404.0,1005.2 405.7,1006.6 407.3,1006.3 408.9,1005.7 410.6,1006.4 412.2,1006.3 413.8,1007.2 415.5,1007.3 417.1,1006.1 418.7,1007.0 420.4,1006.2 422.0,1006.1 423.6,1007.2 425.3,1007.3 426.9,1005.7 428.5,1006.9 430.2,1006.5 431.8,1006.6 433.4,1006.9 435.1,1006.8 436.7,1006.4 438.3,1007.0 440.0,1008.0 441.6,1007.1 443.2,1007.2 444.8,1007.1 446.5,1006.2 448.1,1007.9 449.7,1006.4 451.4,1007.6 453.0,1007.1 454.6,1006.4 456.3,1007.3 457.9,1005.8 459.5,1006.0 461.2,1006.8 462.8,1006.8 464.4,1006.8 466.1,1008.2 467.7,1006.8 469.3,1006.4 471.0,1004.7 472.6,1001.1 474.2,995.3 475.9,974.6 477.5,942.2 479.1,910.5 480.8,889.8 482.4,881.4 484.0,877.1 485.6,873.2 487.3,870.3 488.9,868.6 490.5,865.5 492.2,862.3 493.8,857.4 495.4,854.5 497.1,848.8 498.7,843.3 500.3,836.6 502.0,827.9 503.6,818.7 505.2,809.3 506.9,798.8 508.5,788.6 510.1,780.0 511.8,775.2 513.4,772.8 515.0,772.4 516.7,775.1 518.3,778.7 519.9,788.0 521.6,800.1 523.2,808.1 524.8,819.4 526.4,827.2 528.1,834.6 529.7,843.2 531.3,849.0 533.0,854.9 534.6,861.9 536.2,862.8 537.9,867.8 539.5,873.6 541.1,874.4 542.8,879.2 544.4,882.3 546.0,885.3 547.7,887.3 549.3,890.5 550.9,894.3 552.6,896.5 554.2,899.9 555.8,901.1 557.5,904.2 559.1,906.4 560.7,910.3 562.4,911.9 564.0,913.0 565.6,916.9 567.2,918.9 568.9,921.4 570.5,923.7 572.1,925.3 573.8,927.5 575.4,930.0 577.0,931.9 578.7,933.0 580.3,934.3 581.9,936.8 583.6,938.6 585.2,941.1 586.8,942.6 588.5,944.6 590.1,945.7 591.7,947.3 593.4,948.1 595.0,949.6 596.6,952.3 598.3,952.9 599.9,955.0 601.5,957.1 603.2,958.1 604.8,958.8 606.4,960.2 608.0,961.2 609.7,963.4 611.3,964.3 612.9,966.5 614.6,965.9 616.2,965.4 617.8,968.6 619.5,971.3 621.1,971.0 622.7,972.1 624.4,972.5 626.0,973.7 627.6,974.1 629.3,975.2 630.9,976.7 632.5,978.3 634.2,979.2 635.8,979.6 637.4,980.8 639.1,980.7 640.7,981.7 642.3,982.5 644.0,985.4 645.6,985.2 647.2,984.6 648.8,986.0 650.5,986.7 652.1,986.9 653.7,988.6 655.4,989.3 657.0,989.7 658.6,990.9 660.3,990.9 661.9,992.7 663.5,991.0 665.2,991.4 666.8,992.7 668.4,993.6 670.1,995.5 671.7,993.4 673.3,994.8 675.0,996.3 676.6,996.9 678.2,996.6 679.9,997.8 681.5,997.4 683.1,997.5 684.8,999.5 686.4,1000.1 688.0,999.9 689.6,999.2 691.3,1000.1 692.9,1000.6 694.5,1001.2 696.2,1000.6 697.8,1002.4 699.4,1001.3 701.1,1003.0 702.7,1003.1 704.3,1002.9 706.0,1002.6 707.6,1003.7 709.2,1005.0 710.9,1004.4 712.5,1005.8 714.1,1004.4 715.8,1005.2 717.4,1005.6 719.0,1005.4 720.7,1006.8 722.3,1007.6 723.9,1006.8 725.6,1007.1 727.2,1008.3 728.8,1007.2 730.4,1006.9 732.1,1006.7 733.7,1007.5 735.3,1008.1 737.0,1010.1 738.6,1010.2 740.2,1008.1 741.9,1007.9 743.5,1009.5 745.1,1009.2 746.8,1009.0 748.4,1009.4 L748.4,1018.5 Z" stroke="#9d5542" stroke-dasharray="0 2.05 985.88 99999"/><path d="M224.2,1023.4 L224.2,1020.6 225.9,1021.5 227.5,1022.0 229.1,1020.8 230.8,1020.6 232.4,1022.2 234.0,1020.3 235.6,1018.2 237.3,1019.3 238.9,1019.8 240.5,1019.0 242.2,1018.8 243.8,1018.9 245.4,1018.9 247.1,1019.4 248.7,1019.0 250.3,1017.4 252.0,1018.0 253.6,1017.5 255.2,1016.4 256.9,1016.0 258.5,1016.4 260.1,1016.6 261.8,1015.4 263.4,1015.2 265.0,1013.6 266.7,1014.5 268.3,1012.6 269.9,1011.6 271.6,1012.3 273.2,1009.8 274.8,1008.6 276.4,1006.2 278.1,1005.0 279.7,1002.2 281.3,999.0 283.0,992.7 284.6,986.0 286.2,972.7 287.9,958.2 289.5,947.5 291.1,948.8 292.8,955.9 294.4,966.0 296.0,974.4 297.7,979.7 299.3,982.5 300.9,986.7 302.6,987.7 304.2,988.3 305.8,991.5 307.5,990.5 309.1,991.4 310.7,993.9 312.4,995.0 314.0,995.0 315.6,995.3 317.2,995.7 318.9,997.1 320.5,998.1 322.1,997.1 323.8,998.9 325.4,999.7 327.0,1000.0 328.7,999.4 330.3,1000.7 331.9,1001.1 333.6,1000.5 335.2,1002.2 336.8,1003.6 338.5,1002.1 340.1,1002.4 341.7,1002.8 343.4,1003.8 345.0,1004.7 346.6,1004.4 348.3,1005.2 349.9,1004.1 351.5,1004.8 353.2,1004.0 354.8,1005.1 356.4,1006.1 358.0,1005.2 359.7,1007.0 361.3,1005.9 362.9,1006.2 364.6,1007.4 366.2,1008.0 367.8,1007.7 369.5,1008.2 371.1,1008.0 372.7,1008.0 374.4,1008.3 376.0,1008.6 377.6,1008.3 379.3,1008.8 380.9,1008.1 382.5,1010.5 384.2,1009.4 385.8,1010.1 387.4,1009.1 389.1,1009.9 390.7,1009.3 392.3,1009.2 394.0,1010.5 395.6,1009.8 397.2,1010.0 398.8,1011.2 400.5,1011.2 402.1,1010.4 403.7,1012.3 405.4,1011.4 407.0,1011.5 408.6,1011.3 410.3,1011.3 411.9,1010.0 413.5,1011.7 415.2,1012.3 416.8,1011.5 418.4,1012.2 420.1,1011.0 421.7,1011.0 423.3,1012.6 425.0,1012.6 426.6,1011.5 428.2,1012.0 429.9,1011.7 431.5,1010.7 433.1,1011.8 434.8,1011.4 436.4,1012.6 438.0,1012.6 439.6,1012.4 441.3,1012.1 442.9,1011.3 444.5,1011.0 446.2,1010.5 447.8,1012.2 449.4,1011.0 451.1,1012.1 452.7,1012.6 454.3,1010.4 456.0,1011.1 457.6,1011.9 459.2,1011.5 460.9,1010.7 462.5,1009.8 464.1,1010.0 465.8,1008.8 467.4,1006.3 469.0,997.4 470.7,974.9 472.3,940.5 473.9,904.3 475.6,880.5 477.2,870.3 478.8,865.8 480.4,862.9 482.1,859.5 483.7,855.3 485.3,853.9 487.0,849.4 488.6,844.0 490.2,840.2 491.9,834.4 493.5,828.8 495.1,819.8 496.8,809.6 498.4,800.1 500.0,788.0 501.7,777.7 503.3,766.7 504.9,758.3 506.6,753.4 508.2,749.1 509.8,748.7 511.5,751.2 513.1,756.9 514.7,768.3 516.4,777.9 518.0,790.2 519.6,800.5 521.2,811.2 522.9,819.6 524.5,828.5 526.1,835.4 527.8,843.1 529.4,847.6 531.0,852.8 532.7,857.9 534.3,862.4 535.9,865.8 537.6,869.5 539.2,873.5 540.8,876.9 542.5,880.7 544.1,884.2 545.7,887.9 547.4,889.5 549.0,893.0 550.6,896.2 552.3,899.4 553.9,902.2 555.5,905.3 557.2,907.1 558.8,910.2 560.4,912.9 562.0,915.7 563.7,918.6 565.3,919.6 566.9,923.0 568.6,924.6 570.2,927.9 571.8,929.6 573.5,931.1 575.1,934.8 576.7,936.6 578.4,938.7 580.0,939.8 581.6,943.1 583.3,944.2 584.9,946.7 586.5,948.6 588.2,947.7 589.8,951.2 591.4,951.8 593.1,953.5 594.7,954.8 596.3,957.5 598.0,959.7 599.6,958.9 601.2,963.0 602.8,964.5 604.5,964.2 606.1,965.4 607.7,966.8 609.4,968.9 611.0,970.8 612.6,971.0 614.3,971.7 615.9,973.6 617.5,973.7 619.2,975.9 620.8,976.3 622.4,978.4 624.1,978.7 625.7,979.1 627.3,980.1 629.0,981.6 630.6,983.0 632.2,984.3 633.9,984.8 635.5,985.0 637.1,986.0 638.8,988.1 640.4,987.4 642.0,988.0 643.6,990.3 645.3,990.3 646.9,992.0 648.5,992.0 650.2,992.9 651.8,993.3 653.4,994.2 655.1,995.2 656.7,995.2 658.3,997.8 660.0,997.5 661.6,997.4 663.2,998.0 664.9,998.2 666.5,999.7 668.1,1000.6 669.8,1000.2 671.4,1001.1 673.0,1002.6 674.7,1001.1 676.3,1002.0 677.9,1002.8 679.6,1001.5 681.2,1004.2 682.8,1004.0 684.4,1004.0 686.1,1004.9 687.7,1005.7 689.3,1005.7 691.0,1005.9 692.6,1005.9 694.2,1007.2 695.9,1007.5 697.5,1008.1 699.1,1008.3 700.8,1008.6 702.4,1009.0 704.0,1007.7 705.7,1009.6 707.3,1009.9 708.9,1008.3 710.6,1009.6 712.2,1012.2 713.8,1010.7 715.5,1011.1 717.1,1012.2 718.7,1012.3 720.4,1011.2 722.0,1011.7 723.6,1012.1 725.2,1013.0 726.9,1011.8 728.5,1012.7 730.1,1013.0 731.8,1013.2 733.4,1014.5 735.0,1013.4 736.7,1012.9 738.3,1013.8 739.9,1014.5 741.6,1013.6 743.2,1015.4 L743.2,1023.4 Z" stroke="#985443" stroke-dasharray="0 2.78 1037.52 99999"/><path d="M219.0,1028.2 L219.0,1026.3 220.7,1025.6 222.3,1025.3 223.9,1025.3 225.6,1026.5 227.2,1024.9 228.8,1024.8 230.4,1025.4 232.1,1023.6 233.7,1024.6 235.3,1024.3 237.0,1023.6 238.6,1023.6 240.2,1023.3 241.9,1023.7 243.5,1022.8 245.1,1022.7 246.8,1023.1 248.4,1023.0 250.0,1020.1 251.7,1022.0 253.3,1021.4 254.9,1019.9 256.6,1019.7 258.2,1020.5 259.8,1018.4 261.5,1017.6 263.1,1017.4 264.7,1016.9 266.4,1015.8 268.0,1015.3 269.6,1014.3 271.2,1011.7 272.9,1008.9 274.5,1006.7 276.1,1003.5 277.8,997.9 279.4,990.0 281.0,977.8 282.7,962.8 284.3,951.6 285.9,953.3 287.6,960.3 289.2,971.8 290.8,980.0 292.5,983.2 294.1,987.6 295.7,989.9 297.4,991.5 299.0,994.5 300.6,995.1 302.3,996.1 303.9,997.4 305.5,998.2 307.2,999.1 308.8,999.3 310.4,1000.8 312.0,1001.0 313.7,1002.3 315.3,1002.0 316.9,1002.0 318.6,1003.6 320.2,1003.8 321.8,1004.8 323.5,1003.4 325.1,1005.0 326.7,1005.2 328.4,1004.5 330.0,1006.4 331.6,1006.7 333.3,1007.5 334.9,1008.2 336.5,1006.7 338.2,1008.0 339.8,1008.4 341.4,1008.5 343.1,1009.6 344.7,1009.3 346.3,1009.4 348.0,1009.4 349.6,1010.4 351.2,1010.9 352.8,1010.8 354.5,1010.7 356.1,1010.8 357.7,1011.9 359.4,1012.4 361.0,1013.1 362.6,1012.8 364.3,1012.5 365.9,1012.5 367.5,1013.8 369.2,1014.4 370.8,1014.1 372.4,1012.7 374.1,1013.4 375.7,1014.1 377.3,1012.9 379.0,1014.2 380.6,1014.7 382.2,1014.5 383.9,1014.7 385.5,1015.0 387.1,1014.4 388.8,1015.2 390.4,1015.2 392.0,1015.1 393.6,1014.8 395.3,1016.5 396.9,1016.3 398.5,1016.0 400.2,1016.3 401.8,1016.1 403.4,1016.7 405.1,1016.7 406.7,1017.0 408.3,1016.1 410.0,1015.3 411.6,1016.9 413.2,1015.4 414.9,1015.6 416.5,1017.7 418.1,1016.3 419.8,1016.2 421.4,1017.9 423.0,1016.3 424.7,1016.7 426.3,1016.4 427.9,1015.6 429.6,1016.4 431.2,1016.2 432.8,1017.3 434.4,1016.0 436.1,1016.0 437.7,1015.9 439.3,1014.3 441.0,1016.5 442.6,1015.8 444.2,1016.5 445.9,1015.9 447.5,1014.8 449.1,1016.5 450.8,1017.0 452.4,1015.4 454.0,1016.5 455.7,1016.2 457.3,1015.7 458.9,1015.5 460.6,1013.9 462.2,1009.5 463.8,998.7 465.5,976.7 467.1,935.8 468.7,897.8 470.4,873.5 472.0,861.5 473.6,854.7 475.2,850.2 476.9,848.4 478.5,845.5 480.1,840.1 481.8,837.6 483.4,831.9 485.0,826.7 486.7,821.3 488.3,815.2 489.9,805.4 491.6,795.3 493.2,784.0 494.8,770.6 496.5,758.9 498.1,748.0 499.7,739.0 501.4,730.6 503.0,727.6 504.6,726.4 506.3,729.0 507.9,735.8 509.5,748.6 511.2,761.3 512.8,773.9 514.4,788.1 516.0,798.5 517.7,810.4 519.3,819.6 520.9,829.1 522.6,835.8 524.2,843.2 525.8,849.2 527.5,854.5 529.1,858.7 530.7,864.2 532.4,869.1 534.0,874.3 535.6,877.7 537.3,882.6 538.9,885.4 540.5,889.7 542.2,893.2 543.8,897.3 545.4,900.3 547.1,903.5 548.7,905.9 550.3,909.9 552.0,912.9 553.6,917.1 555.2,918.8 556.8,922.7 558.5,925.8 560.1,928.1 561.7,930.3 563.4,933.4 565.0,936.0 566.6,937.7 568.3,941.0 569.9,943.0 571.5,945.4 573.2,947.2 574.8,949.3 576.4,952.0 578.1,952.8 579.7,957.3 581.3,957.1 583.0,958.4 584.6,960.0 586.2,962.4 587.9,964.1 589.5,966.4 591.1,968.1 592.8,970.0 594.4,971.3 596.0,973.5 597.6,975.2 599.3,974.6 600.9,976.5 602.5,977.2 604.2,979.5 605.8,981.5 607.4,981.6 609.1,982.3 610.7,985.5 612.3,985.6 614.0,986.4 615.6,986.2 617.2,988.5 618.9,990.5 620.5,991.4 622.1,992.4 623.8,993.2 625.4,993.1 627.0,994.5 628.7,995.2 630.3,997.1 631.9,995.5 633.6,998.2 635.2,999.5 636.8,999.6 638.4,999.7 640.1,1001.1 641.7,1001.6 643.3,1000.8 645.0,1003.5 646.6,1003.0 648.2,1005.8 649.9,1004.6 651.5,1005.7 653.1,1005.4 654.8,1006.5 656.4,1007.6 658.0,1007.6 659.7,1008.1 661.3,1008.8 662.9,1009.6 664.6,1010.4 666.2,1010.6 667.8,1010.8 669.5,1011.6 671.1,1011.0 672.7,1012.8 674.4,1013.5 676.0,1013.5 677.6,1013.7 679.2,1013.6 680.9,1013.3 682.5,1014.2 684.1,1013.8 685.8,1014.8 687.4,1015.0 689.0,1014.6 690.7,1015.6 692.3,1015.7 693.9,1016.6 695.6,1017.3 697.2,1017.1 698.8,1016.1 700.5,1017.2 702.1,1019.2 703.7,1018.7 705.4,1017.8 707.0,1018.8 708.6,1018.1 710.3,1018.6 711.9,1019.2 713.5,1018.0 715.2,1019.6 716.8,1018.2 718.4,1019.5 720.0,1019.5 721.7,1019.9 723.3,1020.9 724.9,1020.6 726.6,1020.3 728.2,1021.4 729.8,1020.2 731.5,1021.0 733.1,1021.1 734.7,1021.4 736.4,1023.1 738.0,1021.4 L738.0,1028.2 Z" stroke="#925444" stroke-dasharray="0 1.85 1090.81 99999"/><path d="M213.8,1033.0 L213.8,1030.2 215.5,1029.2 217.1,1029.9 218.7,1030.3 220.4,1030.0 222.0,1030.3 223.6,1029.9 225.2,1030.8 226.9,1029.4 228.5,1028.3 230.1,1028.8 231.8,1029.5 233.4,1028.9 235.0,1027.6 236.7,1027.2 238.3,1028.7 239.9,1028.0 241.6,1027.2 243.2,1026.4 244.8,1026.3 246.5,1025.8 248.1,1024.9 249.7,1024.7 251.4,1025.5 253.0,1023.7 254.6,1023.8 256.3,1023.1 257.9,1022.1 259.5,1021.4 261.2,1020.5 262.8,1018.8 264.4,1016.8 266.0,1016.8 267.7,1014.4 269.3,1012.6 270.9,1009.2 272.6,1003.8 274.2,995.7 275.8,982.8 277.5,967.8 279.1,954.0 280.7,956.6 282.4,965.1 284.0,975.8 285.6,983.5 287.3,987.8 288.9,991.9 290.5,994.3 292.2,996.3 293.8,999.1 295.4,999.8 297.1,999.7 298.7,1001.3 300.3,1001.4 302.0,1003.5 303.6,1003.8 305.2,1003.8 306.8,1003.4 308.5,1005.6 310.1,1007.0 311.7,1007.2 313.4,1008.1 315.0,1008.5 316.6,1008.6 318.3,1009.5 319.9,1009.3 321.5,1011.1 323.2,1010.4 324.8,1011.4 326.4,1011.5 328.1,1010.7 329.7,1012.4 331.3,1012.3 333.0,1012.3 334.6,1012.4 336.2,1012.8 337.9,1014.0 339.5,1014.5 341.1,1013.8 342.8,1013.8 344.4,1015.7 346.0,1014.6 347.6,1015.6 349.3,1015.5 350.9,1016.6 352.5,1015.7 354.2,1015.9 355.8,1018.2 357.4,1016.1 359.1,1017.1 360.7,1018.2 362.3,1017.1 364.0,1018.6 365.6,1017.6 367.2,1017.4 368.9,1018.8 370.5,1019.2 372.1,1019.9 373.8,1019.4 375.4,1018.0 377.0,1020.1 378.7,1018.5 380.3,1019.0 381.9,1020.0 383.6,1019.5 385.2,1019.9 386.8,1020.0 388.4,1019.7 390.1,1019.9 391.7,1020.8 393.3,1020.4 395.0,1020.4 396.6,1020.8 398.2,1021.2 399.9,1020.9 401.5,1020.9 403.1,1020.9 404.8,1021.8 406.4,1022.3 408.0,1020.6 409.7,1021.0 411.3,1021.8 412.9,1020.6 414.6,1021.4 416.2,1021.7 417.8,1020.4 419.5,1020.5 421.1,1021.5 422.7,1020.6 424.4,1020.9 426.0,1022.2 427.6,1022.3 429.2,1021.1 430.9,1021.6 432.5,1021.9 434.1,1021.4 435.8,1021.0 437.4,1020.7 439.0,1021.3 440.7,1021.6 442.3,1020.5 443.9,1021.9 445.6,1021.8 447.2,1021.4 448.8,1021.4 450.5,1020.7 452.1,1021.0 453.7,1019.6 455.4,1019.3 457.0,1015.5 458.6,1004.0 460.3,982.7 461.9,945.8 463.5,907.6 465.2,883.1 466.8,871.5 468.4,867.3 470.0,864.3 471.7,860.9 473.3,857.2 474.9,852.6 476.6,848.5 478.2,845.4 479.8,840.7 481.5,833.7 483.1,827.8 484.7,819.7 486.4,808.9 488.0,798.2 489.6,787.4 491.3,774.1 492.9,763.3 494.5,753.6 496.2,748.7 497.8,744.5 499.4,744.5 501.1,746.2 502.7,753.3 504.3,764.0 506.0,777.7 507.6,789.0 509.2,801.2 510.8,813.5 512.5,823.0 514.1,832.3 515.7,841.6 517.4,849.4 519.0,855.7 520.6,861.6 522.3,865.8 523.9,870.9 525.5,875.8 527.2,879.8 528.8,883.9 530.4,889.0 532.1,892.7 533.7,897.0 535.3,899.3 537.0,903.0 538.6,906.2 540.2,909.9 541.9,913.2 543.5,917.0 545.1,920.1 546.8,921.7 548.4,926.9 550.0,927.6 551.6,932.0 553.3,934.3 554.9,935.8 556.5,939.6 558.2,942.7 559.8,943.5 561.4,945.7 563.1,948.3 564.7,951.7 566.3,952.8 568.0,955.1 569.6,957.3 571.2,958.9 572.9,961.7 574.5,962.1 576.1,965.2 577.8,966.5 579.4,968.1 581.0,970.1 582.7,971.1 584.3,973.2 585.9,974.5 587.6,977.1 589.2,977.5 590.8,979.3 592.4,981.5 594.1,982.0 595.7,983.8 597.3,985.0 599.0,986.9 600.6,987.8 602.2,988.9 603.9,989.6 605.5,990.6 607.1,991.9 608.8,993.4 610.4,993.8 612.0,994.1 613.7,995.4 615.3,996.6 616.9,997.5 618.6,998.8 620.2,999.5 621.8,1000.1 623.5,1001.0 625.1,1001.6 626.7,1002.1 628.4,1002.9 630.0,1004.0 631.6,1005.3 633.2,1006.5 634.9,1007.6 636.5,1006.5 638.1,1007.4 639.8,1008.5 641.4,1009.8 643.0,1009.5 644.7,1009.4 646.3,1009.9 647.9,1009.9 649.6,1011.4 651.2,1011.9 652.8,1012.2 654.5,1014.6 656.1,1013.5 657.7,1014.9 659.4,1014.7 661.0,1016.4 662.6,1016.5 664.3,1016.9 665.9,1017.0 667.5,1016.6 669.2,1018.2 670.8,1017.4 672.4,1017.5 674.0,1019.3 675.7,1018.3 677.3,1018.1 678.9,1020.0 680.6,1019.5 682.2,1019.3 683.8,1020.9 685.5,1021.3 687.1,1021.2 688.7,1021.5 690.4,1022.3 692.0,1022.2 693.6,1022.8 695.3,1022.1 696.9,1021.1 698.5,1022.2 700.2,1024.1 701.8,1022.6 703.4,1024.2 705.1,1023.4 706.7,1024.2 708.3,1023.3 710.0,1024.4 711.6,1024.5 713.2,1024.8 714.8,1025.0 716.5,1024.9 718.1,1024.1 719.7,1024.4 721.4,1025.1 723.0,1025.7 724.6,1025.9 726.3,1025.1 727.9,1026.7 729.5,1026.9 731.2,1026.9 732.8,1026.3 L732.8,1033.0 Z" stroke="#8c5344" stroke-dasharray="0 2.83 1064.57 99999"/><path d="M208.6,1037.8 L208.6,1035.3 210.3,1035.1 211.9,1035.4 213.5,1035.6 215.2,1036.3 216.8,1034.6 218.4,1035.1 220.0,1033.8 221.7,1035.0 223.3,1034.0 224.9,1033.5 226.6,1033.4 228.2,1032.9 229.8,1032.5 231.5,1032.6 233.1,1032.0 234.7,1032.3 236.4,1032.0 238.0,1029.8 239.6,1031.2 241.3,1031.0 242.9,1031.6 244.5,1030.6 246.2,1029.4 247.8,1029.4 249.4,1028.3 251.1,1028.5 252.7,1026.2 254.3,1026.1 256.0,1025.6 257.6,1024.5 259.2,1023.1 260.8,1021.0 262.5,1020.0 264.1,1016.7 265.7,1013.4 267.4,1008.6 269.0,999.8 270.6,987.6 272.3,972.1 273.9,958.6 275.5,962.3 277.2,970.7 278.8,980.0 280.4,988.0 282.1,994.2 283.7,996.3 285.3,1000.3 287.0,1002.5 288.6,1003.9 290.2,1005.8 291.9,1006.2 293.5,1006.4 295.1,1006.8 296.8,1008.6 298.4,1009.5 300.0,1009.6 301.6,1010.7 303.3,1009.1 304.9,1010.4 306.5,1011.7 308.2,1012.7 309.8,1012.7 311.4,1013.0 313.1,1014.1 314.7,1013.9 316.3,1013.0 318.0,1016.6 319.6,1015.5 321.2,1015.4 322.9,1016.9 324.5,1017.5 326.1,1016.9 327.8,1017.6 329.4,1018.2 331.0,1019.0 332.7,1017.6 334.3,1019.1 335.9,1018.7 337.6,1019.5 339.2,1020.7 340.8,1020.1 342.4,1021.6 344.1,1020.3 345.7,1020.9 347.3,1022.3 349.0,1021.1 350.6,1020.7 352.2,1022.5 353.9,1023.4 355.5,1023.6 357.1,1023.0 358.8,1021.7 360.4,1023.8 362.0,1021.9 363.7,1024.1 365.3,1023.4 366.9,1024.8 368.6,1023.4 370.2,1024.2 371.8,1023.4 373.5,1024.2 375.1,1024.1 376.7,1024.1 378.4,1024.4 380.0,1024.6 381.6,1025.1 383.2,1025.1 384.9,1025.6 386.5,1024.4 388.1,1025.6 389.8,1026.8 391.4,1025.2 393.0,1024.9 394.7,1026.0 396.3,1025.8 397.9,1026.1 399.6,1025.4 401.2,1024.9 402.8,1025.8 404.5,1026.0 406.1,1025.3 407.7,1025.6 409.4,1026.3 411.0,1026.1 412.6,1025.0 414.3,1025.9 415.9,1025.8 417.5,1026.7 419.2,1025.1 420.8,1026.4 422.4,1026.0 424.0,1025.9 425.7,1026.6 427.3,1026.7 428.9,1025.2 430.6,1025.9 432.2,1025.3 433.8,1024.3 435.5,1026.4 437.1,1025.8 438.7,1025.8 440.4,1026.9 442.0,1026.3 443.6,1024.4 445.3,1025.6 446.9,1024.7 448.5,1023.7 450.2,1023.9 451.8,1019.0 453.4,1009.9 455.1,989.2 456.7,953.2 458.3,916.9 460.0,894.9 461.6,883.1 463.2,877.8 464.8,876.7 466.5,871.8 468.1,869.4 469.7,865.0 471.4,861.8 473.0,856.9 474.6,853.1 476.3,848.3 477.9,839.9 479.5,833.6 481.2,823.4 482.8,813.4 484.4,802.4 486.1,790.8 487.7,778.6 489.3,770.5 491.0,764.5 492.6,762.6 494.2,761.0 495.9,763.5 497.5,769.2 499.1,780.7 500.8,792.9 502.4,804.7 504.0,816.8 505.6,826.7 507.3,837.8 508.9,846.7 510.5,853.4 512.2,860.8 513.8,867.4 515.4,873.0 517.1,877.7 518.7,882.9 520.3,888.1 522.0,890.6 523.6,895.5 525.2,900.5 526.9,903.6 528.5,907.0 530.1,910.1 531.8,912.4 533.4,916.8 535.0,920.1 536.7,923.9 538.3,925.3 539.9,929.0 541.6,932.6 543.2,934.3 544.8,936.4 546.4,940.4 548.1,942.8 549.7,944.5 551.3,946.1 553.0,950.9 554.6,951.4 556.2,955.0 557.9,958.3 559.5,958.3 561.1,962.1 562.8,963.6 564.4,963.6 566.0,967.4 567.7,968.0 569.3,971.3 570.9,972.5 572.6,973.7 574.2,977.1 575.8,977.7 577.5,977.6 579.1,980.9 580.7,982.1 582.4,983.3 584.0,985.2 585.6,984.8 587.2,988.6 588.9,987.9 590.5,989.5 592.1,991.3 593.8,991.7 595.4,994.7 597.0,994.7 598.7,995.3 600.3,996.7 601.9,998.7 603.6,998.9 605.2,999.7 606.8,1001.9 608.5,1002.0 610.1,1003.8 611.7,1004.5 613.4,1005.6 615.0,1005.4 616.6,1006.8 618.3,1007.9 619.9,1007.6 621.5,1009.4 623.2,1009.8 624.8,1011.0 626.4,1011.5 628.0,1010.7 629.7,1012.4 631.3,1013.7 632.9,1013.1 634.6,1014.5 636.2,1014.8 637.8,1015.2 639.5,1015.0 641.1,1015.8 642.7,1018.0 644.4,1016.8 646.0,1017.0 647.6,1019.2 649.3,1019.3 650.9,1019.3 652.5,1019.2 654.2,1021.2 655.8,1019.8 657.4,1020.5 659.1,1021.4 660.7,1020.8 662.3,1023.2 664.0,1021.5 665.6,1023.1 667.2,1022.7 668.8,1024.8 670.5,1023.3 672.1,1024.3 673.7,1025.7 675.4,1025.3 677.0,1024.1 678.6,1026.3 680.3,1026.0 681.9,1025.7 683.5,1025.6 685.2,1026.8 686.8,1026.9 688.4,1027.2 690.1,1027.0 691.7,1028.8 693.3,1028.6 695.0,1028.9 696.6,1027.6 698.2,1029.5 699.9,1029.5 701.5,1028.4 703.1,1030.6 704.8,1030.2 706.4,1030.1 708.0,1028.9 709.6,1029.1 711.3,1028.6 712.9,1032.3 714.5,1031.4 716.2,1030.2 717.8,1032.0 719.4,1030.4 721.1,1032.1 722.7,1030.5 724.3,1031.7 726.0,1032.3 727.6,1031.8 L727.6,1037.8 Z" stroke="#865245" stroke-dasharray="0 2.52 1066.04 99999"/><path d="M203.4,1042.7 L203.4,1038.9 205.1,1039.6 206.7,1038.7 208.3,1040.6 210.0,1039.8 211.6,1039.0 213.2,1038.6 214.8,1039.2 216.5,1038.9 218.1,1039.1 219.7,1038.6 221.4,1038.7 223.0,1037.4 224.6,1037.6 226.3,1037.5 227.9,1036.9 229.5,1036.5 231.2,1036.9 232.8,1036.5 234.4,1035.7 236.1,1036.6 237.7,1035.4 239.3,1035.0 241.0,1033.5 242.6,1034.3 244.2,1032.9 245.9,1032.0 247.5,1032.3 249.1,1029.4 250.8,1031.2 252.4,1029.3 254.0,1026.0 255.6,1024.0 257.3,1023.7 258.9,1020.5 260.5,1017.7 262.2,1011.7 263.8,1003.5 265.4,990.4 267.1,975.2 268.7,962.9 270.3,964.0 272.0,974.4 273.6,982.3 275.2,992.4 276.9,997.5 278.5,1000.1 280.1,1003.3 281.8,1004.9 283.4,1007.3 285.0,1007.1 286.7,1011.1 288.3,1009.9 289.9,1009.7 291.6,1011.6 293.2,1012.9 294.8,1013.2 296.4,1014.4 298.1,1014.4 299.7,1015.7 301.3,1015.8 303.0,1016.7 304.6,1017.2 306.2,1018.2 307.9,1018.5 309.5,1019.7 311.1,1019.4 312.8,1019.6 314.4,1019.7 316.0,1020.4 317.7,1021.1 319.3,1021.3 320.9,1021.8 322.6,1021.8 324.2,1021.6 325.8,1022.9 327.5,1022.7 329.1,1023.4 330.7,1023.7 332.4,1023.1 334.0,1025.4 335.6,1024.6 337.2,1025.5 338.9,1025.7 340.5,1025.8 342.1,1025.7 343.8,1025.5 345.4,1026.7 347.0,1027.2 348.7,1026.3 350.3,1025.8 351.9,1026.3 353.6,1026.5 355.2,1027.5 356.8,1027.1 358.5,1027.3 360.1,1029.2 361.7,1027.9 363.4,1029.1 365.0,1027.4 366.6,1028.6 368.3,1029.2 369.9,1028.6 371.5,1029.0 373.2,1028.6 374.8,1028.8 376.4,1030.3 378.0,1030.1 379.7,1029.8 381.3,1029.4 382.9,1028.9 384.6,1030.3 386.2,1029.8 387.8,1029.5 389.5,1029.8 391.1,1030.7 392.7,1030.3 394.4,1029.9 396.0,1030.5 397.6,1030.5 399.3,1030.9 400.9,1031.3 402.5,1030.9 404.2,1031.3 405.8,1030.9 407.4,1030.8 409.1,1029.6 410.7,1030.0 412.3,1030.8 414.0,1030.3 415.6,1032.3 417.2,1030.6 418.8,1029.8 420.5,1031.8 422.1,1031.5 423.7,1031.1 425.4,1031.0 427.0,1030.3 428.6,1030.1 430.3,1031.3 431.9,1031.3 433.5,1030.1 435.2,1029.9 436.8,1029.8 438.4,1030.2 440.1,1030.7 441.7,1030.3 443.3,1030.5 445.0,1029.2 446.6,1025.8 448.2,1015.7 449.9,994.4 451.5,960.2 453.1,924.8 454.8,902.3 456.4,891.6 458.0,886.9 459.6,883.4 461.3,880.1 462.9,877.0 464.5,873.3 466.2,868.3 467.8,865.7 469.4,862.1 471.1,855.9 472.7,850.3 474.3,843.1 476.0,834.4 477.6,823.3 479.2,812.2 480.9,799.2 482.5,790.2 484.1,780.2 485.8,776.1 487.4,772.5 489.0,772.3 490.7,774.7 492.3,779.9 493.9,790.7 495.6,803.1 497.2,814.8 498.8,826.2 500.4,836.8 502.1,847.0 503.7,855.9 505.3,862.7 507.0,870.7 508.6,875.5 510.2,881.7 511.9,886.3 513.5,891.3 515.1,894.4 516.8,899.3 518.4,902.0 520.0,907.3 521.7,910.9 523.3,913.3 524.9,916.2 526.6,921.5 528.2,924.6 529.8,926.7 531.5,930.3 533.1,932.6 534.7,935.5 536.4,939.1 538.0,941.9 539.6,944.0 541.2,946.2 542.9,949.0 544.5,952.5 546.1,954.1 547.8,956.1 549.4,958.3 551.0,961.1 552.7,963.2 554.3,966.3 555.9,967.8 557.6,968.1 559.2,971.3 560.8,973.2 562.5,974.7 564.1,977.0 565.7,980.0 567.4,981.4 569.0,981.8 570.6,982.9 572.3,985.0 573.9,985.9 575.5,988.2 577.2,988.5 578.8,990.2 580.4,992.7 582.0,993.3 583.7,994.1 585.3,994.6 586.9,997.9 588.6,998.5 590.2,999.2 591.8,1002.5 593.5,1001.8 595.1,1002.7 596.7,1003.6 598.4,1003.6 600.0,1004.8 601.6,1006.2 603.3,1006.8 604.9,1008.7 606.5,1009.1 608.2,1009.8 609.8,1011.7 611.4,1011.0 613.1,1012.7 614.7,1014.6 616.3,1013.3 618.0,1015.4 619.6,1016.5 621.2,1016.1 622.8,1016.9 624.5,1016.7 626.1,1018.8 627.7,1017.8 629.4,1018.7 631.0,1019.7 632.6,1020.2 634.3,1020.5 635.9,1022.2 637.5,1021.7 639.2,1022.3 640.8,1024.2 642.4,1024.6 644.1,1024.1 645.7,1024.5 647.3,1025.7 649.0,1024.7 650.6,1025.7 652.2,1025.7 653.9,1026.8 655.5,1027.3 657.1,1026.9 658.8,1027.8 660.4,1027.3 662.0,1028.4 663.6,1028.7 665.3,1029.6 666.9,1028.9 668.5,1028.7 670.2,1030.4 671.8,1028.3 673.4,1030.7 675.1,1031.1 676.7,1030.9 678.3,1031.8 680.0,1031.6 681.6,1031.4 683.2,1032.1 684.9,1032.5 686.5,1033.2 688.1,1032.6 689.8,1033.3 691.4,1034.0 693.0,1032.7 694.7,1032.6 696.3,1033.9 697.9,1033.6 699.6,1033.4 701.2,1034.0 702.8,1034.5 704.4,1034.8 706.1,1034.2 707.7,1035.9 709.3,1035.9 711.0,1035.1 712.6,1036.1 714.2,1036.6 715.9,1035.9 717.5,1036.1 719.1,1036.7 720.8,1035.9 722.4,1036.6 L722.4,1042.7 Z" stroke="#805146" stroke-dasharray="0 3.77 1036.10 99999"/><path d="M198.2,1047.5 L198.2,1045.6 199.9,1045.3 201.5,1045.8 203.1,1044.6 204.8,1044.7 206.4,1043.9 208.0,1044.5 209.6,1043.3 211.3,1043.5 212.9,1043.3 214.5,1043.7 216.2,1043.0 217.8,1043.4 219.4,1042.9 221.1,1041.7 222.7,1041.6 224.3,1042.1 226.0,1040.2 227.6,1040.3 229.2,1040.2 230.9,1039.8 232.5,1039.1 234.1,1039.4 235.8,1038.5 237.4,1037.8 239.0,1038.4 240.7,1038.0 242.3,1036.1 243.9,1035.9 245.6,1034.4 247.2,1034.4 248.8,1031.8 250.4,1029.7 252.1,1028.6 253.7,1025.1 255.3,1022.3 257.0,1016.9 258.6,1008.5 260.2,997.3 261.9,980.4 263.5,967.2 265.1,969.1 266.8,978.2 268.4,988.5 270.0,996.5 271.7,1002.9 273.3,1006.0 274.9,1008.0 276.6,1011.1 278.2,1011.4 279.8,1012.1 281.5,1013.2 283.1,1015.5 284.7,1016.6 286.4,1016.3 288.0,1018.3 289.6,1019.0 291.2,1018.3 292.9,1020.7 294.5,1021.0 296.1,1020.4 297.8,1021.7 299.4,1022.2 301.0,1022.0 302.7,1022.4 304.3,1023.7 305.9,1023.8 307.6,1023.8 309.2,1023.5 310.8,1025.1 312.5,1026.0 314.1,1026.0 315.7,1025.9 317.4,1026.4 319.0,1028.1 320.6,1027.6 322.3,1028.3 323.9,1027.3 325.5,1028.2 327.2,1029.0 328.8,1027.6 330.4,1030.1 332.0,1029.8 333.7,1029.4 335.3,1029.7 336.9,1030.8 338.6,1030.4 340.2,1030.4 341.8,1030.6 343.5,1032.0 345.1,1032.2 346.7,1032.2 348.4,1032.3 350.0,1032.0 351.6,1033.5 353.3,1030.8 354.9,1032.0 356.5,1032.7 358.2,1033.2 359.8,1032.3 361.4,1033.5 363.1,1033.4 364.7,1034.5 366.3,1033.8 368.0,1034.9 369.6,1034.5 371.2,1033.8 372.8,1035.1 374.5,1034.7 376.1,1035.7 377.7,1035.3 379.4,1035.2 381.0,1034.7 382.6,1034.3 384.3,1034.3 385.9,1035.4 387.5,1035.8 389.2,1035.5 390.8,1035.7 392.4,1035.6 394.1,1036.2 395.7,1035.6 397.3,1035.4 399.0,1035.5 400.6,1035.9 402.2,1035.8 403.9,1035.3 405.5,1035.4 407.1,1035.4 408.8,1035.5 410.4,1035.7 412.0,1035.1 413.6,1036.2 415.3,1034.3 416.9,1036.0 418.5,1035.3 420.2,1034.4 421.8,1035.0 423.4,1035.1 425.1,1035.7 426.7,1034.5 428.3,1035.6 430.0,1035.1 431.6,1035.6 433.2,1035.4 434.9,1035.7 436.5,1035.9 438.1,1033.8 439.8,1033.9 441.4,1029.7 443.0,1020.3 444.7,998.9 446.3,963.5 447.9,927.1 449.6,904.4 451.2,894.9 452.8,888.6 454.4,884.7 456.1,881.1 457.7,878.6 459.3,874.4 461.0,871.4 462.6,867.1 464.2,862.7 465.9,856.9 467.5,852.4 469.1,842.9 470.8,833.5 472.4,823.2 474.0,811.8 475.7,799.3 477.3,789.9 478.9,780.3 480.6,774.0 482.2,772.3 483.8,771.9 485.5,773.2 487.1,778.6 488.7,790.6 490.4,802.8 492.0,814.2 493.6,826.0 495.2,837.5 496.9,847.0 498.5,855.3 500.1,864.1 501.8,870.0 503.4,876.8 505.0,881.7 506.7,887.4 508.3,892.1 509.9,897.3 511.6,899.5 513.2,906.0 514.8,908.4 516.5,912.5 518.1,917.0 519.7,920.2 521.4,923.4 523.0,925.9 524.6,929.7 526.3,932.8 527.9,937.9 529.5,939.5 531.2,942.1 532.8,944.6 534.4,948.1 536.0,948.5 537.7,952.5 539.3,954.2 540.9,958.4 542.6,960.2 544.2,961.6 545.8,964.4 547.5,966.8 549.1,967.6 550.7,970.6 552.4,973.1 554.0,975.3 555.6,976.2 557.3,978.0 558.9,979.3 560.5,981.7 562.2,983.5 563.8,985.0 565.4,985.4 567.1,988.3 568.7,989.1 570.3,991.8 572.0,993.4 573.6,995.0 575.2,995.7 576.8,997.4 578.5,997.9 580.1,999.2 581.7,1000.9 583.4,1002.3 585.0,1004.1 586.6,1004.5 588.3,1005.2 589.9,1005.4 591.5,1007.2 593.2,1009.4 594.8,1008.6 596.4,1010.2 598.1,1011.7 599.7,1013.4 601.3,1013.3 603.0,1015.0 604.6,1015.2 606.2,1017.0 607.9,1017.2 609.5,1017.5 611.1,1017.9 612.8,1018.5 614.4,1019.1 616.0,1020.7 617.6,1021.1 619.3,1021.2 620.9,1023.1 622.5,1023.1 624.2,1023.7 625.8,1024.5 627.4,1023.6 629.1,1026.2 630.7,1025.9 632.3,1026.8 634.0,1027.5 635.6,1027.3 637.2,1029.0 638.9,1029.2 640.5,1029.0 642.1,1029.1 643.8,1030.0 645.4,1030.6 647.0,1032.4 648.7,1032.0 650.3,1032.3 651.9,1033.3 653.6,1031.8 655.2,1033.2 656.8,1033.1 658.4,1034.0 660.1,1033.6 661.7,1032.8 663.3,1035.5 665.0,1034.8 666.6,1034.8 668.2,1036.2 669.9,1036.6 671.5,1035.4 673.1,1035.4 674.8,1035.6 676.4,1038.0 678.0,1035.3 679.7,1037.6 681.3,1037.6 682.9,1036.1 684.6,1038.4 686.2,1036.5 687.8,1038.3 689.5,1039.6 691.1,1037.4 692.7,1039.2 694.4,1039.9 696.0,1039.2 697.6,1038.6 699.2,1039.3 700.9,1039.3 702.5,1040.7 704.1,1040.5 705.8,1040.5 707.4,1039.4 709.0,1040.4 710.7,1040.9 712.3,1041.9 713.9,1041.9 715.6,1041.0 717.2,1040.5 L717.2,1047.5 Z" stroke="#7a5046" stroke-dasharray="0 1.93 1049.70 99999"/><path d="M193.0,1052.3 L193.0,1049.5 194.7,1049.5 196.3,1050.3 197.9,1049.2 199.6,1048.6 201.2,1050.4 202.8,1047.6 204.4,1048.7 206.1,1049.2 207.7,1047.3 209.3,1049.5 211.0,1049.9 212.6,1048.3 214.2,1047.3 215.9,1047.3 217.5,1046.6 219.1,1047.1 220.8,1045.6 222.4,1045.1 224.0,1045.3 225.7,1045.3 227.3,1044.8 228.9,1044.9 230.6,1042.0 232.2,1043.3 233.8,1041.9 235.5,1042.9 237.1,1041.4 238.7,1040.4 240.4,1039.5 242.0,1038.2 243.6,1037.3 245.2,1035.5 246.9,1033.5 248.5,1031.2 250.1,1026.1 251.8,1021.0 253.4,1013.3 255.0,1000.3 256.7,984.6 258.3,972.2 259.9,974.7 261.6,983.4 263.2,992.0 264.8,1001.8 266.5,1006.7 268.1,1010.3 269.7,1013.5 271.4,1015.0 273.0,1016.7 274.6,1017.8 276.3,1019.5 277.9,1019.6 279.5,1021.0 281.2,1020.8 282.8,1021.9 284.4,1023.3 286.0,1024.9 287.7,1024.8 289.3,1026.0 290.9,1024.8 292.6,1026.4 294.2,1027.2 295.8,1028.1 297.5,1028.4 299.1,1027.6 300.7,1029.1 302.4,1028.3 304.0,1029.7 305.6,1030.1 307.3,1031.8 308.9,1030.8 310.5,1031.9 312.2,1031.1 313.8,1031.8 315.4,1032.9 317.1,1031.8 318.7,1033.5 320.3,1033.0 322.0,1033.7 323.6,1034.0 325.2,1034.9 326.8,1033.5 328.5,1034.4 330.1,1035.9 331.7,1035.9 333.4,1035.1 335.0,1036.0 336.6,1035.9 338.3,1036.0 339.9,1036.6 341.5,1037.3 343.2,1035.8 344.8,1036.4 346.4,1036.9 348.1,1037.8 349.7,1037.4 351.3,1038.9 353.0,1037.8 354.6,1038.9 356.2,1037.8 357.9,1039.1 359.5,1039.4 361.1,1039.4 362.8,1039.1 364.4,1040.6 366.0,1038.5 367.6,1039.1 369.3,1037.9 370.9,1039.7 372.5,1040.5 374.2,1039.0 375.8,1040.1 377.4,1039.9 379.1,1039.9 380.7,1039.6 382.3,1040.0 384.0,1039.8 385.6,1040.7 387.2,1040.1 388.9,1040.6 390.5,1040.0 392.1,1040.0 393.8,1039.5 395.4,1041.2 397.0,1040.1 398.7,1040.7 400.3,1040.1 401.9,1041.1 403.6,1039.9 405.2,1040.3 406.8,1040.4 408.4,1039.2 410.1,1039.8 411.7,1040.4 413.3,1039.7 415.0,1040.6 416.6,1040.2 418.2,1040.0 419.9,1038.9 421.5,1038.9 423.1,1039.9 424.8,1039.8 426.4,1041.2 428.0,1040.3 429.7,1040.8 431.3,1038.7 432.9,1039.3 434.6,1038.6 436.2,1034.0 437.8,1023.2 439.5,1001.3 441.1,964.2 442.7,925.4 444.4,901.9 446.0,890.6 447.6,885.8 449.2,881.3 450.9,878.2 452.5,874.3 454.1,871.4 455.8,867.4 457.4,862.6 459.0,857.4 460.7,851.0 462.3,846.3 463.9,837.9 465.6,826.4 467.2,816.3 468.8,804.6 470.5,791.6 472.1,779.6 473.7,771.3 475.4,764.9 477.0,761.4 478.6,761.5 480.3,764.2 481.9,768.6 483.5,782.2 485.2,794.5 486.8,806.3 488.4,820.3 490.0,831.7 491.7,841.0 493.3,851.1 494.9,859.2 496.6,866.7 498.2,871.9 499.8,879.7 501.5,885.2 503.1,889.0 504.7,893.4 506.4,898.7 508.0,903.0 509.6,908.1 511.3,911.3 512.9,914.5 514.5,918.1 516.2,921.8 517.8,925.1 519.4,928.3 521.1,930.7 522.7,935.3 524.3,937.5 526.0,941.9 527.6,944.2 529.2,947.3 530.8,950.2 532.5,952.6 534.1,954.6 535.7,958.0 537.4,961.4 539.0,962.0 540.6,963.7 542.3,966.9 543.9,969.6 545.5,971.9 547.2,973.5 548.8,974.5 550.4,977.5 552.1,980.3 553.7,981.3 555.3,984.2 557.0,984.6 558.6,987.2 560.2,988.4 561.9,990.7 563.5,993.6 565.1,993.5 566.8,995.6 568.4,996.7 570.0,997.4 571.6,1000.5 573.3,1001.5 574.9,1003.1 576.5,1003.7 578.2,1004.7 579.8,1006.1 581.4,1007.1 583.1,1007.9 584.7,1008.9 586.3,1012.3 588.0,1012.7 589.6,1012.9 591.2,1014.5 592.9,1014.4 594.5,1015.0 596.1,1017.4 597.8,1017.7 599.4,1018.7 601.0,1018.8 602.7,1020.7 604.3,1021.2 605.9,1021.4 607.6,1022.8 609.2,1023.9 610.8,1023.2 612.4,1025.5 614.1,1026.1 615.7,1025.0 617.3,1027.0 619.0,1027.0 620.6,1028.9 622.2,1030.3 623.9,1028.9 625.5,1030.1 627.1,1031.4 628.8,1031.0 630.4,1031.8 632.0,1032.2 633.7,1032.1 635.3,1033.7 636.9,1033.2 638.6,1034.4 640.2,1034.1 641.8,1034.3 643.5,1034.4 645.1,1035.1 646.7,1037.1 648.4,1037.5 650.0,1036.3 651.6,1037.9 653.2,1038.2 654.9,1038.6 656.5,1036.8 658.1,1039.9 659.8,1039.2 661.4,1039.4 663.0,1039.4 664.7,1040.3 666.3,1040.5 667.9,1040.5 669.6,1040.8 671.2,1041.4 672.8,1041.4 674.5,1041.4 676.1,1042.7 677.7,1042.8 679.4,1041.4 681.0,1042.5 682.6,1042.0 684.3,1043.6 685.9,1042.7 687.5,1044.1 689.2,1043.1 690.8,1043.7 692.4,1043.3 694.0,1044.8 695.7,1043.8 697.3,1044.9 698.9,1045.3 700.6,1044.5 702.2,1045.8 703.8,1044.8 705.5,1045.4 707.1,1045.1 708.7,1045.5 710.4,1045.6 712.0,1046.0 L712.0,1052.3 Z" stroke="#775046" stroke-dasharray="0 2.85 1081.67 99999"/><path d="M187.8,1057.1 L187.8,1055.2 189.5,1055.3 191.1,1054.1 192.7,1054.6 194.4,1053.1 196.0,1053.4 197.6,1054.2 199.2,1053.4 200.9,1052.8 202.5,1053.9 204.1,1054.4 205.8,1052.3 207.4,1053.2 209.0,1053.5 210.7,1052.0 212.3,1052.1 213.9,1051.1 215.6,1050.3 217.2,1049.7 218.8,1050.1 220.5,1049.6 222.1,1050.4 223.7,1048.4 225.4,1048.2 227.0,1048.7 228.6,1047.8 230.3,1047.7 231.9,1046.3 233.5,1045.7 235.2,1044.5 236.8,1044.7 238.4,1041.5 240.0,1040.8 241.7,1039.2 243.3,1036.3 244.9,1033.2 246.6,1026.7 248.2,1018.9 249.8,1007.4 251.5,991.6 253.1,979.4 254.7,981.0 256.4,989.9 258.0,998.6 259.6,1006.9 261.3,1012.3 262.9,1015.8 264.5,1018.3 266.2,1019.7 267.8,1022.4 269.4,1023.4 271.1,1024.5 272.7,1025.3 274.3,1026.4 276.0,1028.0 277.6,1028.1 279.2,1029.4 280.8,1030.0 282.5,1030.4 284.1,1031.3 285.7,1030.4 287.4,1032.1 289.0,1031.7 290.6,1032.5 292.3,1033.6 293.9,1033.1 295.5,1036.2 297.2,1035.2 298.8,1033.8 300.4,1035.3 302.1,1036.1 303.7,1035.6 305.3,1037.3 307.0,1038.0 308.6,1037.7 310.2,1038.5 311.9,1038.3 313.5,1038.5 315.1,1038.7 316.8,1039.1 318.4,1040.2 320.0,1039.6 321.6,1041.0 323.3,1040.4 324.9,1039.1 326.5,1040.2 328.2,1041.5 329.8,1040.9 331.4,1041.3 333.1,1041.8 334.7,1042.6 336.3,1041.8 338.0,1041.9 339.6,1041.8 341.2,1042.2 342.9,1041.4 344.5,1042.8 346.1,1045.3 347.8,1044.0 349.4,1043.1 351.0,1044.2 352.7,1042.8 354.3,1044.9 355.9,1044.3 357.6,1044.4 359.2,1044.6 360.8,1043.4 362.4,1044.8 364.1,1044.1 365.7,1045.0 367.3,1043.8 369.0,1044.1 370.6,1043.4 372.2,1045.5 373.9,1045.0 375.5,1044.6 377.1,1045.2 378.8,1045.7 380.4,1046.3 382.0,1045.0 383.7,1045.1 385.3,1045.3 386.9,1045.3 388.6,1045.6 390.2,1045.6 391.8,1047.2 393.5,1045.0 395.1,1045.4 396.7,1045.2 398.4,1046.1 400.0,1046.0 401.6,1045.8 403.2,1045.4 404.9,1045.7 406.5,1045.0 408.1,1045.1 409.8,1045.1 411.4,1045.0 413.0,1045.3 414.7,1045.7 416.3,1045.7 417.9,1046.3 419.6,1046.5 421.2,1045.6 422.8,1044.4 424.5,1045.3 426.1,1045.0 427.7,1044.3 429.4,1043.1 431.0,1039.7 432.6,1028.9 434.3,1003.0 435.9,964.7 437.5,923.6 439.2,898.4 440.8,887.0 442.4,879.6 444.0,876.5 445.7,874.8 447.3,870.5 448.9,866.0 450.6,863.2 452.2,857.3 453.8,851.5 455.5,846.3 457.1,838.8 458.7,830.4 460.4,819.6 462.0,807.6 463.6,795.2 465.3,783.6 466.9,770.8 468.5,760.9 470.2,752.9 471.8,750.1 473.4,751.0 475.1,751.9 476.7,759.5 478.3,771.7 480.0,784.5 481.6,797.9 483.2,809.6 484.8,822.9 486.5,834.8 488.1,844.2 489.7,853.4 491.4,862.2 493.0,868.5 494.6,873.9 496.3,879.7 497.9,885.1 499.5,889.4 501.2,894.7 502.8,898.7 504.4,904.0 506.1,908.4 507.7,911.6 509.3,915.1 511.0,919.1 512.6,922.8 514.2,925.7 515.9,930.2 517.5,933.1 519.1,937.0 520.8,940.1 522.4,942.7 524.0,944.9 525.6,949.4 527.3,952.8 528.9,954.1 530.5,956.6 532.2,960.0 533.8,963.0 535.4,965.2 537.1,967.8 538.7,971.0 540.3,972.2 542.0,973.9 543.6,977.2 545.2,978.0 546.9,982.3 548.5,982.3 550.1,986.0 551.8,987.2 553.4,989.3 555.0,991.1 556.7,990.8 558.3,994.0 559.9,994.5 561.6,995.9 563.2,998.4 564.8,1000.5 566.4,1002.0 568.1,1003.9 569.7,1004.4 571.3,1005.2 573.0,1007.9 574.6,1009.2 576.2,1010.0 577.9,1010.1 579.5,1012.5 581.1,1012.4 582.8,1015.5 584.4,1015.5 586.0,1015.8 587.7,1018.4 589.3,1019.3 590.9,1019.3 592.6,1021.0 594.2,1021.5 595.8,1022.3 597.5,1022.8 599.1,1023.3 600.7,1025.9 602.4,1026.1 604.0,1026.2 605.6,1027.2 607.2,1028.0 608.9,1029.6 610.5,1029.5 612.1,1031.2 613.8,1030.3 615.4,1032.2 617.0,1034.4 618.7,1035.1 620.3,1033.4 621.9,1033.2 623.6,1034.7 625.2,1035.2 626.8,1036.0 628.5,1036.7 630.1,1037.4 631.7,1038.8 633.4,1038.2 635.0,1038.3 636.6,1039.4 638.3,1039.3 639.9,1039.5 641.5,1041.5 643.2,1040.7 644.8,1041.4 646.4,1040.9 648.0,1041.6 649.7,1042.1 651.3,1043.9 652.9,1042.5 654.6,1044.0 656.2,1044.3 657.8,1044.3 659.5,1044.1 661.1,1045.0 662.7,1043.6 664.4,1044.1 666.0,1045.9 667.6,1045.7 669.3,1046.7 670.9,1047.3 672.5,1047.3 674.2,1046.3 675.8,1047.2 677.4,1047.8 679.1,1047.9 680.7,1048.5 682.3,1048.1 684.0,1047.8 685.6,1047.3 687.2,1048.2 688.8,1049.0 690.5,1049.4 692.1,1047.3 693.7,1049.5 695.4,1049.4 697.0,1050.7 698.6,1049.9 700.3,1050.2 701.9,1049.9 703.5,1049.3 705.2,1049.8 706.8,1051.0 L706.8,1057.1 Z" stroke="#744f47" stroke-dasharray="0 1.93 1103.29 99999"/><path d="M182.6,1062.0 L182.6,1060.9 184.3,1059.9 185.9,1059.3 187.5,1060.0 189.2,1059.6 190.8,1059.0 192.4,1059.7 194.0,1058.5 195.7,1059.2 197.3,1057.3 198.9,1058.3 200.6,1058.5 202.2,1058.1 203.8,1058.4 205.5,1057.2 207.1,1058.0 208.7,1056.3 210.4,1056.6 212.0,1057.1 213.6,1055.5 215.3,1055.3 216.9,1056.0 218.5,1054.4 220.2,1054.4 221.8,1053.6 223.4,1054.2 225.1,1051.9 226.7,1052.4 228.3,1051.0 230.0,1049.5 231.6,1049.5 233.2,1047.9 234.8,1046.1 236.5,1045.8 238.1,1043.2 239.7,1039.2 241.4,1033.8 243.0,1027.2 244.6,1015.0 246.3,1001.4 247.9,990.4 249.5,992.5 251.2,998.8 252.8,1009.7 254.4,1015.8 256.1,1022.6 257.7,1024.4 259.3,1026.8 261.0,1028.9 262.6,1029.6 264.2,1031.0 265.9,1033.3 267.5,1032.6 269.1,1034.1 270.8,1033.8 272.4,1035.7 274.0,1036.2 275.6,1036.4 277.3,1037.8 278.9,1037.5 280.5,1038.4 282.2,1039.4 283.8,1038.6 285.4,1039.2 287.1,1040.8 288.7,1039.9 290.3,1040.0 292.0,1040.8 293.6,1042.2 295.2,1042.2 296.9,1042.6 298.5,1042.2 300.1,1044.0 301.8,1043.1 303.4,1043.4 305.0,1045.3 306.7,1043.5 308.3,1044.3 309.9,1046.0 311.6,1045.4 313.2,1044.8 314.8,1046.3 316.4,1047.2 318.1,1046.7 319.7,1046.8 321.3,1046.4 323.0,1046.4 324.6,1047.6 326.2,1048.6 327.9,1047.9 329.5,1048.2 331.1,1047.9 332.8,1047.2 334.4,1049.0 336.0,1047.3 337.7,1048.3 339.3,1048.0 340.9,1050.4 342.6,1049.1 344.2,1048.7 345.8,1049.6 347.5,1049.5 349.1,1049.8 350.7,1049.9 352.4,1050.1 354.0,1049.2 355.6,1050.4 357.2,1050.4 358.9,1049.3 360.5,1050.2 362.1,1050.6 363.8,1048.7 365.4,1052.0 367.0,1050.1 368.7,1050.4 370.3,1049.0 371.9,1050.4 373.6,1051.2 375.2,1050.8 376.8,1051.3 378.5,1049.6 380.1,1050.7 381.7,1050.6 383.4,1050.9 385.0,1050.4 386.6,1051.4 388.3,1050.7 389.9,1051.1 391.5,1050.5 393.2,1050.9 394.8,1050.5 396.4,1049.9 398.0,1050.7 399.7,1050.3 401.3,1050.9 402.9,1051.1 404.6,1050.7 406.2,1050.8 407.8,1050.5 409.5,1050.7 411.1,1050.7 412.7,1051.2 414.4,1050.0 416.0,1050.8 417.6,1050.6 419.3,1049.5 420.9,1048.7 422.5,1048.5 424.2,1047.3 425.8,1042.7 427.4,1032.9 429.1,1006.4 430.7,965.2 432.3,923.5 434.0,896.8 435.6,883.6 437.2,878.4 438.8,873.1 440.5,869.9 442.1,866.5 443.7,863.4 445.4,857.7 447.0,853.7 448.6,846.8 450.3,841.6 451.9,833.8 453.5,826.3 455.2,813.5 456.8,801.4 458.4,787.1 460.1,773.3 461.7,762.4 463.3,752.4 465.0,744.8 466.6,740.1 468.2,740.1 469.9,742.4 471.5,750.1 473.1,763.3 474.8,777.6 476.4,790.4 478.0,804.2 479.6,817.3 481.3,828.0 482.9,838.8 484.5,849.6 486.2,856.6 487.8,864.2 489.4,870.5 491.1,877.7 492.7,882.1 494.3,887.6 496.0,891.5 497.6,897.0 499.2,901.4 500.9,905.2 502.5,910.5 504.1,913.3 505.8,917.0 507.4,921.8 509.0,925.9 510.7,929.5 512.3,933.1 513.9,936.1 515.6,940.0 517.2,941.7 518.8,945.9 520.4,948.8 522.1,952.3 523.7,954.9 525.3,957.7 527.0,960.9 528.6,963.7 530.2,967.1 531.9,969.4 533.5,971.1 535.1,972.3 536.8,975.9 538.4,978.5 540.0,980.0 541.7,982.2 543.3,984.5 544.9,986.6 546.6,989.9 548.2,989.6 549.8,993.4 551.5,995.2 553.1,996.9 554.7,998.6 556.4,1000.0 558.0,1001.4 559.6,1002.1 561.2,1005.1 562.9,1006.0 564.5,1007.5 566.1,1008.9 567.8,1010.1 569.4,1010.3 571.0,1013.1 572.7,1014.0 574.3,1015.2 575.9,1015.7 577.6,1017.0 579.2,1018.8 580.8,1019.7 582.5,1020.9 584.1,1022.5 585.7,1023.3 587.4,1023.6 589.0,1026.6 590.6,1026.5 592.3,1026.4 593.9,1028.0 595.5,1028.8 597.2,1029.6 598.8,1029.7 600.4,1030.8 602.0,1032.8 603.7,1032.2 605.3,1034.0 606.9,1034.8 608.6,1035.3 610.2,1036.7 611.8,1036.4 613.5,1037.4 615.1,1038.9 616.7,1038.2 618.4,1038.1 620.0,1040.3 621.6,1040.9 623.3,1042.2 624.9,1040.5 626.5,1041.8 628.2,1042.8 629.8,1042.1 631.4,1043.1 633.1,1042.0 634.7,1044.3 636.3,1044.2 638.0,1045.2 639.6,1044.7 641.2,1046.5 642.8,1045.4 644.5,1046.8 646.1,1047.0 647.7,1047.3 649.4,1047.7 651.0,1048.4 652.6,1048.8 654.3,1049.0 655.9,1048.8 657.5,1049.4 659.2,1049.1 660.8,1050.0 662.4,1049.6 664.1,1050.9 665.7,1050.1 667.3,1052.5 669.0,1052.3 670.6,1051.5 672.2,1051.3 673.9,1051.1 675.5,1052.4 677.1,1051.7 678.8,1052.7 680.4,1053.7 682.0,1052.4 683.6,1053.0 685.3,1053.6 686.9,1053.4 688.5,1053.6 690.2,1054.0 691.8,1054.2 693.4,1054.8 695.1,1054.1 696.7,1055.4 698.3,1055.2 700.0,1054.0 701.6,1055.2 L701.6,1062.0 Z" stroke="#714e48" stroke-dasharray="0 1.06 1121.89 99999"/><path d="M177.4,1066.8 L177.4,1064.1 179.1,1065.6 180.7,1065.9 182.3,1064.1 184.0,1064.5 185.6,1064.3 187.2,1064.8 188.8,1063.6 190.5,1065.0 192.1,1063.5 193.7,1062.4 195.4,1063.4 197.0,1062.6 198.6,1064.2 200.3,1063.2 201.9,1062.5 203.5,1061.6 205.2,1062.2 206.8,1061.3 208.4,1061.1 210.1,1061.2 211.7,1060.2 213.3,1060.8 215.0,1059.3 216.6,1058.3 218.2,1058.9 219.9,1058.6 221.5,1057.8 223.1,1056.8 224.8,1056.0 226.4,1055.1 228.0,1054.7 229.6,1052.6 231.3,1050.4 232.9,1049.1 234.5,1044.7 236.2,1040.5 237.8,1033.4 239.4,1023.6 241.1,1011.1 242.7,999.3 244.3,1001.9 246.0,1009.4 247.6,1016.8 249.2,1023.7 250.9,1029.9 252.5,1031.1 254.1,1033.9 255.8,1036.0 257.4,1037.1 259.0,1038.2 260.7,1039.9 262.3,1039.5 263.9,1039.7 265.6,1040.6 267.2,1041.8 268.8,1043.5 270.4,1043.6 272.1,1044.8 273.7,1044.4 275.3,1044.7 277.0,1045.0 278.6,1046.5 280.2,1046.2 281.9,1047.4 283.5,1047.7 285.1,1047.2 286.8,1047.9 288.4,1047.0 290.0,1047.3 291.7,1048.1 293.3,1048.1 294.9,1049.0 296.6,1050.8 298.2,1050.3 299.8,1049.9 301.5,1049.0 303.1,1051.0 304.7,1051.6 306.4,1052.8 308.0,1051.5 309.6,1051.7 311.2,1052.2 312.9,1051.9 314.5,1051.3 316.1,1052.9 317.8,1053.6 319.4,1052.0 321.0,1053.7 322.7,1053.1 324.3,1052.3 325.9,1053.5 327.6,1052.9 329.2,1054.1 330.8,1053.6 332.5,1053.8 334.1,1053.7 335.7,1055.1 337.4,1054.1 339.0,1055.3 340.6,1055.1 342.3,1055.5 343.9,1055.8 345.5,1055.9 347.2,1055.5 348.8,1054.2 350.4,1056.1 352.0,1054.6 353.7,1056.1 355.3,1055.0 356.9,1056.9 358.6,1055.4 360.2,1055.7 361.8,1055.0 363.5,1057.3 365.1,1056.1 366.7,1057.1 368.4,1055.6 370.0,1057.3 371.6,1057.0 373.3,1055.8 374.9,1055.8 376.5,1056.0 378.2,1055.8 379.8,1056.5 381.4,1055.1 383.1,1056.1 384.7,1057.3 386.3,1056.5 388.0,1056.4 389.6,1055.3 391.2,1055.4 392.8,1055.6 394.5,1056.7 396.1,1055.4 397.7,1056.4 399.4,1056.0 401.0,1055.6 402.6,1056.8 404.3,1055.5 405.9,1055.9 407.5,1056.5 409.2,1054.8 410.8,1055.4 412.4,1055.3 414.1,1056.4 415.7,1054.6 417.3,1054.7 419.0,1054.0 420.6,1048.4 422.2,1037.4 423.9,1011.8 425.5,969.6 427.1,928.1 428.8,900.6 430.4,887.3 432.0,880.5 433.6,877.7 435.3,874.0 436.9,868.3 438.5,864.8 440.2,860.8 441.8,853.2 443.4,847.6 445.1,839.6 446.7,830.2 448.3,820.0 450.0,808.0 451.6,792.9 453.2,777.1 454.9,762.8 456.5,749.2 458.1,736.4 459.8,729.8 461.4,726.6 463.0,727.2 464.7,730.2 466.3,736.5 467.9,745.7 469.6,754.0 471.2,762.0 472.8,769.5 474.4,775.7 476.1,780.6 477.7,784.8 479.3,786.5 481.0,786.2 482.6,786.4 484.2,784.1 485.9,780.2 487.5,778.9 489.1,774.8 490.8,772.1 492.4,771.2 494.0,768.6 495.7,767.5 497.3,772.3 498.9,780.7 500.6,790.9 502.2,800.7 503.8,810.5 505.5,821.2 507.1,831.2 508.7,841.1 510.4,848.7 512.0,859.1 513.6,867.7 515.2,874.6 516.9,883.7 518.5,889.6 520.1,895.9 521.8,902.3 523.4,908.0 525.0,912.6 526.7,916.9 528.3,922.9 529.9,925.2 531.6,930.2 533.2,936.5 534.8,939.3 536.5,943.4 538.1,945.8 539.7,948.7 541.4,953.2 543.0,957.1 544.6,960.6 546.3,962.6 547.9,966.9 549.5,967.8 551.2,971.4 552.8,973.5 554.4,977.4 556.0,978.9 557.7,982.9 559.3,984.9 560.9,987.0 562.6,990.0 564.2,992.2 565.8,993.1 567.5,997.0 569.1,997.0 570.7,1000.6 572.4,1002.7 574.0,1005.1 575.6,1006.9 577.3,1008.4 578.9,1009.4 580.5,1010.8 582.2,1012.3 583.8,1014.2 585.4,1015.8 587.1,1016.2 588.7,1018.6 590.3,1019.9 592.0,1021.5 593.6,1023.1 595.2,1024.1 596.8,1025.4 598.5,1026.5 600.1,1025.2 601.7,1027.8 603.4,1030.4 605.0,1031.7 606.6,1032.1 608.3,1032.8 609.9,1033.5 611.5,1034.6 613.2,1036.7 614.8,1037.7 616.4,1037.7 618.1,1038.7 619.7,1040.5 621.3,1040.7 623.0,1040.4 624.6,1042.1 626.2,1042.3 627.9,1042.4 629.5,1042.5 631.1,1044.6 632.8,1044.6 634.4,1045.3 636.0,1046.3 637.6,1046.9 639.3,1046.1 640.9,1047.9 642.5,1048.0 644.2,1048.4 645.8,1047.9 647.4,1049.5 649.1,1048.8 650.7,1049.7 652.3,1051.3 654.0,1050.8 655.6,1052.3 657.2,1052.2 658.9,1052.7 660.5,1051.9 662.1,1053.8 663.8,1052.9 665.4,1053.8 667.0,1053.7 668.7,1056.1 670.3,1055.0 671.9,1055.3 673.6,1053.8 675.2,1054.5 676.8,1056.1 678.4,1056.3 680.1,1057.8 681.7,1056.6 683.3,1057.6 685.0,1056.5 686.6,1058.3 688.2,1057.6 689.9,1058.0 691.5,1058.4 693.1,1058.6 694.8,1058.7 696.4,1059.7 L696.4,1066.8 Z" stroke="#6e4e48" stroke-dasharray="0 2.68 1176.32 99999"/><path d="M172.2,1071.6 L172.2,1069.3 173.9,1068.8 175.5,1070.1 177.1,1069.8 178.8,1070.0 180.4,1068.9 182.0,1068.8 183.6,1069.6 185.3,1069.7 186.9,1068.5 188.5,1067.5 190.2,1067.2 191.8,1068.1 193.4,1067.9 195.1,1066.2 196.7,1066.2 198.3,1067.5 200.0,1067.3 201.6,1067.5 203.2,1065.7 204.9,1065.9 206.5,1065.9 208.1,1065.2 209.8,1065.4 211.4,1063.3 213.0,1063.6 214.7,1062.6 216.3,1063.5 217.9,1062.3 219.6,1060.6 221.2,1059.7 222.8,1059.2 224.4,1058.5 226.1,1056.6 227.7,1053.6 229.3,1050.8 231.0,1046.5 232.6,1038.9 234.2,1030.2 235.9,1017.0 237.5,1005.7 239.1,1006.4 240.8,1015.1 242.4,1022.3 244.0,1029.8 245.7,1033.4 247.3,1036.6 248.9,1038.4 250.6,1040.6 252.2,1042.0 253.8,1043.6 255.5,1043.6 257.1,1044.5 258.7,1046.2 260.4,1047.8 262.0,1046.5 263.6,1047.6 265.2,1048.7 266.9,1049.3 268.5,1049.2 270.1,1050.2 271.8,1049.8 273.4,1050.8 275.0,1050.8 276.7,1053.3 278.3,1052.3 279.9,1053.2 281.6,1053.1 283.2,1052.6 284.8,1053.2 286.5,1053.2 288.1,1054.3 289.7,1055.1 291.4,1054.2 293.0,1055.2 294.6,1054.6 296.3,1054.8 297.9,1055.2 299.5,1057.1 301.2,1055.8 302.8,1057.0 304.4,1055.9 306.0,1057.0 307.7,1056.8 309.3,1056.6 310.9,1057.4 312.6,1056.7 314.2,1058.6 315.8,1058.6 317.5,1056.6 319.1,1057.8 320.7,1057.4 322.4,1058.4 324.0,1059.2 325.6,1058.0 327.3,1058.2 328.9,1059.0 330.5,1059.8 332.2,1059.1 333.8,1058.8 335.4,1060.4 337.1,1060.1 338.7,1060.3 340.3,1059.6 342.0,1059.1 343.6,1060.7 345.2,1060.0 346.8,1059.3 348.5,1060.9 350.1,1059.8 351.7,1061.2 353.4,1061.4 355.0,1060.9 356.6,1060.1 358.3,1060.8 359.9,1061.4 361.5,1061.8 363.2,1060.5 364.8,1059.6 366.4,1059.9 368.1,1060.9 369.7,1061.5 371.3,1060.7 373.0,1061.7 374.6,1061.6 376.2,1061.5 377.9,1060.6 379.5,1059.7 381.1,1061.4 382.8,1061.5 384.4,1060.1 386.0,1061.4 387.6,1060.0 389.3,1061.2 390.9,1061.5 392.5,1060.7 394.2,1061.2 395.8,1061.6 397.4,1061.4 399.1,1060.9 400.7,1060.1 402.3,1059.6 404.0,1060.9 405.6,1060.5 407.2,1060.1 408.9,1059.3 410.5,1060.0 412.1,1060.2 413.8,1057.0 415.4,1053.9 417.0,1041.2 418.7,1014.1 420.3,969.7 421.9,926.5 423.6,899.1 425.2,886.1 426.8,880.6 428.4,875.2 430.1,873.9 431.7,870.8 433.3,868.1 435.0,863.1 436.6,857.8 438.2,851.9 439.9,843.5 441.5,835.4 443.1,823.1 444.8,810.8 446.4,796.1 448.0,779.7 449.7,766.3 451.3,753.8 452.9,744.8 454.6,742.1 456.2,744.1 457.8,751.2 459.5,763.4 461.1,779.3 462.7,797.2 464.4,816.8 466.0,834.5 467.6,851.3 469.2,865.8 470.9,877.6 472.5,884.7 474.1,893.1 475.8,896.9 477.4,899.2 479.0,900.6 480.7,901.5 482.3,900.4 483.9,900.8 485.6,899.6 487.2,899.9 488.8,904.0 490.5,908.6 492.1,913.8 493.7,919.4 495.4,924.7 497.0,929.8 498.6,937.0 500.3,942.5 501.9,948.6 503.5,954.0 505.2,959.3 506.8,963.7 508.4,969.3 510.0,972.9 511.7,977.9 513.3,980.5 514.9,984.2 516.6,988.7 518.2,991.7 519.8,994.4 521.5,996.8 523.1,999.8 524.7,1001.7 526.4,1005.3 528.0,1007.5 529.6,1008.4 531.3,1010.6 532.9,1013.0 534.5,1015.5 536.2,1017.3 537.8,1018.7 539.4,1021.0 541.1,1022.2 542.7,1023.7 544.3,1023.8 546.0,1027.0 547.6,1028.7 549.2,1030.0 550.8,1030.2 552.5,1033.3 554.1,1033.1 555.7,1034.5 557.4,1035.6 559.0,1036.3 560.6,1038.7 562.3,1038.8 563.9,1040.9 565.5,1040.7 567.2,1042.1 568.8,1042.4 570.4,1044.3 572.1,1045.7 573.7,1045.6 575.3,1046.7 577.0,1047.6 578.6,1047.6 580.2,1048.5 581.9,1049.8 583.5,1049.9 585.1,1050.4 586.8,1050.5 588.4,1051.7 590.0,1052.9 591.6,1054.2 593.3,1053.1 594.9,1055.1 596.5,1055.5 598.2,1055.4 599.8,1056.0 601.4,1057.3 603.1,1058.2 604.7,1056.9 606.3,1057.6 608.0,1057.9 609.6,1056.7 611.2,1058.9 612.9,1058.9 614.5,1058.8 616.1,1059.1 617.8,1060.0 619.4,1061.4 621.0,1060.6 622.7,1061.0 624.3,1061.1 625.9,1062.8 627.6,1060.8 629.2,1062.4 630.8,1062.7 632.4,1061.2 634.1,1061.4 635.7,1063.3 637.3,1063.0 639.0,1064.6 640.6,1063.9 642.2,1064.2 643.9,1065.6 645.5,1063.5 647.1,1065.9 648.8,1063.0 650.4,1065.9 652.0,1066.7 653.7,1065.2 655.3,1064.6 656.9,1066.8 658.6,1065.6 660.2,1065.8 661.8,1066.5 663.5,1066.0 665.1,1066.3 666.7,1066.4 668.4,1066.7 670.0,1067.0 671.6,1066.4 673.2,1066.3 674.9,1067.6 676.5,1067.7 678.1,1065.7 679.8,1067.4 681.4,1067.8 683.0,1068.4 684.7,1066.6 686.3,1067.1 687.9,1068.1 689.6,1066.6 691.2,1066.9 L691.2,1071.6 Z" stroke="#654843" stroke-dasharray="0 2.33 1156.19 99999"/><path d="M167.0,1076.4 L167.0,1075.8 168.7,1075.1 170.3,1074.4 171.9,1074.1 173.6,1073.8 175.2,1075.7 176.8,1074.9 178.4,1073.7 180.1,1073.5 181.7,1073.2 183.3,1073.9 185.0,1072.7 186.6,1073.3 188.2,1072.7 189.9,1072.2 191.5,1072.7 193.1,1071.9 194.8,1073.2 196.4,1071.4 198.0,1071.7 199.7,1071.2 201.3,1071.4 202.9,1072.7 204.6,1069.8 206.2,1069.5 207.8,1068.4 209.5,1070.2 211.1,1069.7 212.7,1067.8 214.4,1067.7 216.0,1066.7 217.6,1064.7 219.2,1064.0 220.9,1062.7 222.5,1060.4 224.1,1059.4 225.8,1054.8 227.4,1048.1 229.0,1040.4 230.7,1028.1 232.3,1020.1 233.9,1020.1 235.6,1028.6 237.2,1034.0 238.8,1040.3 240.5,1044.2 242.1,1045.9 243.7,1047.9 245.4,1050.4 247.0,1051.9 248.6,1051.4 250.3,1052.7 251.9,1052.2 253.5,1053.8 255.2,1054.5 256.8,1055.3 258.4,1056.5 260.0,1056.4 261.7,1055.6 263.3,1057.0 264.9,1058.2 266.6,1057.9 268.2,1057.8 269.8,1058.9 271.5,1059.4 273.1,1059.8 274.7,1059.3 276.4,1059.7 278.0,1059.3 279.6,1059.7 281.3,1060.1 282.9,1062.1 284.5,1061.3 286.2,1061.2 287.8,1061.6 289.4,1061.6 291.1,1062.6 292.7,1062.6 294.3,1062.4 296.0,1062.1 297.6,1062.4 299.2,1062.7 300.8,1063.8 302.5,1062.5 304.1,1063.1 305.7,1063.7 307.4,1063.6 309.0,1064.6 310.6,1065.2 312.3,1066.1 313.9,1064.2 315.5,1064.6 317.2,1065.2 318.8,1065.0 320.4,1066.2 322.1,1064.5 323.7,1064.5 325.3,1066.1 327.0,1066.2 328.6,1066.6 330.2,1065.9 331.9,1067.3 333.5,1066.7 335.1,1066.5 336.8,1065.8 338.4,1066.5 340.0,1065.3 341.6,1065.5 343.3,1066.1 344.9,1066.7 346.5,1066.0 348.2,1066.0 349.8,1065.3 351.4,1067.3 353.1,1066.2 354.7,1066.7 356.3,1066.3 358.0,1066.9 359.6,1067.0 361.2,1065.6 362.9,1067.4 364.5,1066.4 366.1,1067.1 367.8,1065.8 369.4,1066.8 371.0,1066.5 372.7,1067.1 374.3,1067.1 375.9,1067.9 377.6,1065.6 379.2,1065.9 380.8,1067.3 382.4,1066.1 384.1,1066.9 385.7,1066.4 387.3,1065.6 389.0,1065.4 390.6,1065.2 392.2,1065.5 393.9,1066.4 395.5,1066.6 397.1,1065.4 398.8,1066.0 400.4,1065.8 402.0,1067.1 403.7,1067.0 405.3,1065.9 406.9,1063.8 408.6,1064.6 410.2,1059.9 411.8,1050.0 413.5,1031.2 415.1,998.2 416.7,964.4 418.4,942.5 420.0,933.8 421.6,929.7 423.2,927.1 424.9,924.6 426.5,921.0 428.1,920.2 429.8,917.1 431.4,911.8 433.0,908.5 434.7,902.8 436.3,895.5 437.9,887.0 439.6,877.4 441.2,865.8 442.8,854.2 444.5,841.5 446.1,833.6 447.7,826.7 449.4,825.2 451.0,827.0 452.6,832.8 454.3,841.2 455.9,853.6 457.5,866.3 459.2,879.7 460.8,894.0 462.4,907.3 464.0,918.0 465.7,927.0 467.3,934.8 468.9,938.6 470.6,943.6 472.2,943.6 473.8,944.6 475.5,945.2 477.1,944.5 478.7,945.0 480.4,944.1 482.0,944.3 483.6,948.0 485.3,952.6 486.9,954.6 488.5,959.7 490.2,963.8 491.8,968.1 493.4,972.2 495.1,977.3 496.7,980.4 498.3,984.5 500.0,988.8 501.6,992.9 503.2,996.3 504.8,999.7 506.5,1002.8 508.1,1005.5 509.7,1008.1 511.4,1010.2 513.0,1013.5 514.6,1017.4 516.3,1019.2 517.9,1019.7 519.5,1022.6 521.2,1023.3 522.8,1025.0 524.4,1026.6 526.1,1029.7 527.7,1030.5 529.3,1031.3 531.0,1033.4 532.6,1034.6 534.2,1036.3 535.9,1036.9 537.5,1037.9 539.1,1040.1 540.8,1039.4 542.4,1041.9 544.0,1042.9 545.6,1044.1 547.3,1044.2 548.9,1045.6 550.5,1047.1 552.2,1048.7 553.8,1048.7 555.4,1050.9 557.1,1050.2 558.7,1052.6 560.3,1051.3 562.0,1052.6 563.6,1053.6 565.2,1052.8 566.9,1054.0 568.5,1055.9 570.1,1056.2 571.8,1055.9 573.4,1057.0 575.0,1057.9 576.7,1059.5 578.3,1058.4 579.9,1058.4 581.6,1060.9 583.2,1060.2 584.8,1060.7 586.4,1059.6 588.1,1061.9 589.7,1061.2 591.3,1061.7 593.0,1062.6 594.6,1063.7 596.2,1063.3 597.9,1063.4 599.5,1063.6 601.1,1065.4 602.8,1065.9 604.4,1064.4 606.0,1065.5 607.7,1066.9 609.3,1066.5 610.9,1066.8 612.6,1067.1 614.2,1068.0 615.8,1067.8 617.5,1067.6 619.1,1067.6 620.7,1067.2 622.4,1069.3 624.0,1068.7 625.6,1069.5 627.2,1068.2 628.9,1069.0 630.5,1069.4 632.1,1069.6 633.8,1068.9 635.4,1069.5 637.0,1070.2 638.7,1069.9 640.3,1068.8 641.9,1071.1 643.6,1070.5 645.2,1071.1 646.8,1071.0 648.5,1071.2 650.1,1070.5 651.7,1071.1 653.4,1069.8 655.0,1071.4 656.6,1072.2 658.3,1071.6 659.9,1070.9 661.5,1072.1 663.2,1071.0 664.8,1072.5 666.4,1072.1 668.0,1071.3 669.7,1072.6 671.3,1072.0 672.9,1071.7 674.6,1072.0 676.2,1071.1 677.8,1072.9 679.5,1071.7 681.1,1072.7 682.7,1072.4 684.4,1072.5 686.0,1072.6 L686.0,1076.4 Z" stroke="#5c433e" stroke-dasharray="0 0.60 997.74 99999"/><path d="M161.8,1081.3 L161.8,1079.1 163.5,1079.8 165.1,1080.1 166.7,1078.0 168.4,1079.2 170.0,1078.7 171.6,1080.1 173.2,1078.8 174.9,1078.5 176.5,1079.0 178.1,1078.8 179.8,1078.8 181.4,1078.9 183.0,1077.4 184.7,1078.6 186.3,1077.0 187.9,1078.1 189.6,1076.4 191.2,1078.0 192.8,1077.5 194.5,1077.0 196.1,1076.3 197.7,1075.9 199.4,1075.5 201.0,1077.2 202.6,1074.9 204.3,1073.2 205.9,1075.2 207.5,1073.7 209.2,1073.7 210.8,1073.1 212.4,1071.5 214.0,1070.4 215.7,1070.6 217.3,1068.5 218.9,1065.9 220.6,1063.3 222.2,1057.0 223.8,1048.3 225.5,1040.1 227.1,1031.5 228.7,1033.3 230.4,1038.5 232.0,1044.7 233.6,1047.8 235.3,1053.4 236.9,1056.4 238.5,1056.7 240.2,1057.7 241.8,1059.9 243.4,1061.3 245.1,1061.4 246.7,1061.9 248.3,1062.6 250.0,1061.7 251.6,1064.1 253.2,1063.5 254.8,1064.1 256.5,1064.2 258.1,1064.9 259.7,1066.0 261.4,1065.0 263.0,1065.7 264.6,1065.5 266.3,1066.4 267.9,1065.8 269.5,1067.2 271.2,1065.1 272.8,1067.8 274.4,1068.3 276.1,1066.8 277.7,1067.4 279.3,1068.2 281.0,1068.0 282.6,1068.9 284.2,1067.5 285.9,1068.7 287.5,1069.3 289.1,1068.5 290.8,1069.4 292.4,1069.1 294.0,1069.8 295.6,1069.4 297.3,1069.7 298.9,1070.0 300.5,1070.8 302.2,1070.6 303.8,1070.7 305.4,1070.9 307.1,1069.8 308.7,1071.4 310.3,1070.7 312.0,1071.0 313.6,1070.6 315.2,1071.2 316.9,1070.9 318.5,1071.9 320.1,1070.8 321.8,1071.1 323.4,1072.1 325.0,1072.3 326.7,1073.4 328.3,1072.3 329.9,1071.9 331.6,1072.2 333.2,1073.7 334.8,1070.9 336.4,1072.1 338.1,1071.3 339.7,1071.8 341.3,1072.1 343.0,1072.5 344.6,1072.8 346.2,1072.5 347.9,1072.6 349.5,1072.6 351.1,1071.7 352.8,1072.3 354.4,1071.8 356.0,1073.0 357.7,1072.7 359.3,1072.9 360.9,1073.0 362.6,1071.7 364.2,1072.2 365.8,1072.8 367.5,1072.0 369.1,1071.3 370.7,1072.7 372.4,1073.0 374.0,1072.1 375.6,1071.9 377.2,1072.9 378.9,1072.1 380.5,1071.2 382.1,1071.5 383.8,1071.3 385.4,1071.9 387.0,1071.3 388.7,1071.3 390.3,1071.6 391.9,1071.0 393.6,1069.7 395.2,1072.6 396.8,1071.6 398.5,1069.3 400.1,1071.7 401.7,1071.3 403.4,1069.9 405.0,1069.0 406.6,1063.5 408.3,1055.5 409.9,1039.0 411.5,1021.7 413.2,1012.5 414.8,1006.7 416.4,1005.5 418.0,1004.1 419.7,1004.5 421.3,1001.0 422.9,999.6 424.6,998.9 426.2,996.8 427.8,995.4 429.5,991.3 431.1,987.9 432.7,985.2 434.4,980.1 436.0,973.8 437.6,970.0 439.3,964.2 440.9,958.3 442.5,955.5 444.2,954.6 445.8,955.2 447.4,959.1 449.1,962.4 450.7,968.5 452.3,974.9 454.0,983.0 455.6,989.0 457.2,995.2 458.8,1000.3 460.5,1003.5 462.1,1007.0 463.7,1009.8 465.4,1012.5 467.0,1012.1 468.6,1013.0 470.3,1013.4 471.9,1013.2 473.5,1013.2 475.2,1012.0 476.8,1013.2 478.4,1014.6 480.1,1016.5 481.7,1017.2 483.3,1019.6 485.0,1021.8 486.6,1025.5 488.2,1026.6 489.9,1028.8 491.5,1030.3 493.1,1030.7 494.8,1034.5 496.4,1036.0 498.0,1038.2 499.6,1039.2 501.3,1041.1 502.9,1042.0 504.5,1043.4 506.2,1045.5 507.8,1045.8 509.4,1049.4 511.1,1048.3 512.7,1050.7 514.3,1050.3 516.0,1050.8 517.6,1053.0 519.2,1053.8 520.9,1054.5 522.5,1054.4 524.1,1056.8 525.8,1056.6 527.4,1056.3 529.0,1058.7 530.7,1058.2 532.3,1059.8 533.9,1059.3 535.6,1061.2 537.2,1061.6 538.8,1061.3 540.4,1061.7 542.1,1062.2 543.7,1062.8 545.3,1063.5 547.0,1064.0 548.6,1063.7 550.2,1064.6 551.9,1064.7 553.5,1066.7 555.1,1065.2 556.8,1067.8 558.4,1067.2 560.0,1066.6 561.7,1068.1 563.3,1068.6 564.9,1068.3 566.6,1067.7 568.2,1068.2 569.8,1070.4 571.5,1069.4 573.1,1070.3 574.7,1071.1 576.4,1071.1 578.0,1071.7 579.6,1071.7 581.2,1072.3 582.9,1070.9 584.5,1071.9 586.1,1071.5 587.8,1071.9 589.4,1073.4 591.0,1072.2 592.7,1073.8 594.3,1073.8 595.9,1073.2 597.6,1073.8 599.2,1074.0 600.8,1073.4 602.5,1074.0 604.1,1076.4 605.7,1073.2 607.4,1073.0 609.0,1074.2 610.6,1074.2 612.3,1074.7 613.9,1075.7 615.5,1075.2 617.2,1075.2 618.8,1075.2 620.4,1075.3 622.0,1076.0 623.7,1075.3 625.3,1074.6 626.9,1075.1 628.6,1075.8 630.2,1076.7 631.8,1076.9 633.5,1076.4 635.1,1077.3 636.7,1076.5 638.4,1076.6 640.0,1076.3 641.6,1076.0 643.3,1076.6 644.9,1076.8 646.5,1076.8 648.2,1077.6 649.8,1076.9 651.4,1076.3 653.1,1076.8 654.7,1077.5 656.3,1077.3 658.0,1076.9 659.6,1077.0 661.2,1076.9 662.8,1078.8 664.5,1077.2 666.1,1077.3 667.7,1077.8 669.4,1077.7 671.0,1078.4 672.6,1078.2 674.3,1078.1 675.9,1078.6 677.5,1078.4 679.2,1077.9 680.8,1078.2 L680.8,1081.3 Z" stroke="#533e39" stroke-dasharray="0 2.18 777.54 99999"/><path d="M156.6,1086.1 L156.6,1085.7 158.3,1083.2 159.9,1086.5 161.5,1084.2 163.2,1084.9 164.8,1084.2 166.4,1083.9 168.0,1083.9 169.7,1084.0 171.3,1084.1 172.9,1082.9 174.6,1084.4 176.2,1082.7 177.8,1083.8 179.5,1083.1 181.1,1082.7 182.7,1083.0 184.4,1083.4 186.0,1082.8 187.6,1082.3 189.3,1083.0 190.9,1081.8 192.5,1082.4 194.2,1081.9 195.8,1080.9 197.4,1081.5 199.1,1079.8 200.7,1079.9 202.3,1080.4 204.0,1079.7 205.6,1077.9 207.2,1076.7 208.8,1076.2 210.5,1076.8 212.1,1073.8 213.7,1071.3 215.4,1068.4 217.0,1064.6 218.6,1057.5 220.3,1049.5 221.9,1043.0 223.5,1044.1 225.2,1049.5 226.8,1053.4 228.4,1058.8 230.1,1060.6 231.7,1062.2 233.3,1064.6 235.0,1066.3 236.6,1067.3 238.2,1067.2 239.9,1069.5 241.5,1068.3 243.1,1070.5 244.8,1071.0 246.4,1070.1 248.0,1072.7 249.6,1072.5 251.3,1072.0 252.9,1072.5 254.5,1073.0 256.2,1073.6 257.8,1074.5 259.4,1074.3 261.1,1075.4 262.7,1075.0 264.3,1075.5 266.0,1075.5 267.6,1075.3 269.2,1077.2 270.9,1076.0 272.5,1076.5 274.1,1077.3 275.8,1076.2 277.4,1077.4 279.0,1077.2 280.7,1077.8 282.3,1079.3 283.9,1077.4 285.6,1078.0 287.2,1076.5 288.8,1078.1 290.4,1078.9 292.1,1077.2 293.7,1078.5 295.3,1078.7 297.0,1078.5 298.6,1077.0 300.2,1077.1 301.9,1078.6 303.5,1078.2 305.1,1077.4 306.8,1078.5 308.4,1077.8 310.0,1078.0 311.7,1076.6 313.3,1076.8 314.9,1077.8 316.6,1078.2 318.2,1077.3 319.8,1077.4 321.5,1078.1 323.1,1077.0 324.7,1076.1 326.4,1076.8 328.0,1076.3 329.6,1076.6 331.2,1075.8 332.9,1075.5 334.5,1075.1 336.1,1076.0 337.8,1075.1 339.4,1075.3 341.0,1074.2 342.7,1074.5 344.3,1072.7 345.9,1073.4 347.6,1072.5 349.2,1070.6 350.8,1072.0 352.5,1071.2 354.1,1070.6 355.7,1070.0 357.4,1069.9 359.0,1069.0 360.6,1069.2 362.3,1068.0 363.9,1067.8 365.5,1066.6 367.2,1066.4 368.8,1066.4 370.4,1065.9 372.0,1065.9 373.7,1064.5 375.3,1064.3 376.9,1065.1 378.6,1062.5 380.2,1063.9 381.8,1063.3 383.5,1061.8 385.1,1062.5 386.7,1060.9 388.4,1060.5 390.0,1060.2 391.6,1060.7 393.3,1059.2 394.9,1060.3 396.5,1057.4 398.2,1058.8 399.8,1058.1 401.4,1056.3 403.1,1056.4 404.7,1057.1 406.3,1057.4 408.0,1055.3 409.6,1056.1 411.2,1056.1 412.8,1054.6 414.5,1055.6 416.1,1054.4 417.7,1056.4 419.4,1055.3 421.0,1053.9 422.6,1054.2 424.3,1054.8 425.9,1055.1 427.5,1054.1 429.2,1053.8 430.8,1055.6 432.4,1056.1 434.1,1055.2 435.7,1055.1 437.3,1055.5 439.0,1056.6 440.6,1056.2 442.2,1055.7 443.9,1057.0 445.5,1055.8 447.1,1056.8 448.8,1056.8 450.4,1057.3 452.0,1057.5 453.6,1059.3 455.3,1058.8 456.9,1058.8 458.5,1059.0 460.2,1059.3 461.8,1059.1 463.4,1060.8 465.1,1061.6 466.7,1062.3 468.3,1062.1 470.0,1062.1 471.6,1062.2 473.2,1062.9 474.9,1063.8 476.5,1063.3 478.1,1064.4 479.8,1064.5 481.4,1065.7 483.0,1065.2 484.7,1066.4 486.3,1065.7 487.9,1066.9 489.6,1067.5 491.2,1068.2 492.8,1068.6 494.4,1069.4 496.1,1068.7 497.7,1070.2 499.3,1071.3 501.0,1071.3 502.6,1070.7 504.2,1071.6 505.9,1072.1 507.5,1073.4 509.1,1072.6 510.8,1073.6 512.4,1074.1 514.0,1074.1 515.7,1075.1 517.3,1075.6 518.9,1076.8 520.6,1074.9 522.2,1075.7 523.8,1075.2 525.5,1075.3 527.1,1076.8 528.7,1077.9 530.4,1078.0 532.0,1078.9 533.6,1078.8 535.2,1078.7 536.9,1079.5 538.5,1079.3 540.1,1079.7 541.8,1079.8 543.4,1081.1 545.0,1079.7 546.7,1080.9 548.3,1080.7 549.9,1080.0 551.6,1082.1 553.2,1080.7 554.8,1081.1 556.5,1081.6 558.1,1082.0 559.7,1082.0 561.4,1082.3 563.0,1081.7 564.6,1082.6 566.3,1082.6 567.9,1082.8 569.5,1081.6 571.2,1081.5 572.8,1082.3 574.4,1082.5 576.0,1083.6 577.7,1082.8 579.3,1082.9 580.9,1084.3 582.6,1083.2 584.2,1083.7 585.8,1084.0 587.5,1083.6 589.1,1082.4 590.7,1082.9 592.4,1084.2 594.0,1084.3 595.6,1083.4 597.3,1085.2 598.9,1083.4 600.5,1085.2 602.2,1083.8 603.8,1083.3 605.4,1084.1 607.1,1082.3 608.7,1083.6 610.3,1084.2 612.0,1084.6 613.6,1084.6 615.2,1083.9 616.8,1082.9 618.5,1084.6 620.1,1084.5 621.7,1083.6 623.4,1084.3 625.0,1084.7 626.6,1084.9 628.3,1084.6 629.9,1084.3 631.5,1083.5 633.2,1083.3 634.8,1084.3 636.4,1085.1 638.1,1084.1 639.7,1083.7 641.3,1084.3 643.0,1084.7 644.6,1085.1 646.2,1083.7 647.9,1084.0 649.5,1083.7 651.1,1083.5 652.8,1083.1 654.4,1082.8 656.0,1084.1 657.6,1084.7 659.3,1083.5 660.9,1083.8 662.5,1083.6 664.2,1084.5 665.8,1084.0 667.4,1084.1 669.1,1084.1 670.7,1083.8 672.3,1084.2 674.0,1084.7 675.6,1085.1 L675.6,1086.1 Z" stroke="#4a3834" stroke-dasharray="0 0.36 632.70 99999"/><path d="M151.4,1090.9 L151.4,1089.4 153.1,1091.2 154.7,1087.4 156.3,1089.0 158.0,1089.7 159.6,1089.6 161.2,1088.4 162.8,1089.6 164.5,1089.3 166.1,1089.6 167.7,1088.3 169.4,1088.0 171.0,1088.2 172.6,1088.5 174.3,1088.5 175.9,1088.9 177.5,1088.4 179.2,1089.1 180.8,1088.2 182.4,1087.5 184.1,1086.3 185.7,1085.7 187.3,1085.2 189.0,1086.4 190.6,1086.4 192.2,1086.1 193.9,1084.3 195.5,1083.7 197.1,1084.7 198.8,1084.2 200.4,1082.9 202.0,1083.5 203.6,1083.5 205.3,1081.8 206.9,1079.7 208.5,1078.2 210.2,1075.4 211.8,1070.2 213.4,1064.7 215.1,1054.7 216.7,1049.5 218.3,1049.9 220.0,1055.1 221.6,1058.9 223.2,1062.6 224.9,1067.0 226.5,1068.9 228.1,1069.5 229.8,1070.6 231.4,1071.9 233.0,1074.0 234.7,1074.6 236.3,1075.4 237.9,1075.0 239.6,1075.9 241.2,1077.1 242.8,1076.1 244.4,1078.9 246.1,1077.4 247.7,1078.8 249.3,1078.8 251.0,1079.3 252.6,1078.1 254.2,1080.6 255.9,1080.4 257.5,1079.3 259.1,1080.6 260.8,1080.2 262.4,1080.1 264.0,1081.3 265.7,1081.3 267.3,1080.8 268.9,1081.9 270.6,1081.9 272.2,1082.5 273.8,1081.9 275.5,1081.7 277.1,1082.6 278.7,1082.1 280.4,1083.5 282.0,1083.4 283.6,1083.8 285.2,1082.6 286.9,1082.3 288.5,1082.9 290.1,1083.2 291.8,1083.5 293.4,1083.3 295.0,1084.0 296.7,1083.6 298.3,1083.7 299.9,1083.7 301.6,1084.0 303.2,1082.9 304.8,1082.7 306.5,1083.0 308.1,1081.3 309.7,1082.2 311.4,1083.5 313.0,1083.6 314.6,1082.6 316.3,1082.1 317.9,1081.9 319.5,1083.4 321.2,1081.4 322.8,1081.4 324.4,1081.3 326.0,1080.4 327.7,1080.6 329.3,1081.4 330.9,1080.2 332.6,1081.1 334.2,1079.5 335.8,1079.5 337.5,1078.9 339.1,1078.4 340.7,1079.5 342.4,1077.6 344.0,1078.0 345.6,1076.5 347.3,1077.6 348.9,1075.7 350.5,1076.5 352.2,1075.2 353.8,1075.2 355.4,1075.0 357.1,1075.2 358.7,1074.4 360.3,1073.9 362.0,1073.4 363.6,1073.0 365.2,1071.6 366.8,1072.2 368.5,1071.2 370.1,1071.7 371.7,1070.5 373.4,1069.3 375.0,1068.9 376.6,1069.8 378.3,1068.8 379.9,1068.9 381.5,1068.0 383.2,1066.6 384.8,1065.6 386.4,1066.8 388.1,1065.1 389.7,1065.7 391.3,1064.1 393.0,1065.3 394.6,1063.3 396.2,1063.6 397.9,1063.4 399.5,1063.1 401.1,1062.9 402.8,1063.5 404.4,1061.9 406.0,1062.7 407.6,1062.5 409.3,1062.2 410.9,1062.5 412.5,1063.2 414.2,1060.9 415.8,1061.4 417.4,1061.3 419.1,1060.8 420.7,1061.0 422.3,1061.7 424.0,1062.2 425.6,1062.0 427.2,1060.6 428.9,1060.9 430.5,1061.9 432.1,1062.1 433.8,1062.0 435.4,1062.2 437.0,1062.7 438.7,1062.8 440.3,1063.8 441.9,1063.2 443.6,1063.3 445.2,1064.3 446.8,1064.9 448.4,1064.6 450.1,1063.1 451.7,1065.7 453.3,1065.6 455.0,1067.0 456.6,1066.0 458.2,1066.4 459.9,1067.2 461.5,1067.3 463.1,1065.5 464.8,1067.5 466.4,1069.5 468.0,1068.6 469.7,1069.9 471.3,1069.1 472.9,1070.7 474.6,1070.8 476.2,1070.6 477.8,1072.4 479.5,1072.2 481.1,1072.7 482.7,1072.3 484.4,1073.6 486.0,1072.7 487.6,1075.0 489.2,1074.7 490.9,1075.9 492.5,1075.6 494.1,1076.9 495.8,1075.9 497.4,1076.7 499.0,1078.4 500.7,1077.2 502.3,1077.3 503.9,1079.1 505.6,1078.8 507.2,1079.5 508.8,1080.5 510.5,1079.8 512.1,1081.4 513.7,1081.5 515.4,1082.3 517.0,1081.0 518.6,1081.7 520.3,1083.2 521.9,1083.8 523.5,1082.4 525.2,1083.9 526.8,1083.0 528.4,1083.5 530.0,1083.5 531.7,1084.3 533.3,1083.8 534.9,1086.2 536.6,1085.0 538.2,1085.4 539.8,1085.3 541.5,1084.9 543.1,1085.1 544.7,1085.3 546.4,1085.7 548.0,1085.3 549.6,1086.3 551.3,1085.9 552.9,1086.3 554.5,1086.6 556.2,1087.5 557.8,1087.2 559.4,1087.6 561.1,1086.4 562.7,1088.5 564.3,1087.5 566.0,1087.9 567.6,1087.6 569.2,1088.2 570.8,1088.5 572.5,1088.1 574.1,1088.2 575.7,1088.5 577.4,1089.0 579.0,1089.2 580.6,1088.9 582.3,1088.7 583.9,1088.2 585.5,1089.0 587.2,1089.1 588.8,1089.7 590.4,1089.1 592.1,1087.5 593.7,1088.0 595.3,1089.8 597.0,1088.9 598.6,1088.7 600.2,1087.9 601.9,1088.6 603.5,1088.6 605.1,1089.1 606.8,1088.1 608.4,1089.8 610.0,1089.2 611.6,1088.7 613.3,1089.6 614.9,1089.4 616.5,1089.9 618.2,1088.7 619.8,1089.0 621.4,1088.4 623.1,1089.1 624.7,1089.8 626.3,1088.4 628.0,1088.5 629.6,1088.8 631.2,1088.0 632.9,1090.0 634.5,1089.9 636.1,1088.9 637.8,1090.2 639.4,1089.2 641.0,1088.0 642.7,1090.1 644.3,1088.5 645.9,1087.7 647.6,1089.1 649.2,1089.6 650.8,1087.9 652.4,1089.3 654.1,1087.5 655.7,1088.4 657.3,1090.2 659.0,1088.5 660.6,1090.0 662.2,1088.3 663.9,1089.2 665.5,1088.8 667.1,1088.9 668.8,1088.5 670.4,1088.9 L670.4,1090.9 Z" stroke="#473632" stroke-dasharray="0 1.56 635.66 99999"/><path d="M146.2,1095.8 L146.2,1093.5 147.9,1094.6 149.5,1094.3 151.1,1095.3 152.8,1093.9 154.4,1094.9 156.0,1094.0 157.6,1094.1 159.3,1093.0 160.9,1093.9 162.5,1094.2 164.2,1092.8 165.8,1094.5 167.4,1093.2 169.1,1093.0 170.7,1092.1 172.3,1093.9 174.0,1092.8 175.6,1092.4 177.2,1092.8 178.9,1092.3 180.5,1093.1 182.1,1091.6 183.8,1090.5 185.4,1091.6 187.0,1091.8 188.7,1092.0 190.3,1090.5 191.9,1089.9 193.6,1089.0 195.2,1089.1 196.8,1087.9 198.4,1087.5 200.1,1085.3 201.7,1084.5 203.3,1082.9 205.0,1079.6 206.6,1074.8 208.2,1068.5 209.9,1061.4 211.5,1054.7 213.1,1055.7 214.8,1059.0 216.4,1065.1 218.0,1068.4 219.7,1071.6 221.3,1075.6 222.9,1075.8 224.6,1077.8 226.2,1078.5 227.8,1077.7 229.5,1079.0 231.1,1079.8 232.7,1080.6 234.4,1080.7 236.0,1081.3 237.6,1082.5 239.2,1083.1 240.9,1082.8 242.5,1083.4 244.1,1083.7 245.8,1083.5 247.4,1085.7 249.0,1084.3 250.7,1084.0 252.3,1085.9 253.9,1084.4 255.6,1085.5 257.2,1085.9 258.8,1086.5 260.5,1085.4 262.1,1086.7 263.7,1087.2 265.4,1086.6 267.0,1086.3 268.6,1088.1 270.3,1087.1 271.9,1088.2 273.5,1088.5 275.2,1087.6 276.8,1087.6 278.4,1088.4 280.0,1087.4 281.7,1088.5 283.3,1088.3 284.9,1088.8 286.6,1089.7 288.2,1087.8 289.8,1089.9 291.5,1089.1 293.1,1088.9 294.7,1089.0 296.4,1088.1 298.0,1088.6 299.6,1087.6 301.3,1088.5 302.9,1088.9 304.5,1087.1 306.2,1088.2 307.8,1089.1 309.4,1087.7 311.1,1086.9 312.7,1088.2 314.3,1087.5 316.0,1086.3 317.6,1086.6 319.2,1085.8 320.8,1086.0 322.5,1087.0 324.1,1085.8 325.7,1087.3 327.4,1086.0 329.0,1085.2 330.6,1084.0 332.3,1085.7 333.9,1084.5 335.5,1084.1 337.2,1084.3 338.8,1081.9 340.4,1083.2 342.1,1083.2 343.7,1082.5 345.3,1081.3 347.0,1080.7 348.6,1081.5 350.2,1079.5 351.9,1079.0 353.5,1078.9 355.1,1079.0 356.8,1078.8 358.4,1078.0 360.0,1077.5 361.6,1077.3 363.3,1076.5 364.9,1076.2 366.5,1076.6 368.2,1075.7 369.8,1074.3 371.4,1074.8 373.1,1075.0 374.7,1073.3 376.3,1073.7 378.0,1073.8 379.6,1072.9 381.2,1071.5 382.9,1070.6 384.5,1071.6 386.1,1071.3 387.8,1071.8 389.4,1070.1 391.0,1070.4 392.7,1069.7 394.3,1069.9 395.9,1069.4 397.6,1069.3 399.2,1067.9 400.8,1070.0 402.4,1069.6 404.1,1069.0 405.7,1068.4 407.3,1068.5 409.0,1068.6 410.6,1067.6 412.2,1068.2 413.9,1068.3 415.5,1067.4 417.1,1066.8 418.8,1069.2 420.4,1067.8 422.0,1070.2 423.7,1067.6 425.3,1067.4 426.9,1069.5 428.6,1068.9 430.2,1068.6 431.8,1069.0 433.5,1069.2 435.1,1069.0 436.7,1070.3 438.4,1069.5 440.0,1069.8 441.6,1070.3 443.2,1070.8 444.9,1071.4 446.5,1070.7 448.1,1070.3 449.8,1072.0 451.4,1072.1 453.0,1071.6 454.7,1073.3 456.3,1073.9 457.9,1073.7 459.6,1074.6 461.2,1074.7 462.8,1074.3 464.5,1075.3 466.1,1076.8 467.7,1076.0 469.4,1076.1 471.0,1076.7 472.6,1078.3 474.3,1078.3 475.9,1078.6 477.5,1080.3 479.2,1080.2 480.8,1078.7 482.4,1080.0 484.0,1079.4 485.7,1080.3 487.3,1081.9 488.9,1081.1 490.6,1082.2 492.2,1082.2 493.8,1082.5 495.5,1083.9 497.1,1084.4 498.7,1084.7 500.4,1083.7 502.0,1085.1 503.6,1085.2 505.3,1086.5 506.9,1085.4 508.5,1086.8 510.2,1086.1 511.8,1087.1 513.4,1086.5 515.1,1086.8 516.7,1087.9 518.3,1087.4 520.0,1088.2 521.6,1089.4 523.2,1089.6 524.8,1088.6 526.5,1090.2 528.1,1089.9 529.7,1090.8 531.4,1089.9 533.0,1091.2 534.6,1090.2 536.3,1090.7 537.9,1090.5 539.5,1090.5 541.2,1091.7 542.8,1090.7 544.4,1091.9 546.1,1091.2 547.7,1092.0 549.3,1091.1 551.0,1092.1 552.6,1092.4 554.2,1092.2 555.9,1092.0 557.5,1092.2 559.1,1092.7 560.8,1092.6 562.4,1093.6 564.0,1092.6 565.6,1093.6 567.3,1091.7 568.9,1092.8 570.5,1093.1 572.2,1093.5 573.8,1093.1 575.4,1092.3 577.1,1093.0 578.7,1093.2 580.3,1093.0 582.0,1093.1 583.6,1092.7 585.2,1094.1 586.9,1094.1 588.5,1092.9 590.1,1093.1 591.8,1093.9 593.4,1093.0 595.0,1091.7 596.7,1094.5 598.3,1094.4 599.9,1094.6 601.6,1092.8 603.2,1093.3 604.8,1093.0 606.4,1094.4 608.1,1094.1 609.7,1093.7 611.3,1092.8 613.0,1093.5 614.6,1094.5 616.2,1093.2 617.9,1093.2 619.5,1093.7 621.1,1094.0 622.8,1094.9 624.4,1094.7 626.0,1094.0 627.7,1094.2 629.3,1093.6 630.9,1092.9 632.6,1093.9 634.2,1093.7 635.8,1093.5 637.5,1093.8 639.1,1094.9 640.7,1094.3 642.4,1093.7 644.0,1093.8 645.6,1092.9 647.2,1094.0 648.9,1092.6 650.5,1094.9 652.1,1094.2 653.8,1093.4 655.4,1093.8 657.0,1093.3 658.7,1093.8 660.3,1094.0 661.9,1094.2 663.6,1094.0 665.2,1092.7 L665.2,1095.8 Z" stroke="#443431" stroke-dasharray="0 2.29 631.03 99999"/><path d="M141.0,1100.6 L141.0,1098.7 142.7,1099.2 144.3,1099.6 145.9,1099.3 147.6,1100.1 149.2,1098.2 150.8,1098.8 152.4,1098.2 154.1,1099.3 155.7,1099.0 157.3,1099.0 159.0,1098.0 160.6,1098.1 162.2,1098.3 163.9,1098.3 165.5,1097.9 167.1,1097.3 168.8,1098.2 170.4,1097.2 172.0,1096.3 173.7,1096.8 175.3,1097.2 176.9,1095.7 178.6,1097.5 180.2,1095.7 181.8,1095.8 183.5,1095.4 185.1,1094.4 186.7,1095.4 188.4,1093.9 190.0,1092.7 191.6,1092.9 193.2,1090.9 194.9,1091.9 196.5,1089.6 198.1,1088.3 199.8,1084.2 201.4,1080.3 203.0,1074.3 204.7,1065.9 206.3,1058.6 207.9,1060.4 209.6,1064.4 211.2,1070.4 212.8,1074.0 214.5,1075.7 216.1,1079.0 217.7,1080.2 219.4,1081.2 221.0,1082.4 222.6,1082.6 224.3,1084.1 225.9,1085.6 227.5,1086.1 229.2,1085.7 230.8,1086.9 232.4,1087.8 234.0,1087.4 235.7,1087.0 237.3,1087.8 238.9,1089.9 240.6,1089.0 242.2,1088.8 243.8,1089.3 245.5,1091.1 247.1,1089.7 248.7,1089.9 250.4,1090.0 252.0,1090.1 253.6,1091.5 255.3,1091.5 256.9,1092.0 258.5,1091.7 260.2,1091.9 261.8,1091.9 263.4,1092.0 265.1,1093.1 266.7,1093.2 268.3,1092.3 270.0,1092.0 271.6,1092.7 273.2,1092.7 274.8,1093.1 276.5,1093.6 278.1,1091.7 279.7,1092.5 281.4,1091.6 283.0,1092.9 284.6,1094.3 286.3,1092.9 287.9,1093.9 289.5,1093.0 291.2,1093.0 292.8,1093.8 294.4,1092.8 296.1,1093.1 297.7,1092.9 299.3,1093.1 301.0,1091.5 302.6,1093.0 304.2,1093.6 305.9,1092.9 307.5,1092.4 309.1,1091.9 310.8,1092.4 312.4,1093.0 314.0,1091.7 315.6,1091.7 317.3,1091.3 318.9,1091.1 320.5,1090.2 322.2,1090.3 323.8,1090.0 325.4,1090.2 327.1,1091.1 328.7,1089.7 330.3,1089.2 332.0,1090.1 333.6,1089.4 335.2,1088.8 336.9,1088.6 338.5,1087.5 340.1,1087.2 341.8,1086.8 343.4,1087.5 345.0,1085.5 346.7,1086.3 348.3,1085.7 349.9,1085.5 351.6,1084.8 353.2,1084.7 354.8,1083.8 356.4,1083.8 358.1,1082.3 359.7,1084.2 361.3,1081.9 363.0,1081.1 364.6,1081.5 366.2,1081.5 367.9,1081.8 369.5,1080.0 371.1,1080.3 372.8,1078.7 374.4,1078.8 376.0,1079.4 377.7,1078.0 379.3,1077.7 380.9,1078.1 382.6,1076.0 384.2,1076.0 385.8,1078.3 387.5,1076.6 389.1,1077.1 390.7,1076.2 392.4,1075.4 394.0,1074.9 395.6,1076.5 397.2,1074.4 398.9,1074.9 400.5,1077.6 402.1,1074.6 403.8,1074.5 405.4,1073.8 407.0,1074.4 408.7,1076.0 410.3,1074.7 411.9,1073.9 413.6,1075.8 415.2,1073.6 416.8,1075.1 418.5,1074.7 420.1,1074.7 421.7,1075.8 423.4,1077.5 425.0,1076.2 426.6,1076.2 428.3,1076.3 429.9,1076.0 431.5,1076.9 433.2,1077.1 434.8,1076.2 436.4,1077.5 438.0,1077.9 439.7,1077.3 441.3,1077.9 442.9,1078.5 444.6,1078.3 446.2,1078.0 447.8,1080.5 449.5,1079.9 451.1,1079.9 452.7,1080.0 454.4,1080.5 456.0,1080.3 457.6,1080.3 459.3,1081.2 460.9,1082.5 462.5,1082.6 464.2,1082.0 465.8,1083.2 467.4,1084.5 469.1,1084.4 470.7,1083.5 472.3,1083.7 474.0,1084.8 475.6,1085.4 477.2,1085.9 478.8,1085.9 480.5,1087.2 482.1,1087.1 483.7,1087.0 485.4,1089.2 487.0,1088.2 488.6,1088.7 490.3,1088.8 491.9,1089.2 493.5,1088.4 495.2,1091.1 496.8,1089.9 498.4,1090.4 500.1,1091.1 501.7,1091.7 503.3,1092.8 505.0,1092.2 506.6,1091.9 508.2,1092.9 509.9,1093.2 511.5,1092.2 513.1,1092.9 514.8,1093.4 516.4,1093.5 518.0,1094.4 519.6,1093.8 521.3,1094.7 522.9,1096.0 524.5,1095.2 526.2,1094.4 527.8,1094.0 529.4,1096.0 531.1,1096.2 532.7,1094.7 534.3,1096.2 536.0,1095.3 537.6,1096.3 539.2,1096.6 540.9,1096.6 542.5,1097.2 544.1,1098.1 545.8,1096.6 547.4,1096.7 549.0,1097.5 550.7,1097.1 552.3,1096.4 553.9,1097.6 555.6,1097.5 557.2,1096.4 558.8,1097.8 560.4,1096.6 562.1,1097.4 563.7,1098.6 565.3,1098.5 567.0,1097.5 568.6,1099.7 570.2,1097.1 571.9,1098.8 573.5,1098.7 575.1,1097.6 576.8,1097.9 578.4,1096.9 580.0,1098.7 581.7,1098.3 583.3,1098.0 584.9,1098.3 586.6,1099.3 588.2,1098.9 589.8,1097.9 591.5,1099.1 593.1,1098.5 594.7,1098.7 596.4,1099.5 598.0,1098.5 599.6,1098.3 601.2,1100.3 602.9,1099.0 604.5,1097.9 606.1,1099.2 607.8,1097.6 609.4,1097.8 611.0,1099.9 612.7,1099.0 614.3,1098.7 615.9,1099.4 617.6,1097.4 619.2,1098.5 620.8,1099.1 622.5,1099.4 624.1,1098.9 625.7,1098.9 627.4,1099.2 629.0,1099.1 630.6,1097.2 632.3,1098.5 633.9,1099.1 635.5,1098.0 637.2,1097.9 638.8,1098.6 640.4,1098.8 642.0,1098.9 643.7,1099.1 645.3,1097.9 646.9,1096.7 648.6,1099.8 650.2,1098.7 651.8,1098.0 653.5,1099.0 655.1,1099.1 656.7,1099.7 658.4,1099.9 660.0,1097.7 L660.0,1100.6 Z" stroke="#40322f" stroke-dasharray="0 1.92 638.88 99999"/><path d="M135.8,1105.4 L135.8,1103.4 137.5,1104.1 139.1,1102.9 140.7,1103.8 142.4,1102.4 144.0,1103.0 145.6,1104.2 147.2,1103.7 148.9,1103.3 150.5,1102.0 152.1,1104.1 153.8,1103.3 155.4,1103.6 157.0,1103.4 158.7,1101.5 160.3,1100.9 161.9,1102.3 163.6,1102.9 165.2,1103.0 166.8,1100.8 168.5,1100.8 170.1,1101.7 171.7,1101.2 173.4,1101.1 175.0,1099.6 176.6,1100.3 178.3,1099.8 179.9,1099.8 181.5,1099.9 183.2,1099.1 184.8,1098.3 186.4,1097.9 188.0,1096.7 189.7,1096.6 191.3,1093.7 192.9,1093.3 194.6,1089.5 196.2,1084.9 197.8,1077.9 199.5,1072.2 201.1,1064.5 202.7,1063.8 204.4,1069.0 206.0,1074.7 207.6,1079.2 209.3,1081.1 210.9,1082.5 212.5,1085.2 214.2,1086.9 215.8,1087.5 217.4,1089.5 219.1,1089.5 220.7,1089.7 222.3,1090.3 224.0,1090.2 225.6,1090.8 227.2,1092.1 228.8,1091.0 230.5,1092.6 232.1,1093.4 233.7,1093.2 235.4,1094.1 237.0,1095.0 238.6,1095.0 240.3,1094.6 241.9,1094.1 243.5,1096.4 245.2,1095.8 246.8,1095.2 248.4,1096.3 250.1,1096.1 251.7,1096.2 253.3,1095.8 255.0,1096.6 256.6,1097.0 258.2,1095.6 259.9,1097.6 261.5,1097.2 263.1,1099.7 264.8,1097.6 266.4,1099.3 268.0,1098.2 269.6,1099.9 271.3,1098.2 272.9,1097.5 274.5,1098.5 276.2,1098.4 277.8,1097.5 279.4,1098.7 281.1,1098.2 282.7,1099.3 284.3,1099.0 286.0,1099.9 287.6,1098.1 289.2,1099.0 290.9,1098.2 292.5,1098.0 294.1,1097.9 295.8,1098.6 297.4,1097.8 299.0,1098.1 300.7,1098.5 302.3,1098.8 303.9,1097.6 305.6,1097.6 307.2,1097.3 308.8,1097.1 310.4,1096.9 312.1,1096.2 313.7,1095.6 315.3,1096.6 317.0,1096.6 318.6,1095.5 320.2,1095.6 321.9,1095.6 323.5,1095.1 325.1,1095.3 326.8,1094.0 328.4,1094.6 330.0,1093.2 331.7,1094.3 333.3,1093.5 334.9,1092.5 336.6,1092.1 338.2,1092.3 339.8,1092.0 341.5,1090.8 343.1,1091.9 344.7,1092.6 346.4,1089.6 348.0,1090.5 349.6,1090.3 351.2,1089.4 352.9,1088.5 354.5,1088.7 356.1,1088.4 357.8,1087.8 359.4,1086.5 361.0,1087.2 362.7,1086.3 364.3,1085.9 365.9,1085.7 367.6,1086.0 369.2,1086.0 370.8,1084.0 372.5,1083.7 374.1,1084.3 375.7,1085.1 377.4,1083.6 379.0,1083.2 380.6,1083.3 382.3,1083.9 383.9,1082.8 385.5,1083.3 387.2,1082.9 388.8,1082.1 390.4,1082.3 392.0,1081.7 393.7,1082.2 395.3,1081.6 396.9,1081.6 398.6,1081.6 400.2,1080.6 401.8,1080.9 403.5,1081.3 405.1,1080.9 406.7,1080.0 408.4,1082.1 410.0,1080.7 411.6,1082.3 413.3,1083.4 414.9,1082.3 416.5,1080.6 418.2,1081.4 419.8,1081.6 421.4,1083.4 423.1,1080.5 424.7,1083.0 426.3,1083.1 428.0,1082.0 429.6,1083.3 431.2,1084.7 432.8,1083.8 434.5,1084.4 436.1,1084.0 437.7,1084.6 439.4,1084.7 441.0,1085.8 442.6,1087.1 444.3,1086.4 445.9,1087.2 447.5,1086.7 449.2,1086.9 450.8,1088.4 452.4,1087.9 454.1,1086.8 455.7,1087.8 457.3,1088.1 459.0,1088.7 460.6,1089.9 462.2,1088.3 463.9,1090.7 465.5,1090.5 467.1,1091.0 468.8,1090.9 470.4,1092.4 472.0,1092.8 473.6,1093.6 475.3,1093.0 476.9,1093.9 478.5,1093.8 480.2,1093.1 481.8,1094.5 483.4,1094.3 485.1,1094.4 486.7,1094.5 488.3,1095.7 490.0,1095.6 491.6,1095.8 493.2,1097.2 494.9,1097.2 496.5,1096.2 498.1,1097.4 499.8,1097.4 501.4,1097.7 503.0,1098.8 504.7,1098.1 506.3,1098.8 507.9,1097.9 509.6,1097.8 511.2,1098.1 512.8,1098.5 514.4,1098.9 516.1,1099.6 517.7,1099.8 519.3,1099.3 521.0,1100.4 522.6,1099.5 524.2,1100.6 525.9,1101.4 527.5,1101.4 529.1,1101.9 530.8,1100.0 532.4,1101.0 534.0,1101.1 535.7,1101.8 537.3,1102.7 538.9,1102.5 540.6,1101.6 542.2,1103.0 543.8,1103.0 545.5,1101.6 547.1,1102.9 548.7,1101.7 550.4,1103.1 552.0,1103.0 553.6,1103.0 555.2,1101.7 556.9,1101.5 558.5,1102.6 560.1,1102.3 561.8,1103.7 563.4,1103.3 565.0,1103.1 566.7,1103.8 568.3,1103.2 569.9,1102.4 571.6,1102.6 573.2,1103.3 574.8,1104.0 576.5,1103.1 578.1,1102.8 579.7,1102.4 581.4,1103.3 583.0,1103.6 584.6,1103.1 586.3,1102.3 587.9,1104.2 589.5,1103.3 591.2,1102.2 592.8,1102.9 594.4,1104.5 596.0,1105.0 597.7,1102.8 599.3,1103.5 600.9,1103.2 602.6,1102.9 604.2,1102.6 605.8,1103.2 607.5,1103.9 609.1,1103.4 610.7,1102.6 612.4,1104.4 614.0,1104.4 615.6,1103.3 617.3,1103.1 618.9,1103.9 620.5,1102.5 622.2,1103.2 623.8,1102.8 625.4,1103.5 627.1,1103.1 628.7,1103.8 630.3,1103.9 632.0,1104.2 633.6,1103.5 635.2,1103.1 636.8,1103.0 638.5,1103.6 640.1,1104.7 641.7,1102.8 643.4,1102.6 645.0,1103.2 646.6,1102.4 648.3,1102.4 649.9,1104.2 651.5,1102.3 653.2,1103.6 654.8,1103.7 L654.8,1105.4 Z" stroke="#3d302e" stroke-dasharray="0 1.98 631.07 99999"/><path d="M130.6,1110.2 L130.6,1109.4 132.3,1109.1 133.9,1108.6 135.5,1108.8 137.2,1107.6 138.8,1108.5 140.4,1107.6 142.0,1109.4 143.7,1108.8 145.3,1108.1 146.9,1108.3 148.6,1106.7 150.2,1108.8 151.8,1108.1 153.5,1107.1 155.1,1107.1 156.7,1107.7 158.4,1107.8 160.0,1106.8 161.6,1106.7 163.3,1105.7 164.9,1106.9 166.5,1106.7 168.2,1104.9 169.8,1105.9 171.4,1104.1 173.1,1105.5 174.7,1104.3 176.3,1103.6 178.0,1104.3 179.6,1102.8 181.2,1102.2 182.8,1101.4 184.5,1101.0 186.1,1099.6 187.7,1097.1 189.4,1095.1 191.0,1090.2 192.6,1084.3 194.3,1075.4 195.9,1068.7 197.5,1069.4 199.2,1074.0 200.8,1079.3 202.4,1082.2 204.1,1084.6 205.7,1087.7 207.3,1089.7 209.0,1090.6 210.6,1092.2 212.2,1093.8 213.9,1094.2 215.5,1094.0 217.1,1095.7 218.8,1094.9 220.4,1096.6 222.0,1097.0 223.6,1097.5 225.3,1097.4 226.9,1098.5 228.5,1096.9 230.2,1098.9 231.8,1098.2 233.4,1098.8 235.1,1099.4 236.7,1099.3 238.3,1099.3 240.0,1100.5 241.6,1100.8 243.2,1100.0 244.9,1101.2 246.5,1101.5 248.1,1101.8 249.8,1100.8 251.4,1100.7 253.0,1101.3 254.7,1102.4 256.3,1100.9 257.9,1103.2 259.6,1101.9 261.2,1103.1 262.8,1103.3 264.4,1102.2 266.1,1103.8 267.7,1103.0 269.3,1102.8 271.0,1103.0 272.6,1102.8 274.2,1103.0 275.9,1103.6 277.5,1103.5 279.1,1104.4 280.8,1103.8 282.4,1103.4 284.0,1104.3 285.7,1103.3 287.3,1103.6 288.9,1103.1 290.6,1102.9 292.2,1104.2 293.8,1103.2 295.5,1102.1 297.1,1103.1 298.7,1103.0 300.4,1102.6 302.0,1102.5 303.6,1101.5 305.2,1101.0 306.9,1102.8 308.5,1102.5 310.1,1100.4 311.8,1101.6 313.4,1100.8 315.0,1100.9 316.7,1100.6 318.3,1100.1 319.9,1101.2 321.6,1100.0 323.2,1098.9 324.8,1099.6 326.5,1099.2 328.1,1098.6 329.7,1099.0 331.4,1097.5 333.0,1097.8 334.6,1097.0 336.3,1098.1 337.9,1097.2 339.5,1097.5 341.2,1097.2 342.8,1095.0 344.4,1095.8 346.0,1096.3 347.7,1095.5 349.3,1095.1 350.9,1095.1 352.6,1094.0 354.2,1093.1 355.8,1092.5 357.5,1093.6 359.1,1092.4 360.7,1091.4 362.4,1091.5 364.0,1091.7 365.6,1092.1 367.3,1089.8 368.9,1091.0 370.5,1090.4 372.2,1090.9 373.8,1089.8 375.4,1090.2 377.1,1090.2 378.7,1089.5 380.3,1089.3 382.0,1087.7 383.6,1089.0 385.2,1089.6 386.8,1088.0 388.5,1088.3 390.1,1088.5 391.7,1088.8 393.4,1087.9 395.0,1088.5 396.6,1087.8 398.3,1087.9 399.9,1087.8 401.5,1088.4 403.2,1086.2 404.8,1088.3 406.4,1089.4 408.1,1088.2 409.7,1088.2 411.3,1088.9 413.0,1088.4 414.6,1089.1 416.2,1088.8 417.9,1088.4 419.5,1089.4 421.1,1088.9 422.8,1089.2 424.4,1091.4 426.0,1090.7 427.6,1090.7 429.3,1090.6 430.9,1091.0 432.5,1091.2 434.2,1092.2 435.8,1090.9 437.4,1092.3 439.1,1092.3 440.7,1091.9 442.3,1093.5 444.0,1094.0 445.6,1092.9 447.2,1093.9 448.9,1095.1 450.5,1094.1 452.1,1095.0 453.8,1095.3 455.4,1094.4 457.0,1095.5 458.7,1096.0 460.3,1095.9 461.9,1097.3 463.6,1096.7 465.2,1097.3 466.8,1097.8 468.4,1098.0 470.1,1098.9 471.7,1099.2 473.3,1098.1 475.0,1098.0 476.6,1100.3 478.2,1100.9 479.9,1099.6 481.5,1100.8 483.1,1100.7 484.8,1100.7 486.4,1100.9 488.0,1101.4 489.7,1101.0 491.3,1101.7 492.9,1101.6 494.6,1102.9 496.2,1102.7 497.8,1103.0 499.5,1102.6 501.1,1103.4 502.7,1103.2 504.4,1104.1 506.0,1103.9 507.6,1104.0 509.2,1104.7 510.9,1105.6 512.5,1104.5 514.1,1105.9 515.8,1105.4 517.4,1106.3 519.0,1104.7 520.7,1105.4 522.3,1105.7 523.9,1107.0 525.6,1106.7 527.2,1106.2 528.8,1106.2 530.5,1106.0 532.1,1106.5 533.7,1106.8 535.4,1107.6 537.0,1107.2 538.6,1107.7 540.3,1106.5 541.9,1107.6 543.5,1106.5 545.2,1107.6 546.8,1107.5 548.4,1106.5 550.0,1108.6 551.7,1107.0 553.3,1107.6 554.9,1108.6 556.6,1107.4 558.2,1107.9 559.8,1109.0 561.5,1107.6 563.1,1107.0 564.7,1107.4 566.4,1109.5 568.0,1108.4 569.6,1107.9 571.3,1108.0 572.9,1108.2 574.5,1107.8 576.2,1108.6 577.8,1107.0 579.4,1108.3 581.1,1108.7 582.7,1108.7 584.3,1109.3 586.0,1108.3 587.6,1107.8 589.2,1107.0 590.8,1108.6 592.5,1109.0 594.1,1107.6 595.7,1107.6 597.4,1108.6 599.0,1108.5 600.6,1107.1 602.3,1107.8 603.9,1107.5 605.5,1108.0 607.2,1107.7 608.8,1108.1 610.4,1108.9 612.1,1107.4 613.7,1107.1 615.3,1108.5 617.0,1107.6 618.6,1108.0 620.2,1108.0 621.9,1108.4 623.5,1107.6 625.1,1108.0 626.8,1109.1 628.4,1107.8 630.0,1108.1 631.6,1107.5 633.3,1107.9 634.9,1108.2 636.5,1108.4 638.2,1107.9 639.8,1108.4 641.4,1107.7 643.1,1108.5 644.7,1108.3 646.3,1107.8 648.0,1107.7 649.6,1108.6 L649.6,1110.2 Z" stroke="#3a2e2c" stroke-dasharray="0 0.78 624.71 99999"/></g>
<polyline points="111.9,1128.1 113.0,1127.6 114.1,1127.6 115.2,1128.3 116.2,1128.2 117.3,1128.3 118.4,1127.8 119.5,1128.1 120.6,1127.8 121.7,1128.8 122.8,1127.4 123.9,1128.1 124.9,1127.8 126.0,1128.1 127.1,1128.2 128.2,1127.8 129.3,1127.7 130.4,1128.1 131.5,1128.0 132.6,1127.7 133.6,1128.3 134.7,1128.6 135.8,1127.8 136.9,1128.2 138.0,1128.7 139.1,1128.2 140.2,1128.0 141.3,1128.3 142.4,1128.4 143.4,1127.8 144.5,1127.4 145.6,1127.8 146.7,1128.0 147.8,1127.4 148.9,1127.2 150.0,1127.5 151.1,1126.9 152.1,1126.4 153.2,1126.4 154.3,1126.0 155.4,1124.5 156.5,1123.4 157.6,1121.6 158.7,1121.0 159.8,1119.2 160.8,1117.9 161.9,1117.0 163.0,1115.2 164.1,1113.8 165.2,1112.6 166.3,1108.4 167.4,1102.5 168.5,1093.7 169.6,1088.9 170.6,1090.3 171.7,1101.5 172.8,1108.3 173.9,1113.0 175.0,1117.0 176.1,1118.1 177.2,1119.7 178.3,1120.2 179.3,1121.5 180.4,1121.9 181.5,1122.2 182.6,1123.2 183.7,1122.9 184.8,1123.5 185.9,1123.6 187.0,1124.2 188.0,1123.8 189.1,1124.2 190.2,1124.7 191.3,1124.6 192.4,1124.5 193.5,1124.4 194.6,1125.9 195.7,1125.1 196.8,1125.4 197.8,1125.7 198.9,1126.2 200.0,1125.4 201.1,1126.5 202.2,1125.9 203.3,1125.7 204.4,1127.0 205.5,1126.5 206.5,1127.0 207.6,1126.5 208.7,1126.0 209.8,1125.9 210.9,1127.5 212.0,1127.1 213.1,1126.6 214.2,1126.3 215.2,1126.9 216.3,1127.4 217.4,1127.0 218.5,1127.2 219.6,1127.3 220.7,1127.6 221.8,1127.2 222.9,1127.3 224.0,1127.5 225.0,1127.6 226.1,1128.0 227.2,1127.7 228.3,1127.1 229.4,1127.7 230.5,1128.2 231.6,1127.1 232.7,1127.5 233.7,1126.9 234.8,1127.7 235.9,1128.0 237.0,1128.4 238.1,1127.3 239.2,1126.8 240.3,1128.2 241.4,1128.2 242.4,1127.7 243.5,1128.3 244.6,1128.1 245.7,1128.1 246.8,1127.9 247.9,1127.6 249.0,1128.1 250.1,1127.7 251.2,1128.3 252.2,1128.0 253.3,1129.0 254.4,1128.7 255.5,1127.8 256.6,1128.4 257.7,1127.9 258.8,1128.0 259.9,1127.7 260.9,1127.9 262.0,1127.8 263.1,1128.3 264.2,1128.5 265.3,1128.6 266.4,1128.5 267.5,1128.7 268.6,1128.5 269.6,1128.3 270.7,1128.2 271.8,1128.5 272.9,1129.1 274.0,1128.4 275.1,1128.2 276.2,1127.9 277.3,1128.1 278.4,1128.6 279.4,1128.7 280.5,1127.5 281.6,1128.1 282.7,1127.6 283.8,1127.5 284.9,1128.7 286.0,1128.2 287.1,1128.2 288.1,1128.2 289.2,1128.2 290.3,1128.3 291.4,1128.3 292.5,1129.0 293.6,1128.5 294.7,1128.7 295.8,1128.4 296.8,1128.6 297.9,1128.2 299.0,1128.1 300.1,1128.3 301.2,1128.3 302.3,1128.4 303.4,1128.6 304.5,1128.5 305.6,1128.7 306.6,1128.3 307.7,1128.5 308.8,1128.2 309.9,1129.0 311.0,1128.1 312.1,1128.8 313.2,1128.8 314.3,1128.6 315.3,1128.7 316.4,1128.4 317.5,1128.7 318.6,1128.9 319.7,1128.8 320.8,1128.0 321.9,1128.5 323.0,1129.0 324.0,1128.5 325.1,1129.1 326.2,1127.8 327.3,1129.1 328.4,1128.3 329.5,1128.3 330.6,1129.1 331.7,1128.4 332.8,1128.1 333.8,1128.3 334.9,1128.4 336.0,1128.1 337.1,1128.4 338.2,1128.4 339.3,1128.6 340.4,1128.3 341.5,1128.9 342.5,1128.2 343.6,1128.7 344.7,1129.0 345.8,1128.4 346.9,1127.8 348.0,1128.1 349.1,1128.7 350.2,1128.2 351.2,1128.7 352.3,1128.6 353.4,1128.5 354.5,1129.5 355.6,1128.4 356.7,1128.9 357.8,1128.8 358.9,1129.1 360.0,1129.1 361.0,1128.9 362.1,1128.2 363.2,1127.8 364.3,1128.5 365.4,1128.1 366.5,1128.6 367.6,1129.3 368.7,1128.5 369.7,1128.3 370.8,1128.7 371.9,1128.4 373.0,1128.3 374.1,1128.9 375.2,1129.1 376.3,1128.6 377.4,1128.6 378.4,1128.7 379.5,1128.1 380.6,1127.8 381.7,1128.7 382.8,1128.2 383.9,1128.1 385.0,1128.2 386.1,1128.1 387.2,1128.7 388.2,1128.2 389.3,1127.7 390.4,1128.2 391.5,1128.8 392.6,1128.3 393.7,1128.0 394.8,1128.4 395.9,1128.7 396.9,1127.9 398.0,1129.0 399.1,1128.3 400.2,1128.5 401.3,1129.0 402.4,1128.0 403.5,1128.4 404.6,1129.0 405.6,1128.3 406.7,1128.7 407.8,1129.3 408.9,1128.8 410.0,1128.4 411.1,1128.2 412.2,1128.4 413.3,1128.5 414.4,1128.3 415.4,1128.6 416.5,1128.0 417.6,1128.4 418.7,1128.4 419.8,1128.3 420.9,1128.9 422.0,1128.8 423.1,1127.9 424.1,1128.4 425.2,1128.6 426.3,1128.3 427.4,1128.7 428.5,1128.4 429.6,1128.8 430.7,1128.4 431.8,1129.1 432.8,1127.9 433.9,1128.7 435.0,1129.1 436.1,1128.6 437.2,1128.6 438.3,1128.4 439.4,1128.9 440.5,1128.3 441.6,1127.0 442.6,1129.0 443.7,1128.3 444.8,1128.6 445.9,1128.4 447.0,1129.2 448.1,1128.9 449.2,1128.3 450.3,1128.5 451.3,1127.8 452.4,1128.7 453.5,1128.4 454.6,1127.3 455.7,1128.8 456.8,1128.8 457.9,1128.5 459.0,1128.5 460.0,1128.1 461.1,1128.4 462.2,1128.8 463.3,1128.4 464.4,1127.4 465.5,1127.9 466.6,1129.6 467.7,1128.5 468.8,1128.8 469.8,1128.2 470.9,1128.5 472.0,1127.6 473.1,1128.0 474.2,1128.1 475.3,1128.3 476.4,1128.4 477.5,1128.3 478.5,1127.9 479.6,1128.2 480.7,1128.6 481.8,1127.9 482.9,1128.3 484.0,1128.4 485.1,1128.7 486.2,1128.6 487.2,1128.7 488.3,1129.6 489.4,1128.0 490.5,1128.2 491.6,1128.5 492.7,1128.0 493.8,1128.2 494.9,1128.2 496.0,1129.4 497.0,1128.5 498.1,1128.2 499.2,1127.7 500.3,1127.6 501.4,1127.8 502.5,1128.9 503.6,1129.3 504.7,1128.1 505.7,1128.4 506.8,1128.0 507.9,1128.4 509.0,1128.3 510.1,1129.0 511.2,1128.2 512.3,1128.5 513.4,1128.2 514.4,1128.2 515.5,1128.4 516.6,1128.2 517.7,1128.4 518.8,1128.0 519.9,1128.1 521.0,1128.6 522.1,1128.6 523.2,1127.6 524.2,1128.4 525.3,1127.9 526.4,1128.2 527.5,1128.6 528.6,1128.6 529.7,1128.3 530.8,1128.2 531.9,1128.1 532.9,1128.9 534.0,1128.6 535.1,1128.4 536.2,1127.7 537.3,1129.3 538.4,1128.1 539.5,1128.5 540.6,1128.1 541.6,1128.5 542.7,1128.2 543.8,1127.7 544.9,1128.2 546.0,1128.1 547.1,1128.2 548.2,1128.6 549.3,1128.1 550.4,1128.4 551.4,1128.6 552.5,1128.3 553.6,1128.4 554.7,1128.0 555.8,1128.3 556.9,1128.5 558.0,1127.7 559.1,1127.9 560.1,1127.8 561.2,1128.0 562.3,1128.3 563.4,1128.4 564.5,1128.4 565.6,1127.9 566.7,1128.2 567.8,1128.9 568.8,1128.3 569.9,1128.8 571.0,1128.2 572.1,1128.8 573.2,1128.8 574.3,1128.2 575.4,1128.3 576.5,1128.9 577.6,1127.9 578.6,1127.4 579.7,1128.9 580.8,1127.5 581.9,1128.5 583.0,1128.4 584.1,1128.3 585.2,1128.8 586.3,1127.7 587.3,1128.0 588.4,1128.5 589.5,1128.3 590.6,1128.8 591.7,1128.4 592.8,1127.8 593.9,1128.9 595.0,1128.4 596.0,1128.2 597.1,1127.8 598.2,1127.7 599.3,1128.4 600.4,1128.5 601.5,1128.0 602.6,1128.3 603.7,1128.3 604.8,1127.8 605.8,1127.5 606.9,1128.1 608.0,1128.3 609.1,1127.9 610.2,1129.0 611.3,1128.2 612.4,1128.6 613.5,1127.2 614.5,1127.9 615.6,1128.1 616.7,1128.2 617.8,1129.2 618.9,1127.9 620.0,1127.5 621.1,1128.5 622.2,1127.9 623.2,1127.9 624.3,1128.8 625.4,1127.8 626.5,1127.6 627.6,1128.1" fill="none" stroke="#1414ff" stroke-width="2.3" stroke-linejoin="round"/>
<text x="859.00" y="633.00" font-size="25.17" fill="#231f20" textLength="15.20" lengthAdjust="spacingAndGlyphs" stroke="#231f20" stroke-width="0.4">8</text>
<text x="858.00" y="715.00" font-size="23.61" fill="#231f20" textLength="16.20" lengthAdjust="spacingAndGlyphs" stroke="#231f20" stroke-width="0.4">6</text>
<text x="858.00" y="797.00" font-size="22.31" fill="#231f20" textLength="16.20" lengthAdjust="spacingAndGlyphs" stroke="#231f20" stroke-width="0.4">4</text>
<text x="859.00" y="878.50" font-size="23.11" fill="#231f20" textLength="16.20" lengthAdjust="spacingAndGlyphs" stroke="#231f20" stroke-width="0.4">2</text>
<text transform="translate(910.00,890.00) rotate(-90)" font-size="26.00" fill="#231f20" textLength="285.00" lengthAdjust="spacingAndGlyphs" stroke="#231f20" stroke-width="0.4">CL intensity (arb. units)</text>
<text x="111.00" y="1163.00" font-size="27.97" fill="#231f20" textLength="45.00" lengthAdjust="spacingAndGlyphs" stroke="#231f20" stroke-width="0.4">200</text>
<text x="220.00" y="1163.00" font-size="27.97" fill="#231f20" textLength="45.00" lengthAdjust="spacingAndGlyphs" stroke="#231f20" stroke-width="0.4">250</text>
<text x="329.00" y="1163.00" font-size="27.97" fill="#231f20" textLength="45.00" lengthAdjust="spacingAndGlyphs" stroke="#231f20" stroke-width="0.4">300</text>
<text x="438.00" y="1163.00" font-size="27.97" fill="#231f20" textLength="45.00" lengthAdjust="spacingAndGlyphs" stroke="#231f20" stroke-width="0.4">350</text>
<text x="546.00" y="1163.00" font-size="27.97" fill="#231f20" textLength="46.00" lengthAdjust="spacingAndGlyphs" stroke="#231f20" stroke-width="0.4">400</text>
<text x="252.40" y="1190.50" font-size="27.50" fill="#231f20" textLength="206.00" lengthAdjust="spacingAndGlyphs" stroke="#231f20" stroke-width="0.4">wavelength (nm)</text>
<text x="321.00" y="690.60" font-size="30.47" fill="#231f20" textLength="141.80" lengthAdjust="spacingAndGlyphs" stroke="#231f20" stroke-width="0.4">band edge</text>
<text x="544.80" y="613.70" font-size="27.09" fill="#231f20" textLength="125.00" lengthAdjust="spacingAndGlyphs" stroke="#231f20" stroke-width="0.4">sub-band</text>
<text x="841.00" y="1017.20" font-size="30.70" fill="#231f20" textLength="94.60" lengthAdjust="spacingAndGlyphs" stroke="#231f20" stroke-width="0.4">bubble</text>
<text x="739.00" y="1110.00" font-size="30.00" fill="#231f20" textLength="41.00" lengthAdjust="spacingAndGlyphs" stroke="#231f20" stroke-width="0.4">flat</text>
<text x="639.00" y="1147.20" font-size="29.53" fill="#1414ff" textLength="214.20" lengthAdjust="spacingAndGlyphs" stroke="#1414ff" stroke-width="0.4">unstacked hBN</text>
<line x1="372.2" y1="703.2" x2="372.2" y2="846" stroke="#000" stroke-width="2"/>
<path d="M366.2,840.2 L372.2,845.2 L378.2,840.2 L372.2,854.2 Z" fill="#000"/>
<linearGradient id="bargr" x1="870" y1="928.4" x2="690" y2="1095" gradientUnits="userSpaceOnUse"><stop offset="0" stop-color="#ee1c24"/><stop offset="0.45" stop-color="#9a1f22"/><stop offset="1" stop-color="#2a1c1c"/></linearGradient>
<path d="M864.2,928.4 L874.6,928.4 L694,1095.5 L683.6,1095.5 Z" fill="url(#bargr)"/>
<path d="M672.4,1095.7 L701.1,1095 L664,1117.4 Z" fill="#000"/>
<polyline points="881.3,928.5 904.7,928.5 748,1075 726,1075" fill="none" stroke="#000" stroke-width="2"/>
<polyline points="714,1087 735,1087 711,1111 689,1111" fill="none" stroke="#000" stroke-width="2"/>
</svg></body></html>
